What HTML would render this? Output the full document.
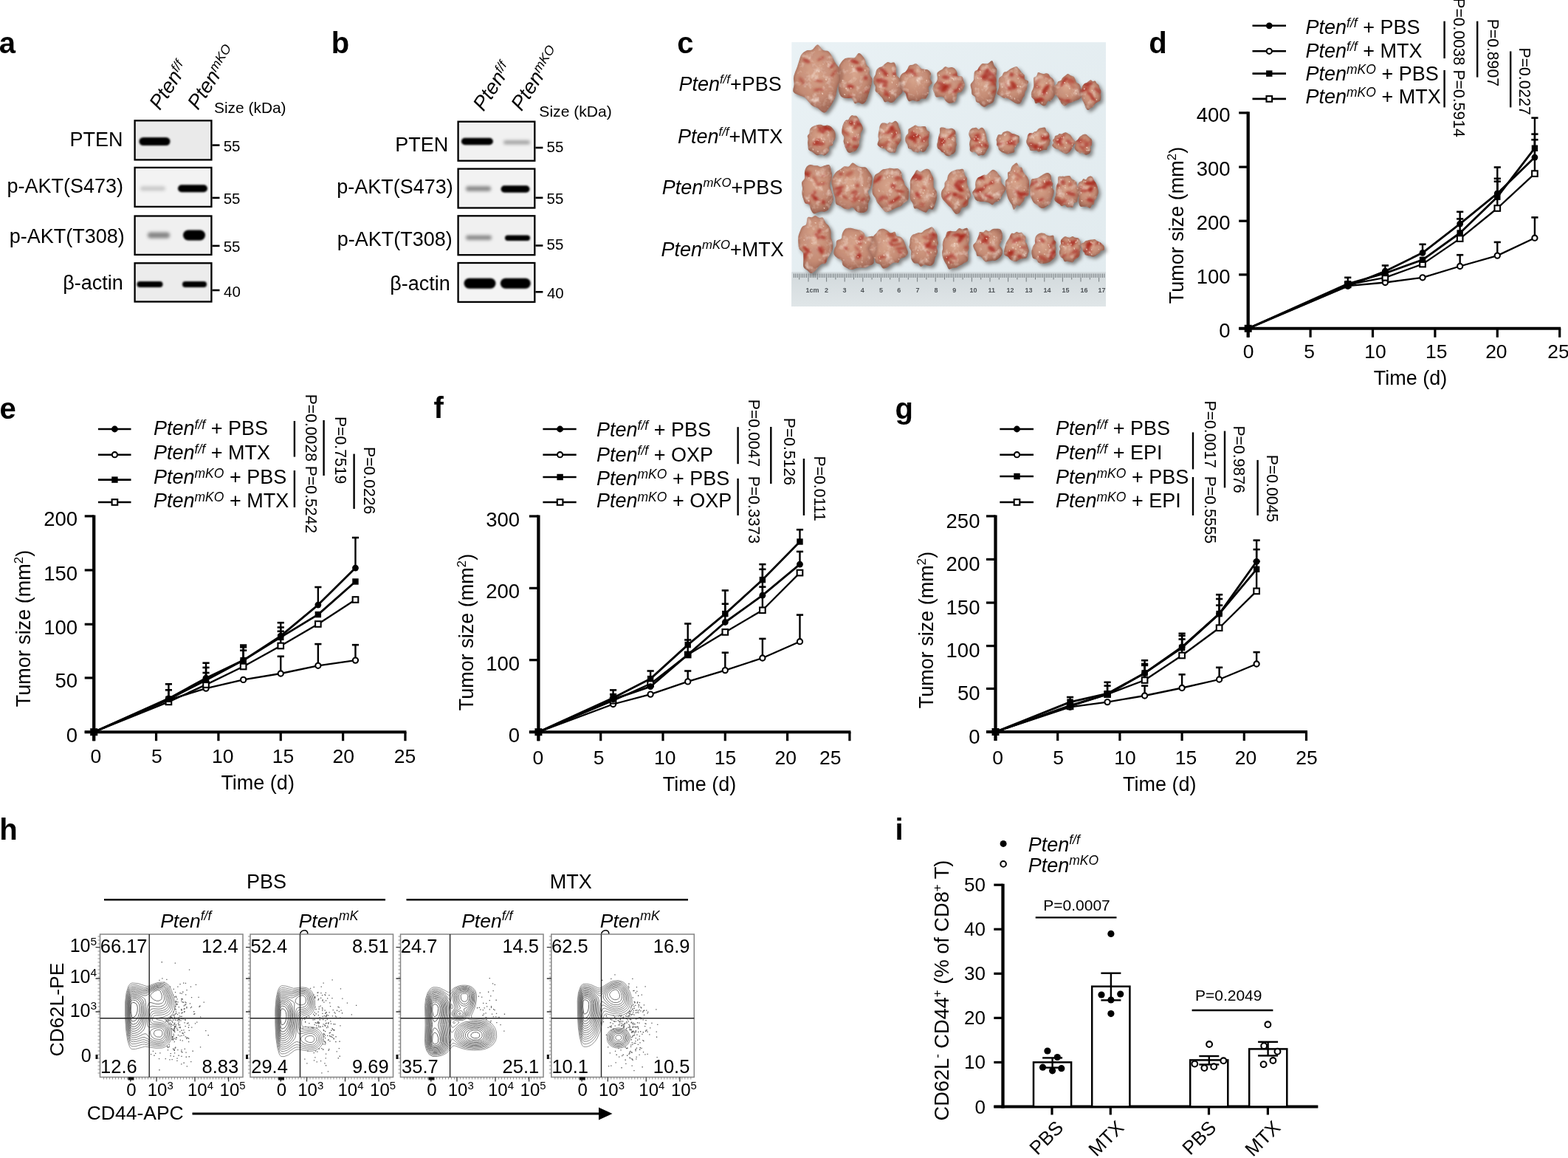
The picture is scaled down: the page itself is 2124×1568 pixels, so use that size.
<!DOCTYPE html>
<html><head><meta charset="utf-8"><title>Figure</title>
<style>
html,body{margin:0;padding:0;background:#fff;overflow:hidden;}
svg{display:block;font-family:'Liberation Sans', Arial, Helvetica, sans-serif;}
</style></head><body>
<svg xmlns="http://www.w3.org/2000/svg" width="2124" height="1568" viewBox="0 0 2124 1568">
<defs>
<filter id="bl1" x="-30%" y="-100%" width="160%" height="300%"><feGaussianBlur stdDeviation="1.3"/></filter>
<filter id="bl2" x="-30%" y="-100%" width="160%" height="300%"><feGaussianBlur stdDeviation="2.2"/></filter>
<filter id="bl3" x="-30%" y="-100%" width="160%" height="300%"><feGaussianBlur stdDeviation="0.6"/></filter>
<filter id="sh" x="-20%" y="-20%" width="140%" height="140%"><feGaussianBlur stdDeviation="2.5"/></filter>
<filter id="rb" x="-50%" y="-50%" width="200%" height="200%"><feGaussianBlur stdDeviation="1.5"/></filter>
<radialGradient id="tg" cx="45%" cy="40%" r="65%"><stop offset="0" stop-color="#d9a78e"/><stop offset="0.6" stop-color="#c48b74"/><stop offset="1" stop-color="#98604f"/></radialGradient>
<filter id="tex" x="0" y="0" width="100%" height="100%"><feTurbulence type="fractalNoise" baseFrequency="0.1" numOctaves="3" seed="4"/><feColorMatrix type="matrix" values="0 0 0 0 0.96  0 0 0 0 0.84  0 0 0 0 0.76  2.6 0 0 0 -1.3"/></filter>
<filter id="tex2" x="0" y="0" width="100%" height="100%"><feTurbulence type="fractalNoise" baseFrequency="0.07" numOctaves="3" seed="9"/><feColorMatrix type="matrix" values="0 0 0 0 0.55  0 0 0 0 0.28  0 0 0 0 0.22  2.6 0 0 0 -1.3"/></filter>
<linearGradient id="bgg" x1="0" y1="0" x2="1" y2="1"><stop offset="0" stop-color="#eef5f8" stop-opacity="0.6"/><stop offset="1" stop-color="#dfe7ea" stop-opacity="0.3"/></linearGradient>
<linearGradient id="rug" x1="0" y1="0" x2="0" y2="1"><stop offset="0" stop-color="#d2d9dc"/><stop offset="1" stop-color="#e0e6e8"/></linearGradient>
<path id="t0" d="M1140.5,105.5 C1139.8,108.3 1137.3,110.7 1136.1,113.2 C1135.0,115.7 1134.4,117.9 1133.8,120.5 C1133.2,123.2 1133.3,126.3 1132.4,129.1 C1131.6,131.8 1130.3,134.5 1128.8,137.2 C1127.4,139.9 1125.8,142.9 1123.7,145.5 C1121.7,148.0 1119.3,152.4 1116.6,152.5 C1113.9,152.7 1110.2,147.9 1107.5,146.3 C1104.8,144.7 1102.4,144.6 1100.3,143.0 C1098.1,141.4 1096.5,138.8 1094.7,137.0 C1093.0,135.1 1091.8,133.1 1089.8,131.8 C1087.8,130.5 1085.1,130.3 1082.6,129.1 C1080.0,127.8 1075.7,126.8 1074.6,124.3 C1073.4,121.8 1075.6,117.2 1075.7,114.1 C1075.7,111.0 1074.7,108.3 1075.0,105.5 C1075.2,102.7 1076.4,99.9 1077.2,97.3 C1078.1,94.7 1079.2,92.4 1080.1,89.9 C1081.0,87.3 1081.6,84.7 1082.6,82.0 C1083.5,79.2 1084.3,75.7 1085.9,73.5 C1087.6,71.2 1090.1,69.5 1092.5,68.5 C1094.8,67.5 1097.6,68.7 1100.1,67.3 C1102.7,66.0 1105.1,60.4 1107.5,60.5 C1109.9,60.5 1112.3,66.2 1114.8,67.7 C1117.2,69.2 1120.1,68.0 1122.2,69.4 C1124.2,70.9 1125.7,74.0 1127.1,76.4 C1128.5,78.7 1129.4,81.3 1130.7,83.6 C1132.0,85.8 1133.4,87.7 1135.0,89.8 C1136.6,92.0 1139.4,94.0 1140.3,96.6 C1141.2,99.2 1141.2,102.7 1140.5,105.5 Z"/>
<path id="t1" d="M1181.4,107.0 C1181.8,109.5 1180.9,112.4 1180.3,114.9 C1179.8,117.4 1179.0,119.7 1178.3,122.1 C1177.6,124.5 1176.9,126.8 1176.0,129.2 C1175.2,131.6 1174.5,134.6 1173.2,136.5 C1172.0,138.5 1170.3,140.5 1168.5,140.8 C1166.8,141.2 1164.5,138.9 1162.7,138.8 C1160.9,138.6 1159.4,140.9 1158.0,140.0 C1156.6,139.1 1155.5,134.6 1154.1,133.4 C1152.7,132.2 1151.5,133.1 1149.9,133.0 C1148.3,133.0 1146.4,133.3 1144.6,132.9 C1142.8,132.4 1140.5,131.9 1139.1,130.3 C1137.7,128.7 1136.8,125.8 1136.2,123.2 C1135.7,120.6 1135.6,117.5 1136.0,114.8 C1136.3,112.1 1138.0,109.5 1138.2,107.0 C1138.4,104.5 1137.4,102.3 1137.1,99.6 C1136.8,96.9 1136.0,93.5 1136.4,90.9 C1136.8,88.4 1138.4,86.2 1139.6,84.3 C1140.9,82.5 1142.3,80.7 1143.9,79.7 C1145.5,78.7 1147.4,78.5 1149.0,78.3 C1150.7,78.0 1152.2,78.2 1153.7,78.2 C1155.2,78.1 1156.4,79.0 1158.0,78.0 C1159.6,77.0 1161.5,72.5 1163.2,72.1 C1164.8,71.6 1166.5,73.7 1167.9,75.2 C1169.3,76.6 1170.6,78.6 1171.6,80.7 C1172.5,82.8 1172.7,85.7 1173.7,87.6 C1174.7,89.6 1176.9,90.4 1177.6,92.4 C1178.3,94.5 1177.2,97.6 1177.8,100.0 C1178.4,102.4 1181.0,104.5 1181.4,107.0 Z"/>
<path id="t2" d="M1220.5,112.0 C1221.0,113.9 1221.9,116.1 1222.2,118.3 C1222.5,120.5 1222.9,123.5 1222.2,125.3 C1221.5,127.2 1219.4,128.2 1218.1,129.5 C1216.8,130.8 1215.7,131.9 1214.5,133.1 C1213.3,134.4 1212.4,136.3 1211.1,137.2 C1209.9,138.2 1208.3,139.0 1206.9,139.0 C1205.4,139.0 1203.9,137.4 1202.5,137.2 C1201.1,137.1 1199.5,138.8 1198.3,138.1 C1197.1,137.4 1196.3,134.3 1195.3,132.9 C1194.4,131.5 1193.4,130.8 1192.4,129.7 C1191.5,128.7 1190.6,127.7 1189.5,126.6 C1188.3,125.5 1186.4,124.9 1185.8,123.3 C1185.1,121.8 1186.2,119.3 1185.8,117.4 C1185.4,115.5 1183.8,113.9 1183.5,112.0 C1183.1,110.1 1183.1,107.8 1183.5,105.9 C1183.9,104.0 1185.3,102.6 1185.9,100.8 C1186.5,98.9 1186.5,96.5 1187.3,95.0 C1188.1,93.4 1189.6,92.3 1190.9,91.5 C1192.1,90.7 1193.7,90.9 1195.0,90.1 C1196.3,89.3 1197.2,87.9 1198.4,86.8 C1199.7,85.8 1201.1,84.2 1202.5,83.9 C1203.9,83.7 1205.3,85.0 1206.8,85.2 C1208.4,85.4 1210.6,83.9 1211.7,85.0 C1212.9,86.1 1213.5,89.6 1213.9,91.9 C1214.3,94.3 1213.7,97.2 1214.0,99.1 C1214.3,101.0 1214.6,101.9 1215.5,103.2 C1216.4,104.4 1218.4,105.2 1219.3,106.6 C1220.1,108.1 1220.0,110.1 1220.5,112.0 Z"/>
<path id="t3" d="M1262.6,112.5 C1262.2,114.3 1258.7,115.9 1258.0,117.7 C1257.3,119.6 1258.6,121.8 1258.3,123.7 C1258.1,125.6 1257.3,127.5 1256.5,129.2 C1255.7,130.8 1254.8,132.9 1253.4,133.7 C1252.0,134.4 1249.8,133.2 1248.3,133.7 C1246.9,134.2 1246.0,136.3 1244.7,136.8 C1243.4,137.4 1241.9,137.2 1240.5,137.0 C1239.1,136.8 1238.0,135.7 1236.4,135.8 C1234.9,135.8 1232.7,137.8 1231.4,137.2 C1230.1,136.6 1229.1,134.1 1228.4,132.4 C1227.6,130.6 1227.7,128.2 1226.9,126.7 C1226.0,125.2 1224.5,124.7 1223.3,123.3 C1222.2,122.0 1220.6,120.4 1220.0,118.6 C1219.5,116.8 1220.4,114.6 1220.2,112.5 C1220.0,110.4 1218.7,108.1 1218.9,106.1 C1219.1,104.0 1220.0,101.8 1221.2,100.4 C1222.4,98.9 1224.8,98.6 1226.1,97.5 C1227.4,96.4 1228.1,95.2 1229.1,93.7 C1230.0,92.3 1230.5,89.7 1231.7,88.7 C1232.9,87.7 1234.7,88.1 1236.2,87.7 C1237.6,87.3 1239.1,86.0 1240.5,86.2 C1241.9,86.4 1243.4,87.9 1244.6,89.0 C1245.8,90.1 1246.6,91.9 1247.8,92.7 C1249.0,93.4 1250.3,93.4 1251.9,93.8 C1253.5,94.1 1255.9,93.9 1257.4,94.9 C1258.9,95.8 1260.6,97.6 1261.1,99.5 C1261.5,101.5 1259.9,104.5 1260.2,106.6 C1260.4,108.8 1262.9,110.7 1262.6,112.5 Z"/>
<path id="t4" d="M1306.8,114.5 C1306.8,116.4 1305.8,118.5 1305.0,120.1 C1304.2,121.8 1303.3,123.6 1302.0,124.6 C1300.6,125.6 1298.0,125.2 1297.0,126.3 C1296.0,127.5 1296.4,129.5 1295.9,131.4 C1295.4,133.2 1295.0,136.1 1293.9,137.4 C1292.9,138.7 1291.0,138.8 1289.6,139.2 C1288.1,139.5 1286.4,139.9 1285.0,139.5 C1283.6,139.0 1282.1,137.8 1280.9,136.6 C1279.8,135.3 1279.3,132.8 1278.2,131.9 C1277.1,131.0 1276.1,131.1 1274.4,131.0 C1272.7,130.9 1269.4,132.1 1268.0,131.3 C1266.5,130.4 1266.4,127.8 1265.7,126.0 C1265.0,124.2 1263.7,122.5 1263.6,120.5 C1263.6,118.6 1264.5,116.3 1265.4,114.5 C1266.2,112.7 1268.2,111.5 1268.9,110.0 C1269.7,108.5 1269.8,107.3 1269.9,105.5 C1269.9,103.7 1268.9,100.7 1269.4,99.1 C1269.9,97.5 1271.7,96.8 1272.9,95.8 C1274.2,94.8 1275.5,94.3 1276.8,93.4 C1278.0,92.4 1279.1,90.5 1280.5,90.2 C1281.9,89.9 1283.5,91.5 1285.0,91.7 C1286.5,91.8 1287.9,90.8 1289.3,91.0 C1290.7,91.2 1292.2,92.0 1293.4,93.0 C1294.5,94.1 1295.5,95.7 1296.1,97.2 C1296.8,98.8 1296.1,101.3 1297.2,102.4 C1298.4,103.5 1301.8,102.7 1303.1,103.7 C1304.4,104.8 1304.4,107.1 1305.0,108.9 C1305.6,110.7 1306.8,112.6 1306.8,114.5 Z"/>
<path id="t5" d="M1349.3,114.5 C1349.3,116.4 1350.1,118.4 1350.1,120.3 C1350.1,122.2 1349.6,124.2 1349.2,126.1 C1348.8,128.0 1348.2,129.7 1347.6,131.6 C1347.0,133.6 1346.7,136.3 1345.7,137.8 C1344.8,139.3 1343.2,139.8 1341.9,140.6 C1340.6,141.3 1339.3,141.4 1338.0,142.1 C1336.7,142.8 1335.4,144.6 1334.0,144.8 C1332.6,145.0 1331.1,144.2 1329.8,143.3 C1328.6,142.5 1327.6,140.5 1326.4,139.5 C1325.1,138.6 1323.3,139.0 1322.3,137.6 C1321.4,136.2 1321.8,132.8 1320.8,131.1 C1319.9,129.5 1317.6,129.3 1316.7,127.7 C1315.9,126.0 1316.2,123.2 1315.9,121.0 C1315.5,118.9 1314.3,116.5 1314.7,114.5 C1315.2,112.5 1317.9,110.8 1318.7,109.0 C1319.5,107.1 1319.1,105.3 1319.4,103.3 C1319.6,101.4 1319.4,98.6 1320.2,97.1 C1321.0,95.6 1322.9,95.7 1324.0,94.6 C1325.0,93.4 1325.6,91.6 1326.6,90.2 C1327.6,88.9 1328.7,87.1 1330.0,86.4 C1331.2,85.8 1332.6,86.3 1334.0,86.2 C1335.4,86.1 1336.5,86.7 1338.1,86.0 C1339.7,85.4 1342.4,81.7 1343.8,82.2 C1345.3,82.7 1345.8,87.0 1346.8,89.0 C1347.9,91.0 1349.8,91.7 1350.2,94.0 C1350.6,96.3 1349.5,100.3 1349.4,102.8 C1349.3,105.2 1349.8,106.8 1349.8,108.8 C1349.8,110.8 1349.2,112.6 1349.3,114.5 Z"/>
<path id="t6" d="M1391.5,115.5 C1391.2,117.2 1391.4,118.9 1390.9,120.4 C1390.4,121.8 1389.0,122.9 1388.5,124.4 C1388.0,126.0 1388.3,128.0 1387.7,129.6 C1387.1,131.1 1385.8,132.0 1384.9,133.7 C1384.0,135.3 1383.6,138.5 1382.3,139.6 C1381.0,140.7 1378.7,140.5 1377.0,140.2 C1375.3,139.8 1373.5,138.4 1372.0,137.5 C1370.5,136.6 1369.3,135.7 1368.1,134.9 C1366.8,134.2 1365.9,133.3 1364.6,132.9 C1363.2,132.5 1361.3,133.2 1359.8,132.7 C1358.3,132.3 1357.1,131.2 1355.5,130.3 C1354.0,129.3 1351.0,128.8 1350.5,127.1 C1350.0,125.5 1352.1,122.4 1352.6,120.5 C1353.0,118.5 1353.3,117.2 1353.3,115.5 C1353.3,113.8 1352.7,112.2 1352.7,110.5 C1352.8,108.9 1352.8,106.9 1353.5,105.5 C1354.3,104.1 1356.3,103.6 1357.4,102.4 C1358.4,101.2 1358.6,99.1 1359.7,98.2 C1360.8,97.2 1362.7,97.5 1364.0,96.8 C1365.3,96.1 1366.3,94.9 1367.6,94.0 C1369.0,93.2 1370.4,92.4 1372.0,91.7 C1373.6,91.1 1375.6,89.9 1377.1,90.3 C1378.6,90.7 1379.9,92.9 1381.1,94.3 C1382.3,95.6 1383.0,97.2 1384.1,98.5 C1385.2,99.7 1386.9,100.2 1387.5,101.6 C1388.2,103.0 1387.1,105.4 1388.0,106.9 C1388.9,108.3 1392.3,108.7 1392.9,110.1 C1393.5,111.6 1391.8,113.8 1391.5,115.5 Z"/>
<path id="t7" d="M1429.9,120.2 C1430.2,122.0 1430.1,124.0 1429.7,125.7 C1429.4,127.4 1428.7,129.0 1428.0,130.5 C1427.2,131.9 1426.3,133.1 1425.4,134.2 C1424.5,135.3 1423.6,136.4 1422.6,137.0 C1421.5,137.5 1420.1,136.7 1419.2,137.5 C1418.2,138.3 1417.8,140.9 1416.9,141.9 C1415.9,142.8 1414.6,143.3 1413.5,143.2 C1412.4,143.1 1411.2,142.1 1410.2,141.4 C1409.2,140.7 1408.6,139.3 1407.3,139.1 C1406.1,138.9 1403.8,140.8 1402.7,140.1 C1401.6,139.4 1401.8,136.4 1400.9,135.0 C1400.0,133.6 1398.2,133.1 1397.5,131.5 C1396.9,130.0 1396.7,127.6 1397.0,125.8 C1397.3,123.9 1398.7,121.9 1399.3,120.2 C1399.8,118.6 1400.2,117.4 1400.4,115.9 C1400.6,114.3 1400.3,112.8 1400.3,110.9 C1400.3,109.1 1399.8,106.3 1400.5,105.0 C1401.1,103.7 1403.1,104.1 1404.1,102.9 C1405.1,101.8 1405.2,98.7 1406.2,98.1 C1407.3,97.5 1409.0,99.0 1410.2,99.3 C1411.5,99.6 1412.4,100.0 1413.5,100.0 C1414.6,100.0 1415.7,99.2 1416.8,99.2 C1417.9,99.2 1419.2,99.3 1420.1,100.0 C1421.1,100.8 1421.6,102.7 1422.5,103.7 C1423.4,104.7 1424.7,105.0 1425.6,106.0 C1426.5,107.1 1427.5,108.5 1428.0,110.0 C1428.4,111.5 1428.1,113.6 1428.4,115.3 C1428.7,117.0 1429.7,118.5 1429.9,120.2 Z"/>
<path id="t8" d="M1464.3,122.3 C1464.5,123.8 1464.9,125.4 1464.9,127.0 C1464.8,128.6 1464.9,130.6 1464.2,131.9 C1463.5,133.3 1462.0,134.3 1460.7,135.1 C1459.4,135.8 1457.9,136.1 1456.6,136.6 C1455.4,137.1 1454.3,137.6 1453.2,138.0 C1452.1,138.5 1451.1,138.8 1449.9,139.2 C1448.8,139.6 1447.8,139.7 1446.5,140.4 C1445.2,141.1 1443.6,143.3 1442.2,143.3 C1440.9,143.4 1439.5,142.0 1438.5,140.9 C1437.5,139.9 1436.9,138.2 1436.1,136.9 C1435.4,135.7 1434.8,134.6 1434.1,133.5 C1433.3,132.4 1432.7,131.4 1431.8,130.3 C1430.8,129.2 1429.1,128.3 1428.4,127.0 C1427.6,125.6 1427.5,123.9 1427.2,122.3 C1427.0,120.7 1426.3,118.7 1427.0,117.3 C1427.7,115.9 1430.4,115.3 1431.4,114.1 C1432.5,113.0 1432.3,111.2 1433.2,110.4 C1434.1,109.5 1436.1,109.8 1437.1,109.0 C1438.1,108.2 1438.4,106.5 1439.3,105.5 C1440.2,104.5 1441.4,103.8 1442.6,102.8 C1443.7,101.9 1445.2,100.0 1446.5,99.9 C1447.8,99.8 1449.2,101.6 1450.6,102.2 C1451.9,102.9 1453.4,102.8 1454.4,103.8 C1455.4,104.7 1456.0,106.6 1456.7,107.9 C1457.3,109.2 1457.5,110.7 1458.3,111.7 C1459.2,112.7 1461.0,112.9 1461.9,114.0 C1462.8,115.0 1463.3,116.5 1463.7,117.9 C1464.1,119.3 1464.1,120.8 1464.3,122.3 Z"/>
<path id="t9" d="M1491.1,127.3 C1491.1,128.8 1491.5,130.3 1491.4,131.7 C1491.3,133.1 1491.2,134.9 1490.5,135.9 C1489.7,137.0 1488.1,137.3 1487.1,137.9 C1486.1,138.5 1485.4,139.0 1484.6,139.6 C1483.8,140.3 1483.2,140.9 1482.5,141.8 C1481.8,142.7 1481.3,144.3 1480.4,145.1 C1479.6,145.8 1478.6,145.6 1477.5,146.3 C1476.4,147.0 1475.0,149.1 1473.9,149.1 C1472.8,149.1 1471.7,147.4 1470.9,146.2 C1470.2,145.0 1469.8,143.0 1469.2,141.7 C1468.7,140.3 1468.2,139.3 1467.7,138.2 C1467.1,137.0 1466.4,136.2 1466.0,135.0 C1465.5,133.9 1465.4,132.5 1465.0,131.3 C1464.6,130.0 1463.8,128.7 1463.5,127.3 C1463.3,125.9 1463.4,124.3 1463.7,122.9 C1464.0,121.6 1464.6,120.3 1465.2,119.1 C1465.7,117.8 1466.2,116.6 1466.9,115.5 C1467.5,114.5 1468.3,113.5 1469.2,112.9 C1470.1,112.3 1471.2,112.4 1472.1,111.9 C1473.0,111.4 1473.8,110.6 1474.6,110.0 C1475.5,109.4 1476.6,108.1 1477.5,108.2 C1478.4,108.2 1479.3,110.0 1480.3,110.2 C1481.3,110.5 1482.7,109.3 1483.6,109.7 C1484.5,110.2 1484.9,112.2 1485.7,113.1 C1486.5,114.0 1487.7,114.3 1488.4,115.3 C1489.0,116.3 1489.1,118.0 1489.6,119.2 C1490.1,120.5 1491.1,121.6 1491.3,122.9 C1491.6,124.3 1491.1,125.8 1491.1,127.3 Z"/>
<path id="t10" d="M1130.9,188.5 C1130.3,190.0 1128.9,191.2 1128.3,192.5 C1127.8,193.9 1128.6,195.8 1127.8,196.7 C1127.0,197.7 1124.2,197.2 1123.5,198.4 C1122.7,199.5 1123.7,202.2 1123.3,203.7 C1122.8,205.3 1121.7,206.7 1120.6,207.8 C1119.5,208.9 1118.1,210.2 1116.6,210.5 C1115.2,210.7 1113.5,209.2 1112.0,209.1 C1110.5,209.1 1108.9,210.4 1107.4,210.2 C1106.0,210.0 1104.6,208.7 1103.3,207.9 C1102.0,207.1 1100.9,206.1 1099.6,205.3 C1098.3,204.4 1096.2,204.1 1095.3,202.8 C1094.5,201.6 1094.8,199.2 1094.6,197.6 C1094.4,195.9 1094.1,194.4 1094.1,192.9 C1094.1,191.4 1094.7,190.0 1094.7,188.5 C1094.6,187.0 1093.5,185.4 1093.8,184.0 C1094.1,182.7 1095.9,181.8 1096.4,180.4 C1097.0,179.0 1096.4,177.0 1097.0,175.6 C1097.5,174.2 1098.7,173.0 1099.9,172.1 C1101.0,171.2 1102.5,170.8 1103.9,170.3 C1105.2,169.8 1106.5,169.2 1107.9,168.9 C1109.2,168.7 1110.7,168.6 1112.0,168.8 C1113.3,169.1 1114.4,170.2 1115.9,170.3 C1117.3,170.4 1119.0,169.4 1120.5,169.5 C1122.0,169.6 1123.6,170.2 1124.9,171.0 C1126.3,171.8 1127.3,173.2 1128.4,174.4 C1129.4,175.7 1130.5,177.0 1131.1,178.6 C1131.6,180.1 1131.7,182.0 1131.7,183.6 C1131.7,185.3 1131.5,187.0 1130.9,188.5 Z"/>
<path id="t11" d="M1165.7,181.0 C1165.2,182.9 1165.8,184.5 1165.6,186.1 C1165.3,187.7 1164.5,188.8 1164.2,190.5 C1163.9,192.2 1164.3,194.6 1163.9,196.2 C1163.5,197.8 1162.6,198.8 1161.9,200.0 C1161.2,201.3 1160.5,202.8 1159.7,203.7 C1158.8,204.6 1157.8,204.9 1156.9,205.3 C1155.9,205.7 1155.0,205.7 1154.0,206.0 C1153.0,206.3 1151.9,207.1 1150.9,206.9 C1149.9,206.8 1148.8,206.2 1147.9,205.2 C1147.1,204.2 1146.3,202.5 1145.7,201.1 C1145.0,199.6 1144.5,198.0 1144.0,196.4 C1143.5,194.8 1142.7,193.3 1142.6,191.5 C1142.5,189.7 1143.7,187.4 1143.3,185.7 C1143.0,183.9 1141.1,182.8 1140.6,181.0 C1140.2,179.2 1140.5,177.0 1140.6,175.1 C1140.8,173.2 1141.2,171.3 1141.7,169.6 C1142.3,168.0 1142.9,166.4 1143.7,165.2 C1144.5,164.1 1145.4,163.1 1146.4,162.6 C1147.3,162.1 1148.4,162.7 1149.3,162.1 C1150.1,161.4 1150.5,159.6 1151.3,158.6 C1152.1,157.6 1153.1,156.3 1154.0,156.0 C1154.9,155.7 1155.9,156.7 1156.9,156.8 C1157.9,157.0 1159.1,156.4 1160.0,156.9 C1161.0,157.4 1161.9,158.7 1162.7,160.0 C1163.5,161.3 1163.9,163.2 1164.7,164.7 C1165.4,166.1 1166.5,167.1 1167.2,168.8 C1167.9,170.4 1169.1,172.4 1168.9,174.5 C1168.6,176.5 1166.3,179.1 1165.7,181.0 Z"/>
<path id="t12" d="M1220.2,185.0 C1220.2,186.5 1221.0,188.3 1220.7,189.7 C1220.4,191.1 1219.2,192.4 1218.5,193.5 C1217.8,194.7 1216.9,195.6 1216.2,196.8 C1215.6,197.9 1215.1,199.1 1214.5,200.6 C1213.9,202.2 1213.8,205.3 1212.8,206.2 C1211.8,207.2 1210.0,206.2 1208.7,206.3 C1207.4,206.4 1206.2,206.9 1205.0,206.6 C1203.8,206.3 1202.6,205.4 1201.6,204.6 C1200.6,203.7 1199.9,202.3 1198.9,201.7 C1197.9,201.0 1196.7,201.2 1195.5,200.7 C1194.3,200.3 1192.8,199.8 1191.7,198.9 C1190.5,198.0 1188.8,197.0 1188.6,195.4 C1188.3,193.8 1190.1,191.1 1190.3,189.4 C1190.5,187.7 1189.7,186.5 1189.7,185.0 C1189.6,183.5 1189.7,182.0 1189.9,180.5 C1190.1,179.0 1190.6,177.6 1190.9,176.1 C1191.2,174.5 1191.2,172.6 1191.7,171.1 C1192.3,169.6 1193.0,167.8 1194.1,167.1 C1195.2,166.3 1196.9,166.5 1198.2,166.6 C1199.6,166.7 1200.9,167.8 1202.0,167.7 C1203.1,167.5 1204.0,165.8 1205.0,165.6 C1206.0,165.4 1206.9,166.6 1208.2,166.3 C1209.6,166.0 1211.5,163.7 1212.8,163.7 C1214.1,163.8 1215.4,165.3 1216.2,166.6 C1217.0,168.0 1217.1,170.3 1217.6,171.8 C1218.1,173.3 1218.9,174.5 1219.4,175.9 C1219.8,177.3 1220.1,178.9 1220.3,180.4 C1220.4,181.9 1220.1,183.5 1220.2,185.0 Z"/>
<path id="t13" d="M1258.0,188.0 C1257.8,189.4 1257.8,190.6 1257.8,192.0 C1257.8,193.4 1258.4,195.2 1258.0,196.6 C1257.7,197.9 1256.4,198.7 1255.7,199.9 C1255.0,201.1 1254.6,202.8 1253.8,203.8 C1252.9,204.8 1251.7,205.8 1250.5,205.9 C1249.3,206.0 1247.7,204.4 1246.6,204.5 C1245.4,204.5 1244.6,206.2 1243.5,206.4 C1242.4,206.6 1241.3,205.8 1240.2,205.6 C1239.1,205.4 1237.8,205.6 1236.8,205.0 C1235.8,204.4 1235.4,202.8 1234.3,202.1 C1233.3,201.4 1231.4,201.6 1230.5,200.7 C1229.7,199.7 1229.9,197.7 1229.3,196.4 C1228.7,195.1 1227.5,194.0 1227.0,192.6 C1226.4,191.2 1226.0,189.5 1226.1,188.0 C1226.2,186.5 1226.8,184.8 1227.5,183.5 C1228.2,182.2 1229.8,181.6 1230.3,180.2 C1230.8,178.9 1230.0,176.5 1230.5,175.3 C1231.1,174.1 1232.7,173.7 1233.8,173.0 C1234.8,172.3 1235.8,171.7 1236.9,171.2 C1237.9,170.6 1239.0,169.5 1240.1,169.5 C1241.2,169.5 1242.4,170.8 1243.5,171.1 C1244.6,171.4 1245.5,171.4 1246.6,171.4 C1247.7,171.4 1248.9,171.0 1250.2,171.1 C1251.4,171.1 1253.1,170.9 1254.0,171.8 C1254.9,172.7 1254.7,175.0 1255.6,176.2 C1256.4,177.3 1258.6,177.5 1259.1,178.8 C1259.6,180.0 1258.8,182.2 1258.6,183.8 C1258.4,185.3 1258.1,186.6 1258.0,188.0 Z"/>
<path id="t14" d="M1294.9,191.5 C1295.0,192.9 1295.7,194.5 1295.7,195.8 C1295.6,197.2 1294.8,198.3 1294.6,199.8 C1294.3,201.3 1294.6,203.5 1294.2,204.8 C1293.7,206.2 1292.6,207.2 1291.7,207.9 C1290.8,208.6 1289.6,208.7 1288.7,209.2 C1287.7,209.8 1287.0,210.9 1286.0,211.2 C1285.1,211.5 1284.0,211.3 1283.0,211.0 C1282.0,210.7 1281.1,210.1 1280.3,209.4 C1279.5,208.7 1278.9,207.4 1278.1,206.8 C1277.3,206.2 1276.3,206.3 1275.5,205.6 C1274.7,205.0 1274.3,203.8 1273.4,203.0 C1272.5,202.2 1270.9,201.8 1270.2,200.7 C1269.6,199.6 1269.3,197.7 1269.3,196.2 C1269.3,194.6 1270.0,193.0 1270.3,191.5 C1270.5,190.0 1270.7,188.7 1270.9,187.4 C1271.2,186.0 1271.4,184.7 1271.8,183.4 C1272.1,182.1 1272.8,181.3 1273.1,179.7 C1273.4,178.0 1272.8,174.7 1273.4,173.5 C1274.1,172.3 1275.8,172.6 1276.9,172.5 C1278.0,172.5 1279.2,172.9 1280.2,173.2 C1281.2,173.5 1282.1,174.2 1283.0,174.4 C1283.9,174.6 1284.6,174.6 1285.6,174.5 C1286.5,174.4 1287.6,173.7 1288.7,173.8 C1289.7,173.8 1290.9,174.2 1291.8,174.9 C1292.8,175.6 1293.9,176.5 1294.3,177.9 C1294.7,179.4 1294.2,181.8 1294.3,183.3 C1294.5,184.9 1295.1,186.0 1295.1,187.3 C1295.2,188.7 1294.8,190.1 1294.9,191.5 Z"/>
<path id="t15" d="M1337.8,191.5 C1338.3,192.8 1339.2,194.4 1339.4,195.8 C1339.5,197.3 1339.1,198.9 1338.7,200.2 C1338.2,201.5 1337.3,202.5 1336.7,203.7 C1336.0,204.9 1335.5,206.3 1334.7,207.4 C1334.0,208.4 1333.0,209.6 1332.0,210.0 C1331.0,210.5 1329.7,209.9 1328.6,210.0 C1327.5,210.2 1326.5,211.1 1325.5,210.7 C1324.5,210.4 1323.6,208.6 1322.8,207.8 C1321.9,207.0 1321.5,206.1 1320.5,205.8 C1319.5,205.5 1318.0,206.5 1316.9,206.2 C1315.9,205.9 1314.5,205.2 1314.0,204.1 C1313.5,202.9 1314.0,200.6 1313.8,199.2 C1313.7,197.7 1313.2,196.6 1313.1,195.4 C1313.1,194.1 1313.4,192.7 1313.7,191.5 C1313.9,190.3 1314.8,189.5 1314.7,188.1 C1314.5,186.7 1312.9,184.7 1312.6,183.0 C1312.3,181.3 1312.6,179.4 1313.1,177.9 C1313.6,176.5 1314.5,175.2 1315.5,174.4 C1316.5,173.6 1318.0,173.6 1319.1,173.3 C1320.2,173.0 1321.3,172.4 1322.4,172.8 C1323.4,173.1 1324.5,175.2 1325.5,175.3 C1326.5,175.3 1327.5,173.4 1328.6,173.1 C1329.6,172.7 1331.0,172.8 1331.8,173.4 C1332.7,174.1 1333.4,175.7 1334.0,177.0 C1334.5,178.2 1335.0,179.5 1335.3,180.7 C1335.7,182.0 1335.9,183.3 1336.1,184.5 C1336.3,185.7 1336.3,186.9 1336.6,188.0 C1336.9,189.2 1337.3,190.2 1337.8,191.5 Z"/>
<path id="t16" d="M1380.3,192.8 C1379.8,193.9 1378.0,194.9 1377.3,195.8 C1376.6,196.8 1376.5,197.7 1375.9,198.5 C1375.4,199.4 1374.3,199.6 1374.0,200.7 C1373.7,201.9 1374.6,204.4 1374.1,205.4 C1373.6,206.5 1372.1,206.7 1371.0,207.0 C1370.0,207.4 1368.8,207.4 1367.7,207.7 C1366.6,208.0 1365.6,208.8 1364.5,208.8 C1363.4,208.8 1362.3,207.9 1361.3,207.5 C1360.2,207.1 1359.2,207.0 1358.2,206.6 C1357.2,206.1 1356.2,205.5 1355.4,204.8 C1354.5,204.1 1353.6,203.3 1353.0,202.4 C1352.5,201.4 1352.6,200.1 1352.1,199.0 C1351.6,198.0 1350.5,197.2 1350.2,196.2 C1349.9,195.1 1350.5,193.9 1350.4,192.8 C1350.3,191.6 1349.6,190.3 1349.6,189.2 C1349.7,188.0 1350.2,186.9 1350.7,185.8 C1351.2,184.7 1351.4,183.2 1352.4,182.6 C1353.4,182.0 1355.6,182.8 1356.6,182.3 C1357.6,181.8 1357.7,180.2 1358.5,179.5 C1359.3,178.9 1360.4,178.6 1361.4,178.3 C1362.4,178.0 1363.5,177.5 1364.5,177.6 C1365.5,177.6 1366.6,178.1 1367.6,178.6 C1368.5,179.0 1369.2,179.9 1370.2,180.4 C1371.1,180.8 1372.2,180.8 1373.3,181.2 C1374.4,181.5 1375.5,181.9 1376.7,182.5 C1378.0,183.1 1380.0,183.5 1380.6,184.6 C1381.2,185.7 1380.5,187.6 1380.4,188.9 C1380.4,190.3 1380.8,191.6 1380.3,192.8 Z"/>
<path id="t17" d="M1422.8,190.0 C1422.9,191.0 1422.2,192.1 1421.9,193.2 C1421.6,194.3 1421.7,195.4 1421.2,196.4 C1420.7,197.3 1419.4,197.8 1418.9,198.9 C1418.3,199.9 1418.6,202.0 1417.8,202.7 C1416.9,203.4 1415.0,202.9 1413.7,203.1 C1412.5,203.4 1411.6,203.8 1410.4,204.2 C1409.3,204.5 1408.1,205.5 1407.0,205.4 C1405.9,205.4 1404.8,204.0 1403.6,203.8 C1402.4,203.6 1401.1,204.1 1399.8,204.1 C1398.4,204.0 1396.5,204.2 1395.5,203.5 C1394.6,202.7 1394.7,200.7 1394.2,199.6 C1393.6,198.5 1392.8,197.7 1392.2,196.7 C1391.6,195.7 1390.8,194.6 1390.5,193.5 C1390.2,192.4 1390.3,191.1 1390.5,190.0 C1390.7,188.9 1391.3,187.8 1391.6,186.7 C1391.8,185.6 1391.7,184.3 1392.2,183.3 C1392.6,182.3 1393.2,181.0 1394.3,180.5 C1395.4,180.0 1397.7,180.7 1398.8,180.4 C1399.9,180.0 1400.2,178.8 1401.1,178.4 C1401.9,178.0 1403.0,178.5 1404.0,177.8 C1405.0,177.1 1405.8,175.1 1407.0,174.3 C1408.2,173.5 1409.6,173.3 1411.1,173.1 C1412.6,172.9 1414.7,172.1 1415.8,172.9 C1416.9,173.6 1416.8,176.4 1417.6,177.5 C1418.4,178.7 1419.7,179.0 1420.4,180.0 C1421.1,181.0 1421.4,182.3 1421.5,183.4 C1421.7,184.6 1421.1,185.8 1421.3,186.9 C1421.5,188.0 1422.7,189.0 1422.8,190.0 Z"/>
<path id="t18" d="M1457.4,193.2 C1457.2,194.3 1455.1,195.3 1454.4,196.3 C1453.7,197.2 1453.8,198.2 1453.4,199.1 C1452.9,200.0 1452.2,200.7 1451.6,201.6 C1451.1,202.4 1450.6,203.4 1449.9,204.3 C1449.3,205.1 1448.5,206.0 1447.6,206.6 C1446.7,207.3 1445.6,208.2 1444.5,208.3 C1443.4,208.4 1442.1,207.6 1441.0,207.1 C1439.9,206.7 1439.1,205.9 1438.2,205.4 C1437.3,204.9 1436.3,204.8 1435.6,204.3 C1434.9,203.7 1434.6,202.6 1433.8,202.2 C1432.9,201.7 1431.5,201.9 1430.4,201.5 C1429.4,201.1 1428.1,200.5 1427.3,199.7 C1426.4,199.0 1425.3,197.9 1425.2,196.8 C1425.2,195.7 1426.9,194.4 1427.0,193.2 C1427.2,192.1 1425.8,190.9 1426.0,189.9 C1426.2,188.9 1427.7,188.2 1428.2,187.2 C1428.8,186.3 1428.6,184.8 1429.3,184.1 C1430.1,183.4 1431.8,183.6 1432.7,183.0 C1433.7,182.5 1434.1,181.3 1435.0,181.0 C1435.9,180.7 1437.2,181.6 1438.2,181.4 C1439.2,181.2 1440.0,180.3 1441.0,179.9 C1442.0,179.6 1443.2,179.2 1444.2,179.4 C1445.2,179.5 1446.1,180.4 1447.0,180.9 C1447.9,181.5 1448.9,181.9 1449.7,182.5 C1450.4,183.2 1450.9,184.2 1451.5,185.0 C1452.1,185.9 1452.6,186.7 1453.2,187.5 C1453.7,188.3 1454.3,189.1 1455.0,190.1 C1455.7,191.1 1457.5,192.2 1457.4,193.2 Z"/>
<path id="t19" d="M1479.0,196.2 C1478.7,197.1 1477.4,197.7 1477.2,198.5 C1476.9,199.3 1477.3,200.1 1477.4,201.1 C1477.5,202.0 1477.7,203.3 1477.5,204.3 C1477.3,205.4 1476.9,206.5 1476.3,207.3 C1475.6,208.0 1474.6,208.5 1473.7,208.9 C1472.9,209.3 1471.9,209.8 1470.9,209.7 C1469.9,209.6 1468.9,208.7 1468.0,208.3 C1467.1,207.8 1466.5,207.3 1465.7,207.1 C1464.8,207.0 1463.7,207.8 1462.9,207.6 C1462.1,207.4 1461.6,206.4 1460.8,205.8 C1460.1,205.3 1459.1,205.0 1458.4,204.4 C1457.7,203.8 1456.9,203.0 1456.4,202.2 C1455.9,201.3 1455.4,200.3 1455.4,199.3 C1455.5,198.3 1456.7,197.3 1456.7,196.2 C1456.8,195.2 1455.4,194.1 1455.5,193.2 C1455.7,192.3 1456.8,191.6 1457.5,190.9 C1458.2,190.2 1459.1,189.9 1459.8,189.3 C1460.4,188.6 1460.6,187.9 1461.2,187.2 C1461.7,186.4 1462.2,185.7 1462.9,185.0 C1463.6,184.4 1464.4,183.9 1465.2,183.4 C1466.1,182.9 1467.0,182.3 1468.0,182.0 C1469.0,181.8 1470.1,181.7 1471.1,182.0 C1472.0,182.3 1472.8,183.3 1473.6,184.0 C1474.4,184.6 1475.0,185.3 1475.7,185.9 C1476.5,186.6 1477.4,187.0 1478.0,187.8 C1478.6,188.6 1479.0,189.5 1479.2,190.5 C1479.4,191.5 1479.1,192.6 1479.1,193.6 C1479.0,194.5 1479.3,195.4 1479.0,196.2 Z"/>
<path id="t20" d="M1124.9,254.5 C1125.4,256.7 1126.6,258.9 1127.2,261.5 C1127.8,264.1 1128.7,267.6 1128.5,270.2 C1128.2,272.9 1126.8,275.0 1125.8,277.2 C1124.8,279.4 1123.7,281.9 1122.3,283.5 C1120.9,285.0 1119.1,286.0 1117.4,286.5 C1115.7,287.0 1113.9,286.4 1112.2,286.6 C1110.6,286.8 1109.1,287.3 1107.5,287.7 C1105.9,288.1 1103.9,289.8 1102.4,289.2 C1100.9,288.6 1099.5,285.9 1098.4,283.9 C1097.4,281.8 1097.3,278.4 1096.0,276.9 C1094.8,275.5 1092.1,276.5 1090.8,275.2 C1089.5,273.9 1088.8,271.3 1088.1,269.1 C1087.3,266.9 1086.6,264.4 1086.4,262.0 C1086.3,259.6 1087.1,257.0 1087.0,254.5 C1086.9,252.0 1085.6,249.1 1086.1,246.9 C1086.6,244.7 1089.4,243.7 1090.0,241.4 C1090.7,239.0 1089.5,235.3 1090.0,232.7 C1090.4,230.1 1091.4,227.3 1092.7,225.7 C1094.1,224.1 1096.1,223.3 1097.8,223.0 C1099.5,222.8 1101.5,224.1 1103.1,224.3 C1104.7,224.5 1106.1,224.0 1107.5,224.3 C1108.9,224.6 1110.1,225.9 1111.7,225.9 C1113.2,225.9 1114.9,224.7 1116.8,224.3 C1118.8,223.9 1121.8,222.3 1123.3,223.5 C1124.9,224.7 1125.4,228.8 1126.0,231.5 C1126.6,234.2 1127.3,237.0 1127.0,239.9 C1126.7,242.7 1124.7,246.1 1124.3,248.5 C1124.0,251.0 1124.4,252.3 1124.9,254.5 Z"/>
<path id="t21" d="M1179.2,254.0 C1178.3,256.2 1175.9,257.5 1175.8,259.8 C1175.7,262.1 1178.6,265.5 1178.7,267.9 C1178.8,270.4 1176.9,272.0 1176.2,274.7 C1175.6,277.4 1176.1,282.2 1174.8,284.4 C1173.5,286.6 1170.7,287.6 1168.4,288.0 C1166.1,288.4 1163.4,288.0 1161.1,286.8 C1158.9,285.7 1156.9,281.6 1155.0,281.0 C1153.1,280.4 1151.4,283.0 1149.5,283.2 C1147.7,283.5 1145.5,283.3 1143.7,282.6 C1141.9,282.0 1140.5,280.2 1138.6,279.1 C1136.8,277.9 1133.7,277.8 1132.5,275.9 C1131.3,274.0 1131.9,270.4 1131.3,267.9 C1130.8,265.5 1129.7,263.5 1129.1,261.2 C1128.5,258.9 1128.2,256.5 1127.8,254.0 C1127.3,251.5 1126.1,248.6 1126.3,246.0 C1126.5,243.4 1127.7,240.9 1128.9,238.6 C1130.0,236.4 1131.4,234.2 1133.1,232.6 C1134.7,231.0 1136.9,230.2 1138.7,229.0 C1140.4,227.8 1141.9,225.9 1143.7,225.3 C1145.5,224.7 1147.8,226.2 1149.7,225.4 C1151.5,224.6 1153.2,220.6 1155.0,220.4 C1156.8,220.1 1158.8,223.0 1160.6,223.9 C1162.4,224.9 1163.9,225.7 1166.0,226.1 C1168.0,226.6 1170.9,225.7 1172.8,226.7 C1174.7,227.7 1175.9,230.3 1177.3,232.3 C1178.7,234.2 1180.4,236.2 1181.1,238.6 C1181.8,241.0 1181.6,244.1 1181.3,246.7 C1181.0,249.2 1180.1,251.8 1179.2,254.0 Z"/>
<path id="t22" d="M1230.6,256.5 C1231.4,258.6 1231.1,261.2 1231.0,263.6 C1230.9,265.9 1230.9,268.8 1229.9,270.7 C1228.8,272.6 1226.2,273.6 1224.6,275.0 C1223.0,276.3 1221.8,278.0 1220.3,279.0 C1218.7,280.0 1216.8,280.3 1215.2,281.0 C1213.6,281.7 1212.1,282.4 1210.5,283.2 C1208.9,284.0 1207.3,285.1 1205.5,285.8 C1203.7,286.4 1201.5,287.6 1199.7,287.1 C1198.0,286.5 1196.5,284.1 1195.1,282.6 C1193.8,281.1 1192.6,279.4 1191.4,277.9 C1190.2,276.4 1188.8,275.2 1187.9,273.5 C1187.0,271.9 1186.7,269.8 1185.8,268.0 C1184.8,266.3 1182.9,264.9 1182.2,263.0 C1181.5,261.0 1181.5,258.6 1181.5,256.5 C1181.6,254.4 1182.1,252.3 1182.4,250.1 C1182.7,247.9 1182.8,245.7 1183.3,243.5 C1183.8,241.3 1184.1,238.6 1185.3,237.0 C1186.5,235.3 1188.9,234.9 1190.5,233.7 C1192.1,232.5 1193.3,230.7 1194.9,229.9 C1196.5,229.0 1198.5,229.2 1200.3,228.8 C1202.1,228.5 1203.8,227.8 1205.5,227.8 C1207.2,227.7 1208.9,228.3 1210.8,228.4 C1212.6,228.6 1215.0,227.6 1216.6,228.4 C1218.3,229.2 1219.9,231.2 1220.8,233.2 C1221.7,235.3 1221.4,238.5 1222.0,240.5 C1222.6,242.6 1223.7,243.7 1224.4,245.5 C1225.1,247.2 1225.1,249.0 1226.1,250.8 C1227.2,252.6 1229.8,254.4 1230.6,256.5 Z"/>
<path id="t23" d="M1268.2,258.5 C1268.9,260.4 1269.1,262.9 1269.1,265.0 C1269.1,267.2 1268.7,269.5 1268.2,271.6 C1267.7,273.7 1267.0,275.8 1266.2,277.8 C1265.4,279.7 1264.7,282.6 1263.4,283.4 C1262.1,284.3 1259.6,282.4 1258.2,283.1 C1256.7,283.7 1256.1,286.8 1254.8,287.4 C1253.5,288.0 1251.9,287.0 1250.5,286.6 C1249.1,286.1 1247.9,285.3 1246.6,284.6 C1245.4,283.9 1244.4,282.9 1243.0,282.4 C1241.6,282.0 1239.5,283.0 1238.4,281.9 C1237.3,280.7 1237.3,277.4 1236.5,275.6 C1235.7,273.8 1234.3,272.8 1233.6,271.0 C1232.9,269.2 1232.6,266.9 1232.5,264.8 C1232.4,262.7 1232.9,260.6 1233.0,258.5 C1233.1,256.4 1233.0,254.5 1233.0,252.3 C1233.0,250.2 1232.5,247.5 1232.9,245.4 C1233.3,243.4 1234.5,241.6 1235.4,240.0 C1236.4,238.3 1237.5,237.0 1238.5,235.4 C1239.6,233.8 1240.3,230.8 1241.7,230.4 C1243.1,229.9 1245.2,232.7 1246.7,232.7 C1248.1,232.8 1249.1,231.1 1250.5,230.5 C1251.9,229.8 1253.4,228.8 1254.9,228.8 C1256.4,228.8 1258.1,229.2 1259.3,230.4 C1260.5,231.7 1261.1,234.5 1262.0,236.3 C1262.8,238.2 1263.9,239.6 1264.3,241.5 C1264.7,243.5 1264.4,246.1 1264.5,248.1 C1264.6,250.1 1264.2,251.7 1264.8,253.5 C1265.4,255.2 1267.5,256.6 1268.2,258.5 Z"/>
<path id="t24" d="M1313.4,258.5 C1314.0,260.5 1315.3,263.2 1315.0,265.1 C1314.8,267.1 1312.7,268.4 1312.1,270.4 C1311.4,272.3 1311.9,275.3 1311.1,277.0 C1310.3,278.7 1308.6,279.7 1307.3,280.5 C1305.9,281.2 1304.2,280.4 1303.0,281.6 C1301.8,282.8 1301.2,286.2 1300.0,287.6 C1298.7,289.0 1296.9,290.2 1295.5,290.0 C1294.1,289.7 1292.5,287.5 1291.3,286.0 C1290.0,284.6 1289.2,282.6 1288.1,281.3 C1287.0,280.1 1285.8,279.6 1284.8,278.5 C1283.7,277.4 1282.8,276.1 1281.7,274.9 C1280.6,273.6 1279.1,272.6 1278.0,271.0 C1276.9,269.5 1275.5,267.5 1275.1,265.4 C1274.7,263.3 1274.9,260.6 1275.7,258.5 C1276.4,256.4 1278.7,254.9 1279.4,253.0 C1280.1,251.2 1279.2,248.8 1279.8,247.2 C1280.3,245.6 1282.1,245.1 1282.8,243.5 C1283.6,241.9 1283.5,239.2 1284.2,237.5 C1285.0,235.8 1286.2,234.4 1287.4,233.4 C1288.5,232.3 1290.0,231.9 1291.3,231.3 C1292.7,230.6 1294.1,230.0 1295.5,229.7 C1296.9,229.4 1298.4,229.4 1300.0,229.4 C1301.5,229.3 1303.7,228.2 1304.9,229.5 C1306.1,230.7 1306.3,234.9 1307.1,236.9 C1307.9,238.9 1309.5,239.5 1310.0,241.3 C1310.4,243.2 1309.7,246.2 1310.0,248.1 C1310.2,250.1 1310.9,251.4 1311.5,253.1 C1312.0,254.8 1312.8,256.5 1313.4,258.5 Z"/>
<path id="t25" d="M1362.6,254.5 C1363.0,256.2 1361.3,258.1 1360.5,259.8 C1359.6,261.4 1358.6,262.7 1357.8,264.1 C1357.0,265.6 1356.4,267.1 1355.5,268.4 C1354.7,269.8 1353.8,271.4 1352.6,272.2 C1351.3,273.1 1349.5,272.7 1348.1,273.5 C1346.8,274.4 1346.0,277.0 1344.6,277.2 C1343.2,277.4 1341.4,275.3 1340.0,274.7 C1338.6,274.1 1337.5,273.7 1336.2,273.4 C1334.8,273.1 1333.6,273.2 1332.0,273.1 C1330.5,273.0 1328.6,273.3 1327.0,272.9 C1325.3,272.5 1323.2,271.9 1321.9,270.7 C1320.7,269.5 1320.1,267.4 1319.3,265.7 C1318.5,264.0 1317.0,262.2 1317.3,260.3 C1317.7,258.5 1320.6,256.3 1321.3,254.5 C1321.9,252.7 1321.1,251.3 1321.2,249.7 C1321.3,248.1 1321.4,246.2 1322.0,244.7 C1322.6,243.2 1323.5,241.7 1324.6,240.7 C1325.8,239.7 1327.5,239.4 1328.8,238.7 C1330.1,238.1 1331.2,237.2 1332.4,236.9 C1333.7,236.5 1335.1,237.3 1336.4,236.7 C1337.7,236.2 1338.6,234.6 1340.0,233.5 C1341.4,232.3 1343.4,230.0 1345.0,229.8 C1346.6,229.6 1348.3,231.0 1349.6,232.1 C1350.9,233.3 1351.7,235.1 1352.8,236.4 C1353.9,237.7 1355.5,238.6 1356.0,240.1 C1356.6,241.7 1355.8,244.1 1356.2,245.7 C1356.6,247.3 1357.3,248.3 1358.4,249.8 C1359.5,251.2 1362.3,252.8 1362.6,254.5 Z"/>
<path id="t26" d="M1394.1,251.5 C1394.2,253.7 1394.5,256.1 1394.3,258.3 C1394.1,260.5 1393.9,263.2 1392.9,264.7 C1391.9,266.1 1389.4,265.7 1388.4,266.9 C1387.4,268.2 1387.5,270.7 1386.7,272.1 C1386.0,273.5 1384.9,274.1 1383.9,275.2 C1383.0,276.3 1382.1,278.3 1381.0,278.8 C1379.9,279.3 1378.8,277.2 1377.5,278.0 C1376.2,278.9 1374.5,284.0 1373.3,283.8 C1372.2,283.7 1371.5,278.9 1370.6,277.1 C1369.6,275.3 1368.7,274.4 1367.8,273.0 C1367.0,271.6 1366.1,270.2 1365.4,268.5 C1364.8,266.9 1364.4,264.9 1363.9,263.1 C1363.5,261.2 1363.2,259.3 1362.9,257.4 C1362.5,255.5 1362.0,253.5 1361.9,251.5 C1361.7,249.5 1361.4,246.9 1362.0,245.2 C1362.5,243.5 1364.8,242.9 1365.3,241.1 C1365.8,239.2 1364.5,235.5 1365.1,233.9 C1365.6,232.3 1367.5,232.7 1368.5,231.4 C1369.4,230.0 1369.6,227.2 1370.5,225.7 C1371.4,224.2 1372.6,223.3 1373.8,222.5 C1374.9,221.6 1376.3,220.1 1377.5,220.7 C1378.7,221.3 1379.6,225.2 1380.7,226.3 C1381.8,227.4 1383.3,226.0 1384.1,227.0 C1385.0,228.1 1385.3,231.0 1386.0,232.5 C1386.8,234.0 1387.6,234.8 1388.5,236.0 C1389.4,237.1 1390.6,238.0 1391.5,239.5 C1392.4,241.0 1393.4,242.9 1393.8,244.9 C1394.2,246.9 1394.0,249.3 1394.1,251.5 Z"/>
<path id="t27" d="M1427.6,258.0 C1427.9,259.5 1427.4,261.2 1427.1,262.8 C1426.8,264.3 1426.2,265.7 1425.7,267.1 C1425.1,268.5 1424.6,269.8 1424.0,271.3 C1423.4,272.8 1423.1,274.8 1422.3,276.0 C1421.4,277.2 1420.0,277.7 1418.9,278.5 C1417.8,279.3 1416.6,280.3 1415.4,280.9 C1414.2,281.5 1412.8,282.2 1411.5,282.1 C1410.2,281.9 1408.9,280.8 1407.7,279.9 C1406.6,279.1 1405.7,277.9 1404.6,277.1 C1403.5,276.3 1402.2,276.1 1401.2,275.2 C1400.2,274.3 1399.4,273.0 1398.6,271.7 C1397.9,270.4 1397.5,268.8 1396.9,267.4 C1396.3,265.9 1395.3,264.6 1395.0,263.0 C1394.8,261.4 1395.3,259.7 1395.3,258.0 C1395.3,256.3 1394.6,254.5 1394.8,252.9 C1394.9,251.3 1395.8,249.9 1396.3,248.2 C1396.7,246.5 1396.4,244.0 1397.3,242.9 C1398.2,241.8 1400.4,242.0 1401.7,241.7 C1403.1,241.4 1404.3,241.4 1405.3,240.9 C1406.4,240.5 1407.3,239.8 1408.3,239.2 C1409.3,238.6 1410.3,238.1 1411.5,237.3 C1412.7,236.6 1414.0,235.5 1415.4,235.0 C1416.9,234.4 1418.7,233.7 1420.1,234.2 C1421.5,234.7 1422.9,236.1 1423.6,237.8 C1424.3,239.5 1423.8,242.7 1424.3,244.4 C1424.7,246.2 1426.1,247.0 1426.3,248.5 C1426.4,250.1 1425.2,252.2 1425.4,253.8 C1425.6,255.4 1427.3,256.5 1427.6,258.0 Z"/>
<path id="t28" d="M1462.4,259.5 C1462.3,261.1 1462.2,262.8 1461.8,264.3 C1461.4,265.9 1460.4,267.0 1459.9,268.5 C1459.4,270.0 1459.7,272.4 1458.9,273.5 C1458.1,274.5 1455.9,273.8 1455.0,275.0 C1454.1,276.2 1454.3,279.7 1453.3,280.6 C1452.3,281.4 1450.4,280.2 1449.1,280.2 C1447.8,280.2 1446.6,280.8 1445.5,280.4 C1444.4,279.9 1443.6,277.6 1442.4,277.4 C1441.2,277.2 1439.4,279.3 1438.2,279.1 C1437.1,278.9 1436.3,277.2 1435.2,276.3 C1434.1,275.5 1432.6,275.1 1431.5,274.1 C1430.3,273.1 1428.6,271.9 1428.4,270.3 C1428.1,268.6 1429.7,265.9 1430.1,264.1 C1430.5,262.3 1430.6,261.0 1430.6,259.5 C1430.7,258.0 1430.3,256.5 1430.5,255.0 C1430.6,253.6 1431.0,252.0 1431.4,250.7 C1431.9,249.3 1432.9,248.6 1433.2,246.8 C1433.6,244.9 1432.6,241.1 1433.4,239.7 C1434.2,238.4 1436.5,239.0 1437.9,238.9 C1439.3,238.7 1440.6,239.0 1441.9,238.9 C1443.2,238.8 1444.3,238.3 1445.5,238.2 C1446.7,238.1 1448.1,237.7 1449.2,238.3 C1450.3,239.0 1450.9,241.4 1451.9,242.3 C1452.8,243.2 1454.0,243.2 1455.0,243.9 C1456.1,244.6 1457.3,245.3 1458.0,246.5 C1458.6,247.7 1458.2,249.7 1458.9,251.1 C1459.7,252.4 1461.8,253.1 1462.3,254.5 C1462.9,255.9 1462.5,257.9 1462.4,259.5 Z"/>
<path id="t29" d="M1487.8,260.5 C1487.7,262.0 1486.9,263.6 1486.4,265.0 C1485.9,266.4 1485.5,267.8 1484.9,268.9 C1484.3,270.0 1483.1,270.3 1482.6,271.6 C1482.1,272.8 1482.5,275.4 1481.9,276.5 C1481.3,277.5 1479.8,276.9 1479.0,277.7 C1478.1,278.6 1477.6,281.2 1476.7,281.7 C1475.8,282.2 1474.5,281.0 1473.5,280.6 C1472.5,280.2 1471.7,279.6 1470.6,279.5 C1469.6,279.4 1468.6,279.8 1467.4,279.8 C1466.2,279.8 1464.5,280.3 1463.5,279.5 C1462.5,278.7 1461.9,276.6 1461.6,275.0 C1461.2,273.3 1461.1,271.3 1461.2,269.5 C1461.2,267.8 1461.7,266.0 1461.9,264.5 C1462.1,263.0 1462.4,261.9 1462.4,260.5 C1462.3,259.1 1461.8,257.9 1461.5,256.3 C1461.2,254.7 1460.2,252.5 1460.4,250.9 C1460.5,249.3 1461.3,247.7 1462.1,246.7 C1462.9,245.7 1464.5,245.8 1465.4,245.1 C1466.3,244.3 1466.7,242.4 1467.7,242.1 C1468.6,241.8 1469.9,243.6 1470.9,243.3 C1471.9,243.0 1472.5,240.9 1473.5,240.1 C1474.5,239.3 1475.7,238.5 1476.8,238.4 C1477.9,238.4 1479.2,238.9 1480.0,239.9 C1480.9,240.9 1481.3,243.1 1482.0,244.3 C1482.7,245.6 1483.6,246.3 1484.3,247.5 C1484.9,248.6 1485.5,250.0 1486.0,251.4 C1486.5,252.7 1486.9,254.2 1487.2,255.7 C1487.6,257.3 1488.0,259.0 1487.8,260.5 Z"/>
<path id="t30" d="M1127.8,329.0 C1128.2,331.7 1128.3,334.9 1127.7,337.5 C1127.1,340.0 1125.5,342.2 1124.3,344.3 C1123.2,346.4 1122.0,348.0 1121.0,350.1 C1120.0,352.1 1119.5,355.3 1118.2,356.5 C1116.9,357.8 1114.6,356.7 1113.1,357.4 C1111.5,358.2 1110.5,359.4 1109.1,360.9 C1107.6,362.4 1106.2,365.0 1104.5,366.5 C1102.8,368.0 1100.5,370.2 1098.6,370.1 C1096.8,370.0 1095.1,367.3 1093.4,365.8 C1091.7,364.3 1089.3,363.9 1088.4,361.2 C1087.6,358.5 1088.6,352.7 1088.4,349.5 C1088.3,346.3 1088.6,344.1 1087.6,342.0 C1086.6,339.9 1083.7,339.2 1082.6,337.0 C1081.6,334.8 1081.6,331.7 1081.4,329.0 C1081.2,326.3 1081.0,323.2 1081.4,320.6 C1081.8,317.9 1082.8,315.3 1083.8,313.0 C1084.7,310.7 1085.6,308.2 1087.0,306.7 C1088.4,305.2 1090.8,305.9 1092.0,303.9 C1093.2,301.8 1092.8,296.0 1094.1,294.4 C1095.3,292.8 1097.8,294.6 1099.5,294.2 C1101.3,293.8 1102.9,291.8 1104.5,291.9 C1106.1,292.0 1107.7,294.3 1109.4,294.8 C1111.1,295.3 1113.3,293.8 1114.8,294.9 C1116.2,296.0 1117.0,299.5 1118.3,301.4 C1119.6,303.2 1121.4,304.0 1122.6,305.9 C1123.8,307.9 1124.9,310.3 1125.4,312.9 C1125.9,315.4 1125.2,318.6 1125.6,321.3 C1126.1,324.0 1127.5,326.3 1127.8,329.0 Z"/>
<path id="t31" d="M1187.0,338.0 C1186.8,340.0 1186.3,342.0 1185.7,343.9 C1185.2,345.8 1184.2,347.4 1183.7,349.5 C1183.3,351.6 1184.4,354.9 1183.3,356.7 C1182.2,358.4 1179.2,359.0 1177.2,360.0 C1175.2,361.0 1173.4,362.2 1171.3,362.6 C1169.2,363.0 1166.8,362.2 1164.8,362.3 C1162.7,362.5 1161.0,363.1 1159.0,363.5 C1157.0,364.0 1154.6,365.3 1152.6,365.1 C1150.5,365.0 1148.6,363.6 1146.7,362.5 C1144.9,361.5 1142.8,360.6 1141.7,359.0 C1140.5,357.3 1141.1,354.2 1140.0,352.6 C1138.8,351.0 1136.3,350.7 1134.5,349.4 C1132.8,348.0 1130.4,346.4 1129.7,344.5 C1128.9,342.6 1129.6,340.1 1130.0,338.0 C1130.5,335.9 1131.9,334.1 1132.5,332.2 C1133.0,330.2 1132.2,327.6 1133.4,326.1 C1134.5,324.6 1138.3,324.7 1139.6,323.1 C1140.9,321.4 1140.1,318.4 1141.0,316.2 C1141.9,314.1 1143.2,311.2 1145.0,310.0 C1146.9,308.7 1149.7,308.7 1152.1,308.8 C1154.4,308.9 1156.8,310.0 1159.0,310.5 C1161.2,311.0 1163.4,310.8 1165.2,311.7 C1167.1,312.5 1168.9,314.1 1170.2,315.6 C1171.5,317.1 1171.2,320.0 1173.2,320.8 C1175.3,321.5 1180.3,319.2 1182.4,320.0 C1184.4,320.9 1184.8,323.7 1185.6,325.7 C1186.4,327.6 1186.9,329.8 1187.1,331.8 C1187.4,333.9 1187.2,336.0 1187.0,338.0 Z"/>
<path id="t32" d="M1228.1,336.0 C1228.8,338.1 1230.3,340.6 1229.9,342.6 C1229.6,344.7 1227.8,346.7 1226.0,348.1 C1224.3,349.4 1221.0,349.3 1219.5,350.6 C1218.0,351.8 1218.4,354.8 1217.0,355.6 C1215.6,356.4 1212.7,355.1 1211.0,355.5 C1209.3,355.9 1208.3,356.9 1206.8,358.0 C1205.3,359.1 1203.8,361.2 1202.0,362.1 C1200.2,363.0 1197.7,363.9 1196.0,363.2 C1194.4,362.5 1193.5,359.0 1191.9,357.7 C1190.4,356.5 1188.0,357.1 1186.8,355.9 C1185.5,354.7 1185.5,352.0 1184.7,350.4 C1183.8,348.8 1182.7,347.6 1181.7,346.2 C1180.7,344.7 1179.8,343.2 1178.7,341.5 C1177.7,339.8 1175.4,337.8 1175.7,336.0 C1176.1,334.2 1179.8,332.6 1180.9,331.0 C1182.0,329.3 1181.9,327.9 1182.2,326.1 C1182.6,324.3 1182.2,321.8 1182.9,320.2 C1183.7,318.5 1185.5,317.6 1186.8,316.1 C1188.1,314.6 1189.0,312.3 1190.5,311.2 C1192.1,310.2 1194.3,309.6 1196.3,309.8 C1198.2,310.0 1200.3,311.3 1202.0,312.3 C1203.7,313.3 1204.8,315.4 1206.5,315.6 C1208.2,315.9 1210.9,313.2 1212.2,313.9 C1213.6,314.5 1213.3,318.3 1214.6,319.5 C1216.0,320.7 1218.6,320.0 1220.1,320.9 C1221.7,321.9 1222.9,323.5 1223.9,325.0 C1224.8,326.6 1225.3,328.5 1226.0,330.3 C1226.7,332.1 1227.5,333.9 1228.1,336.0 Z"/>
<path id="t33" d="M1268.8,335.0 C1268.6,336.8 1270.0,338.4 1270.0,340.1 C1270.0,341.8 1269.4,343.5 1268.8,345.1 C1268.3,346.7 1267.3,347.9 1266.7,349.6 C1266.1,351.4 1266.1,354.1 1265.2,355.7 C1264.3,357.4 1262.9,358.9 1261.5,359.5 C1260.0,360.2 1258.1,359.8 1256.5,359.6 C1254.9,359.5 1253.5,358.4 1252.0,358.6 C1250.5,358.8 1248.7,361.1 1247.3,360.8 C1245.9,360.5 1245.1,357.5 1243.6,356.7 C1242.2,355.9 1239.9,357.0 1238.5,356.2 C1237.1,355.4 1235.8,353.7 1235.0,352.0 C1234.2,350.2 1234.0,347.9 1233.9,345.9 C1233.8,343.9 1234.6,341.9 1234.3,340.1 C1233.9,338.2 1232.0,336.8 1231.7,335.0 C1231.4,333.2 1232.3,331.4 1232.5,329.4 C1232.7,327.5 1232.4,325.3 1232.9,323.5 C1233.4,321.7 1234.3,319.8 1235.6,318.6 C1236.8,317.5 1238.8,317.2 1240.2,316.6 C1241.7,316.0 1242.9,315.2 1244.3,315.0 C1245.6,314.7 1247.1,315.6 1248.4,315.1 C1249.6,314.6 1250.6,312.8 1252.0,311.9 C1253.4,311.0 1254.8,310.5 1256.6,309.8 C1258.4,309.1 1261.0,307.0 1262.6,307.5 C1264.2,307.9 1265.3,310.7 1266.4,312.4 C1267.5,314.1 1268.7,315.8 1269.3,317.7 C1269.9,319.7 1269.5,322.3 1269.8,324.3 C1270.1,326.3 1271.1,327.8 1270.9,329.6 C1270.8,331.4 1268.9,333.2 1268.8,335.0 Z"/>
<path id="t34" d="M1312.5,336.0 C1312.4,337.8 1311.2,339.3 1311.0,341.2 C1310.9,343.1 1311.6,345.3 1311.6,347.3 C1311.5,349.4 1311.4,352.2 1310.5,353.6 C1309.6,355.0 1307.5,355.2 1306.2,356.0 C1304.9,356.8 1303.9,357.9 1302.7,358.6 C1301.4,359.3 1300.2,359.5 1298.9,360.2 C1297.6,360.9 1296.4,362.2 1295.0,362.7 C1293.6,363.1 1292.3,362.6 1290.7,362.8 C1289.1,363.1 1286.8,365.1 1285.4,364.4 C1284.0,363.7 1283.3,360.5 1282.3,358.7 C1281.3,356.9 1280.2,355.5 1279.3,353.7 C1278.5,352.0 1277.5,350.3 1277.0,348.3 C1276.5,346.4 1276.2,344.2 1276.2,342.1 C1276.2,340.0 1277.1,338.0 1277.2,336.0 C1277.3,334.0 1276.6,332.0 1276.8,330.1 C1277.0,328.2 1277.6,326.2 1278.3,324.6 C1279.0,322.9 1280.2,321.8 1281.0,320.1 C1281.7,318.4 1281.8,315.5 1282.8,314.3 C1283.8,313.1 1285.7,312.9 1287.1,312.7 C1288.5,312.6 1290.0,313.2 1291.3,313.3 C1292.7,313.3 1293.7,313.5 1295.0,312.9 C1296.3,312.2 1297.9,309.5 1299.3,309.1 C1300.8,308.7 1301.9,310.4 1303.7,310.4 C1305.5,310.4 1308.7,308.0 1310.2,308.9 C1311.7,309.8 1312.3,313.4 1312.8,315.9 C1313.2,318.3 1313.2,321.2 1313.1,323.6 C1312.9,326.1 1312.0,328.4 1312.0,330.5 C1311.9,332.6 1312.7,334.2 1312.5,336.0 Z"/>
<path id="t35" d="M1353.9,332.0 C1354.1,333.4 1356.3,334.8 1356.9,336.5 C1357.6,338.1 1358.0,340.3 1357.9,342.0 C1357.7,343.7 1356.9,345.4 1356.0,346.8 C1355.1,348.2 1353.7,349.3 1352.4,350.3 C1351.2,351.3 1349.8,352.2 1348.3,352.7 C1346.9,353.1 1345.2,352.7 1343.7,352.9 C1342.2,353.0 1341.0,353.2 1339.5,353.5 C1338.0,353.7 1336.3,354.7 1335.0,354.3 C1333.6,353.8 1332.5,352.1 1331.4,351.0 C1330.3,349.8 1329.9,348.2 1328.6,347.5 C1327.3,346.7 1324.6,347.4 1323.5,346.4 C1322.5,345.4 1322.8,343.0 1322.1,341.4 C1321.5,339.9 1320.2,338.7 1319.6,337.1 C1318.9,335.6 1317.8,333.6 1318.2,332.0 C1318.6,330.4 1321.1,328.9 1322.0,327.5 C1322.9,326.1 1323.2,324.8 1323.8,323.4 C1324.4,322.1 1325.1,321.0 1325.6,319.5 C1326.2,318.0 1326.0,315.2 1327.0,314.3 C1328.1,313.5 1330.6,314.9 1332.0,314.4 C1333.4,313.9 1334.1,311.5 1335.3,311.4 C1336.6,311.2 1338.1,313.4 1339.5,313.3 C1340.9,313.1 1342.3,311.1 1343.9,310.4 C1345.4,309.8 1347.2,309.7 1349.0,309.7 C1350.9,309.7 1353.4,309.4 1354.8,310.4 C1356.2,311.4 1357.0,313.9 1357.5,315.8 C1357.9,317.8 1358.0,320.1 1357.7,322.1 C1357.4,324.1 1356.5,326.1 1355.9,327.8 C1355.3,329.4 1353.8,330.6 1353.9,332.0 Z"/>
<path id="t36" d="M1392.3,334.5 C1392.8,336.1 1393.7,338.0 1393.6,339.7 C1393.6,341.3 1392.7,342.9 1392.1,344.4 C1391.6,346.0 1391.4,348.2 1390.4,349.1 C1389.3,350.0 1387.2,349.6 1386.0,349.9 C1384.7,350.2 1383.8,350.5 1382.8,350.8 C1381.8,351.2 1380.9,351.5 1379.9,351.9 C1379.0,352.4 1378.0,353.4 1377.0,353.8 C1376.0,354.1 1374.8,354.1 1373.8,353.9 C1372.7,353.7 1371.6,353.2 1370.6,352.6 C1369.6,352.0 1368.6,351.2 1367.7,350.4 C1366.8,349.5 1366.4,348.2 1365.2,347.4 C1364.0,346.5 1361.5,346.5 1360.7,345.2 C1359.8,344.0 1360.1,341.5 1360.2,339.7 C1360.3,338.0 1360.9,336.1 1361.2,334.5 C1361.6,332.9 1362.0,331.4 1362.5,330.0 C1363.0,328.6 1363.7,327.4 1364.4,326.2 C1365.1,325.0 1365.9,324.2 1366.5,323.1 C1367.1,321.9 1367.5,320.6 1368.2,319.4 C1368.8,318.2 1369.5,316.4 1370.4,315.8 C1371.4,315.3 1372.8,316.2 1373.9,315.9 C1375.0,315.6 1375.9,314.0 1377.0,313.9 C1378.1,313.7 1379.1,314.9 1380.3,315.0 C1381.4,315.2 1382.9,314.4 1383.9,314.9 C1385.0,315.4 1385.7,317.0 1386.6,318.0 C1387.5,319.0 1389.1,319.5 1389.4,320.9 C1389.8,322.4 1388.6,325.2 1388.9,326.7 C1389.1,328.2 1390.3,328.9 1390.9,330.2 C1391.5,331.5 1391.9,332.9 1392.3,334.5 Z"/>
<path id="t37" d="M1430.5,336.5 C1430.6,337.8 1429.8,339.0 1429.8,340.4 C1429.8,341.8 1430.6,343.6 1430.4,345.0 C1430.2,346.4 1429.3,347.8 1428.5,348.9 C1427.6,350.0 1426.5,350.9 1425.4,351.8 C1424.4,352.7 1423.4,353.7 1422.2,354.4 C1421.1,355.1 1419.8,355.5 1418.5,355.9 C1417.2,356.3 1415.9,356.5 1414.5,356.7 C1413.1,356.8 1411.7,357.1 1410.3,356.8 C1409.0,356.6 1407.5,356.1 1406.4,355.2 C1405.4,354.2 1405.1,352.2 1403.9,351.3 C1402.7,350.4 1400.5,350.8 1399.5,349.8 C1398.5,348.8 1398.3,346.9 1397.9,345.4 C1397.5,343.9 1397.2,342.4 1397.3,340.9 C1397.3,339.4 1397.9,337.9 1398.3,336.5 C1398.7,335.1 1399.1,333.9 1399.8,332.8 C1400.4,331.6 1401.6,331.0 1402.0,329.8 C1402.3,328.5 1401.7,326.8 1401.9,325.3 C1402.0,323.7 1402.3,321.8 1403.0,320.4 C1403.7,319.1 1404.9,317.8 1406.1,317.0 C1407.3,316.2 1408.8,315.7 1410.2,315.5 C1411.6,315.3 1413.2,315.5 1414.5,316.0 C1415.8,316.5 1416.9,318.0 1418.2,318.6 C1419.4,319.2 1420.4,319.3 1421.9,319.4 C1423.4,319.5 1426.0,318.2 1427.0,319.0 C1428.0,319.9 1427.3,323.1 1427.9,324.6 C1428.4,326.1 1430.1,326.6 1430.4,328.0 C1430.7,329.3 1429.7,331.2 1429.7,332.6 C1429.7,334.1 1430.5,335.2 1430.5,336.5 Z"/>
<path id="t38" d="M1464.5,337.0 C1464.4,338.1 1463.2,339.2 1462.9,340.3 C1462.6,341.5 1462.9,342.8 1462.7,343.9 C1462.4,345.1 1462.2,346.5 1461.5,347.5 C1460.9,348.5 1459.7,349.1 1458.8,349.8 C1457.9,350.5 1456.8,350.7 1455.9,351.6 C1455.0,352.5 1454.3,354.6 1453.3,355.1 C1452.2,355.6 1450.7,354.9 1449.5,354.6 C1448.3,354.4 1447.3,353.8 1446.0,353.7 C1444.8,353.6 1443.1,354.6 1442.0,354.0 C1441.0,353.4 1440.7,351.3 1439.9,350.3 C1439.0,349.3 1437.6,349.0 1436.9,348.1 C1436.1,347.1 1435.5,345.8 1435.2,344.6 C1434.8,343.3 1434.7,341.9 1434.9,340.6 C1435.1,339.4 1436.2,338.2 1436.2,337.0 C1436.3,335.8 1435.1,334.5 1435.2,333.4 C1435.4,332.3 1436.7,331.6 1437.0,330.4 C1437.3,329.1 1436.5,327.2 1436.9,325.9 C1437.2,324.7 1438.2,323.7 1439.1,322.7 C1440.0,321.8 1441.0,320.6 1442.2,320.4 C1443.4,320.1 1445.0,321.0 1446.2,321.2 C1447.4,321.4 1448.4,321.8 1449.5,321.6 C1450.6,321.4 1451.9,320.0 1453.0,320.1 C1454.1,320.1 1455.0,321.3 1456.2,321.7 C1457.4,322.0 1459.2,321.6 1460.3,322.2 C1461.4,322.8 1462.3,324.1 1462.9,325.3 C1463.5,326.5 1463.6,328.1 1463.7,329.5 C1463.8,330.9 1463.4,332.2 1463.5,333.5 C1463.6,334.7 1464.6,335.9 1464.5,337.0 Z"/>
<path id="t39" d="M1496.0,335.5 C1496.0,336.5 1496.3,337.7 1495.5,338.4 C1494.6,339.1 1491.8,339.2 1490.9,339.9 C1490.0,340.5 1490.6,341.5 1490.0,342.2 C1489.5,342.8 1488.6,343.2 1487.8,343.7 C1487.0,344.3 1486.3,344.8 1485.5,345.3 C1484.6,345.9 1483.8,346.6 1482.8,346.9 C1481.8,347.3 1480.6,347.7 1479.5,347.6 C1478.4,347.5 1477.5,346.6 1476.4,346.3 C1475.3,346.0 1474.3,346.1 1473.2,345.9 C1472.1,345.7 1470.7,345.6 1470.0,345.0 C1469.3,344.3 1469.5,342.9 1469.0,342.1 C1468.6,341.3 1467.7,340.9 1467.2,340.2 C1466.7,339.5 1466.4,338.7 1466.2,337.9 C1465.9,337.1 1465.9,336.4 1465.5,335.5 C1465.2,334.6 1464.2,333.6 1464.0,332.7 C1463.9,331.8 1464.0,330.6 1464.7,329.8 C1465.4,329.1 1467.3,329.0 1468.2,328.4 C1469.2,327.8 1469.4,326.8 1470.3,326.3 C1471.1,325.8 1472.4,325.7 1473.4,325.4 C1474.4,325.2 1475.4,324.9 1476.4,324.8 C1477.4,324.6 1478.4,324.6 1479.5,324.5 C1480.6,324.4 1481.8,323.8 1482.8,324.0 C1483.8,324.2 1484.6,325.2 1485.4,325.7 C1486.3,326.3 1486.9,326.8 1487.8,327.3 C1488.6,327.7 1489.9,327.9 1490.7,328.4 C1491.6,328.9 1492.2,329.7 1492.9,330.4 C1493.6,331.1 1494.7,331.8 1495.2,332.7 C1495.7,333.5 1496.0,334.5 1496.0,335.5 Z"/>
<mask id="tm" maskUnits="userSpaceOnUse" x="1070" y="55" width="430" height="320"><use href="#t0" fill="#fff"/><use href="#t1" fill="#fff"/><use href="#t2" fill="#fff"/><use href="#t3" fill="#fff"/><use href="#t4" fill="#fff"/><use href="#t5" fill="#fff"/><use href="#t6" fill="#fff"/><use href="#t7" fill="#fff"/><use href="#t8" fill="#fff"/><use href="#t9" fill="#fff"/><use href="#t10" fill="#fff"/><use href="#t11" fill="#fff"/><use href="#t12" fill="#fff"/><use href="#t13" fill="#fff"/><use href="#t14" fill="#fff"/><use href="#t15" fill="#fff"/><use href="#t16" fill="#fff"/><use href="#t17" fill="#fff"/><use href="#t18" fill="#fff"/><use href="#t19" fill="#fff"/><use href="#t20" fill="#fff"/><use href="#t21" fill="#fff"/><use href="#t22" fill="#fff"/><use href="#t23" fill="#fff"/><use href="#t24" fill="#fff"/><use href="#t25" fill="#fff"/><use href="#t26" fill="#fff"/><use href="#t27" fill="#fff"/><use href="#t28" fill="#fff"/><use href="#t29" fill="#fff"/><use href="#t30" fill="#fff"/><use href="#t31" fill="#fff"/><use href="#t32" fill="#fff"/><use href="#t33" fill="#fff"/><use href="#t34" fill="#fff"/><use href="#t35" fill="#fff"/><use href="#t36" fill="#fff"/><use href="#t37" fill="#fff"/><use href="#t38" fill="#fff"/><use href="#t39" fill="#fff"/></mask>
</defs>
<rect width="2124" height="1568" fill="#fff"/>
<text x="-1.20" y="72.10" style="font-size:40px;font-weight:bold" fill="#000">a</text>
<text x="448.80" y="72.10" style="font-size:40px;font-weight:bold" fill="#000">b</text>
<rect x="181.50" y="162.20" width="106.00" height="55.30" fill="#eaeaea" stroke="none" stroke-width="0" />
<rect x="181.50" y="225.80" width="106.00" height="55.20" fill="#f3f3f3" stroke="none" stroke-width="0" />
<rect x="181.50" y="291.40" width="106.00" height="54.60" fill="#f0f0f0" stroke="none" stroke-width="0" />
<rect x="181.50" y="355.20" width="106.00" height="54.40" fill="#ececec" stroke="none" stroke-width="0" />
<rect x="188.50" y="186.00" width="42.00" height="11.00" rx="5.50" fill="#000" fill-opacity="1" filter="url(#bl1)"/>
<rect x="241.00" y="250.20" width="40.00" height="10.00" rx="5.00" fill="#000" fill-opacity="1" filter="url(#bl1)"/>
<rect x="190.00" y="252.20" width="34.00" height="6.00" rx="3.00" fill="#000" fill-opacity="0.18" filter="url(#bl2)"/>
<rect x="248.00" y="311.50" width="30.00" height="14.00" rx="7.00" fill="#000" fill-opacity="1" filter="url(#bl1)"/>
<rect x="200.00" y="314.50" width="30.00" height="8.00" rx="4.00" fill="#000" fill-opacity="0.45" filter="url(#bl2)"/>
<rect x="185.50" y="381.00" width="35.00" height="8.00" rx="4.00" fill="#000" fill-opacity="1" filter="url(#bl1)"/>
<rect x="247.00" y="381.00" width="33.00" height="8.00" rx="4.00" fill="#000" fill-opacity="1" filter="url(#bl1)"/>
<rect x="182.60" y="163.30" width="103.80" height="53.10" fill="none" stroke="#000" stroke-width="2.3" />
<rect x="182.60" y="226.90" width="103.80" height="53.00" fill="none" stroke="#000" stroke-width="2.3" />
<rect x="182.60" y="292.50" width="103.80" height="52.40" fill="none" stroke="#000" stroke-width="2.3" />
<rect x="182.60" y="356.30" width="103.80" height="52.20" fill="none" stroke="#000" stroke-width="2.3" />
<line x1="287.50" y1="196.60" x2="297.50" y2="196.60" stroke="#000" stroke-width="2.6" stroke-linecap="butt"/>
<text x="302.68" y="204.80" style="font-size:20.5px" fill="#000">55</text>
<line x1="287.50" y1="267.90" x2="297.50" y2="267.90" stroke="#000" stroke-width="2.6" stroke-linecap="butt"/>
<text x="302.68" y="276.40" style="font-size:20.5px" fill="#000">55</text>
<line x1="287.50" y1="332.90" x2="297.50" y2="332.90" stroke="#000" stroke-width="2.6" stroke-linecap="butt"/>
<text x="302.68" y="341.00" style="font-size:20.5px" fill="#000">55</text>
<line x1="287.50" y1="393.00" x2="297.50" y2="393.00" stroke="#000" stroke-width="2.6" stroke-linecap="butt"/>
<text x="303.04" y="402.00" style="font-size:20.5px" fill="#000">40</text>
<text x="94.51" y="197.70" style="font-size:27px" fill="#000">PTEN</text>
<text x="9.44" y="261.30" style="font-size:27px" fill="#000">p-AKT(S473)</text>
<text x="12.63" y="328.50" style="font-size:27px" fill="#000">p-AKT(T308)</text>
<text x="85.22" y="392.30" style="font-size:27px" fill="#000">β-actin</text>
<rect x="619.50" y="163.60" width="105.90" height="55.20" fill="#f1f1f1" stroke="none" stroke-width="0" />
<rect x="619.50" y="227.50" width="105.90" height="55.10" fill="#f2f2f2" stroke="none" stroke-width="0" />
<rect x="619.50" y="291.20" width="105.90" height="55.10" fill="#f0f0f0" stroke="none" stroke-width="0" />
<rect x="619.50" y="354.90" width="105.90" height="55.10" fill="#f4f4f4" stroke="none" stroke-width="0" />
<rect x="624.90" y="186.75" width="43.00" height="9.50" rx="4.75" fill="#000" fill-opacity="1" filter="url(#bl1)"/>
<rect x="682.00" y="190.30" width="36.00" height="5.00" rx="2.50" fill="#000" fill-opacity="0.35" filter="url(#bl2)"/>
<rect x="631.00" y="252.25" width="34.00" height="6.50" rx="3.25" fill="#000" fill-opacity="0.45" filter="url(#bl2)"/>
<rect x="678.50" y="251.25" width="39.00" height="9.50" rx="4.75" fill="#000" fill-opacity="1" filter="url(#bl1)"/>
<rect x="631.00" y="318.70" width="35.00" height="6.00" rx="3.00" fill="#000" fill-opacity="0.45" filter="url(#bl2)"/>
<rect x="684.00" y="318.45" width="34.00" height="7.50" rx="3.75" fill="#000" fill-opacity="1" filter="url(#bl1)"/>
<rect x="628.50" y="376.70" width="43.00" height="14.00" rx="7.00" fill="#000" fill-opacity="1" filter="url(#bl1)"/>
<rect x="677.80" y="376.70" width="41.00" height="14.00" rx="7.00" fill="#000" fill-opacity="1" filter="url(#bl1)"/>
<rect x="620.60" y="164.70" width="103.70" height="53.00" fill="none" stroke="#000" stroke-width="2.3" />
<rect x="620.60" y="228.60" width="103.70" height="52.90" fill="none" stroke="#000" stroke-width="2.3" />
<rect x="620.60" y="292.30" width="103.70" height="52.90" fill="none" stroke="#000" stroke-width="2.3" />
<rect x="620.60" y="356.00" width="103.70" height="52.90" fill="none" stroke="#000" stroke-width="2.3" />
<line x1="725.40" y1="200.00" x2="735.40" y2="200.00" stroke="#000" stroke-width="2.6" stroke-linecap="butt"/>
<text x="740.58" y="205.50" style="font-size:20.5px" fill="#000">55</text>
<line x1="725.40" y1="267.80" x2="735.40" y2="267.80" stroke="#000" stroke-width="2.6" stroke-linecap="butt"/>
<text x="740.58" y="276.20" style="font-size:20.5px" fill="#000">55</text>
<line x1="725.40" y1="332.50" x2="735.40" y2="332.50" stroke="#000" stroke-width="2.6" stroke-linecap="butt"/>
<text x="740.58" y="338.00" style="font-size:20.5px" fill="#000">55</text>
<line x1="725.40" y1="395.30" x2="735.40" y2="395.30" stroke="#000" stroke-width="2.6" stroke-linecap="butt"/>
<text x="740.94" y="403.50" style="font-size:20.5px" fill="#000">40</text>
<text x="535.21" y="204.70" style="font-size:27px" fill="#000">PTEN</text>
<text x="456.14" y="261.50" style="font-size:27px" fill="#000">p-AKT(S473)</text>
<text x="456.63" y="332.60" style="font-size:27px" fill="#000">p-AKT(T308)</text>
<text x="528.22" y="392.80" style="font-size:27px" fill="#000">β-actin</text>
<g transform="translate(216.50,150.30) rotate(-57)">
<text x="0" y="0" style="font-size:27.5px;font-style:italic">Pten<tspan dy="-8" style="font-size:17.5px">f/f</tspan></text>
</g>
<g transform="translate(268.20,150.00) rotate(-57)">
<text x="0" y="0" style="font-size:27.5px;font-style:italic">Pten<tspan dy="-8" style="font-size:17.5px">mKO</tspan></text>
</g>
<g transform="translate(655.00,151.70) rotate(-57)">
<text x="0" y="0" style="font-size:27.5px;font-style:italic">Pten<tspan dy="-8" style="font-size:17.5px">f/f</tspan></text>
</g>
<g transform="translate(706.60,151.40) rotate(-57)">
<text x="0" y="0" style="font-size:27.5px;font-style:italic">Pten<tspan dy="-8" style="font-size:17.5px">mKO</tspan></text>
</g>
<text x="290.06" y="152.80" style="font-size:20.9px" fill="#000">Size (kDa)</text>
<text x="730.35" y="158.40" style="font-size:21.1px" fill="#000">Size (kDa)</text>
<text x="917.20" y="72.10" style="font-size:40px;font-weight:bold" fill="#000">c</text>
<rect x="1072.50" y="57.30" width="425.50" height="357.70" fill="#e3edf1" stroke="none" stroke-width="0" />
<rect x="1072.5" y="57.3" width="425.5" height="357.7" fill="url(#bgg)"/>
<rect x="1072.50" y="368.50" width="425.50" height="46.50" fill="#cfd7db" stroke="none" stroke-width="0" />
<rect x="1072.5" y="368.5" width="425.5" height="46.5" fill="url(#rug)"/>
<line x1="1075.32" y1="370.50" x2="1075.32" y2="376.00" stroke="#6a7074" stroke-width="0.9" stroke-linecap="butt"/>
<line x1="1077.78" y1="370.50" x2="1077.78" y2="376.00" stroke="#6a7074" stroke-width="0.9" stroke-linecap="butt"/>
<line x1="1080.24" y1="370.50" x2="1080.24" y2="376.00" stroke="#6a7074" stroke-width="0.9" stroke-linecap="butt"/>
<line x1="1082.70" y1="370.50" x2="1082.70" y2="378.50" stroke="#6a7074" stroke-width="0.9" stroke-linecap="butt"/>
<line x1="1085.16" y1="370.50" x2="1085.16" y2="376.00" stroke="#6a7074" stroke-width="0.9" stroke-linecap="butt"/>
<line x1="1087.62" y1="370.50" x2="1087.62" y2="376.00" stroke="#6a7074" stroke-width="0.9" stroke-linecap="butt"/>
<line x1="1090.08" y1="370.50" x2="1090.08" y2="376.00" stroke="#6a7074" stroke-width="0.9" stroke-linecap="butt"/>
<line x1="1092.54" y1="370.50" x2="1092.54" y2="376.00" stroke="#6a7074" stroke-width="0.9" stroke-linecap="butt"/>
<line x1="1095.00" y1="370.50" x2="1095.00" y2="381.50" stroke="#6a7074" stroke-width="0.9" stroke-linecap="butt"/>
<line x1="1097.46" y1="370.50" x2="1097.46" y2="376.00" stroke="#6a7074" stroke-width="0.9" stroke-linecap="butt"/>
<line x1="1099.92" y1="370.50" x2="1099.92" y2="376.00" stroke="#6a7074" stroke-width="0.9" stroke-linecap="butt"/>
<line x1="1102.38" y1="370.50" x2="1102.38" y2="376.00" stroke="#6a7074" stroke-width="0.9" stroke-linecap="butt"/>
<line x1="1104.84" y1="370.50" x2="1104.84" y2="376.00" stroke="#6a7074" stroke-width="0.9" stroke-linecap="butt"/>
<line x1="1107.30" y1="370.50" x2="1107.30" y2="378.50" stroke="#6a7074" stroke-width="0.9" stroke-linecap="butt"/>
<line x1="1109.76" y1="370.50" x2="1109.76" y2="376.00" stroke="#6a7074" stroke-width="0.9" stroke-linecap="butt"/>
<line x1="1112.22" y1="370.50" x2="1112.22" y2="376.00" stroke="#6a7074" stroke-width="0.9" stroke-linecap="butt"/>
<line x1="1114.68" y1="370.50" x2="1114.68" y2="376.00" stroke="#6a7074" stroke-width="0.9" stroke-linecap="butt"/>
<line x1="1117.14" y1="370.50" x2="1117.14" y2="376.00" stroke="#6a7074" stroke-width="0.9" stroke-linecap="butt"/>
<line x1="1119.60" y1="370.50" x2="1119.60" y2="381.50" stroke="#6a7074" stroke-width="0.9" stroke-linecap="butt"/>
<line x1="1122.06" y1="370.50" x2="1122.06" y2="376.00" stroke="#6a7074" stroke-width="0.9" stroke-linecap="butt"/>
<line x1="1124.52" y1="370.50" x2="1124.52" y2="376.00" stroke="#6a7074" stroke-width="0.9" stroke-linecap="butt"/>
<line x1="1126.98" y1="370.50" x2="1126.98" y2="376.00" stroke="#6a7074" stroke-width="0.9" stroke-linecap="butt"/>
<line x1="1129.44" y1="370.50" x2="1129.44" y2="376.00" stroke="#6a7074" stroke-width="0.9" stroke-linecap="butt"/>
<line x1="1131.90" y1="370.50" x2="1131.90" y2="378.50" stroke="#6a7074" stroke-width="0.9" stroke-linecap="butt"/>
<line x1="1134.36" y1="370.50" x2="1134.36" y2="376.00" stroke="#6a7074" stroke-width="0.9" stroke-linecap="butt"/>
<line x1="1136.82" y1="370.50" x2="1136.82" y2="376.00" stroke="#6a7074" stroke-width="0.9" stroke-linecap="butt"/>
<line x1="1139.28" y1="370.50" x2="1139.28" y2="376.00" stroke="#6a7074" stroke-width="0.9" stroke-linecap="butt"/>
<line x1="1141.74" y1="370.50" x2="1141.74" y2="376.00" stroke="#6a7074" stroke-width="0.9" stroke-linecap="butt"/>
<line x1="1144.20" y1="370.50" x2="1144.20" y2="381.50" stroke="#6a7074" stroke-width="0.9" stroke-linecap="butt"/>
<line x1="1146.66" y1="370.50" x2="1146.66" y2="376.00" stroke="#6a7074" stroke-width="0.9" stroke-linecap="butt"/>
<line x1="1149.12" y1="370.50" x2="1149.12" y2="376.00" stroke="#6a7074" stroke-width="0.9" stroke-linecap="butt"/>
<line x1="1151.58" y1="370.50" x2="1151.58" y2="376.00" stroke="#6a7074" stroke-width="0.9" stroke-linecap="butt"/>
<line x1="1154.04" y1="370.50" x2="1154.04" y2="376.00" stroke="#6a7074" stroke-width="0.9" stroke-linecap="butt"/>
<line x1="1156.50" y1="370.50" x2="1156.50" y2="378.50" stroke="#6a7074" stroke-width="0.9" stroke-linecap="butt"/>
<line x1="1158.96" y1="370.50" x2="1158.96" y2="376.00" stroke="#6a7074" stroke-width="0.9" stroke-linecap="butt"/>
<line x1="1161.42" y1="370.50" x2="1161.42" y2="376.00" stroke="#6a7074" stroke-width="0.9" stroke-linecap="butt"/>
<line x1="1163.88" y1="370.50" x2="1163.88" y2="376.00" stroke="#6a7074" stroke-width="0.9" stroke-linecap="butt"/>
<line x1="1166.34" y1="370.50" x2="1166.34" y2="376.00" stroke="#6a7074" stroke-width="0.9" stroke-linecap="butt"/>
<line x1="1168.80" y1="370.50" x2="1168.80" y2="381.50" stroke="#6a7074" stroke-width="0.9" stroke-linecap="butt"/>
<line x1="1171.26" y1="370.50" x2="1171.26" y2="376.00" stroke="#6a7074" stroke-width="0.9" stroke-linecap="butt"/>
<line x1="1173.72" y1="370.50" x2="1173.72" y2="376.00" stroke="#6a7074" stroke-width="0.9" stroke-linecap="butt"/>
<line x1="1176.18" y1="370.50" x2="1176.18" y2="376.00" stroke="#6a7074" stroke-width="0.9" stroke-linecap="butt"/>
<line x1="1178.64" y1="370.50" x2="1178.64" y2="376.00" stroke="#6a7074" stroke-width="0.9" stroke-linecap="butt"/>
<line x1="1181.10" y1="370.50" x2="1181.10" y2="378.50" stroke="#6a7074" stroke-width="0.9" stroke-linecap="butt"/>
<line x1="1183.56" y1="370.50" x2="1183.56" y2="376.00" stroke="#6a7074" stroke-width="0.9" stroke-linecap="butt"/>
<line x1="1186.02" y1="370.50" x2="1186.02" y2="376.00" stroke="#6a7074" stroke-width="0.9" stroke-linecap="butt"/>
<line x1="1188.48" y1="370.50" x2="1188.48" y2="376.00" stroke="#6a7074" stroke-width="0.9" stroke-linecap="butt"/>
<line x1="1190.94" y1="370.50" x2="1190.94" y2="376.00" stroke="#6a7074" stroke-width="0.9" stroke-linecap="butt"/>
<line x1="1193.40" y1="370.50" x2="1193.40" y2="381.50" stroke="#6a7074" stroke-width="0.9" stroke-linecap="butt"/>
<line x1="1195.86" y1="370.50" x2="1195.86" y2="376.00" stroke="#6a7074" stroke-width="0.9" stroke-linecap="butt"/>
<line x1="1198.32" y1="370.50" x2="1198.32" y2="376.00" stroke="#6a7074" stroke-width="0.9" stroke-linecap="butt"/>
<line x1="1200.78" y1="370.50" x2="1200.78" y2="376.00" stroke="#6a7074" stroke-width="0.9" stroke-linecap="butt"/>
<line x1="1203.24" y1="370.50" x2="1203.24" y2="376.00" stroke="#6a7074" stroke-width="0.9" stroke-linecap="butt"/>
<line x1="1205.70" y1="370.50" x2="1205.70" y2="378.50" stroke="#6a7074" stroke-width="0.9" stroke-linecap="butt"/>
<line x1="1208.16" y1="370.50" x2="1208.16" y2="376.00" stroke="#6a7074" stroke-width="0.9" stroke-linecap="butt"/>
<line x1="1210.62" y1="370.50" x2="1210.62" y2="376.00" stroke="#6a7074" stroke-width="0.9" stroke-linecap="butt"/>
<line x1="1213.08" y1="370.50" x2="1213.08" y2="376.00" stroke="#6a7074" stroke-width="0.9" stroke-linecap="butt"/>
<line x1="1215.54" y1="370.50" x2="1215.54" y2="376.00" stroke="#6a7074" stroke-width="0.9" stroke-linecap="butt"/>
<line x1="1218.00" y1="370.50" x2="1218.00" y2="381.50" stroke="#6a7074" stroke-width="0.9" stroke-linecap="butt"/>
<line x1="1220.46" y1="370.50" x2="1220.46" y2="376.00" stroke="#6a7074" stroke-width="0.9" stroke-linecap="butt"/>
<line x1="1222.92" y1="370.50" x2="1222.92" y2="376.00" stroke="#6a7074" stroke-width="0.9" stroke-linecap="butt"/>
<line x1="1225.38" y1="370.50" x2="1225.38" y2="376.00" stroke="#6a7074" stroke-width="0.9" stroke-linecap="butt"/>
<line x1="1227.84" y1="370.50" x2="1227.84" y2="376.00" stroke="#6a7074" stroke-width="0.9" stroke-linecap="butt"/>
<line x1="1230.30" y1="370.50" x2="1230.30" y2="378.50" stroke="#6a7074" stroke-width="0.9" stroke-linecap="butt"/>
<line x1="1232.76" y1="370.50" x2="1232.76" y2="376.00" stroke="#6a7074" stroke-width="0.9" stroke-linecap="butt"/>
<line x1="1235.22" y1="370.50" x2="1235.22" y2="376.00" stroke="#6a7074" stroke-width="0.9" stroke-linecap="butt"/>
<line x1="1237.68" y1="370.50" x2="1237.68" y2="376.00" stroke="#6a7074" stroke-width="0.9" stroke-linecap="butt"/>
<line x1="1240.14" y1="370.50" x2="1240.14" y2="376.00" stroke="#6a7074" stroke-width="0.9" stroke-linecap="butt"/>
<line x1="1242.60" y1="370.50" x2="1242.60" y2="381.50" stroke="#6a7074" stroke-width="0.9" stroke-linecap="butt"/>
<line x1="1245.06" y1="370.50" x2="1245.06" y2="376.00" stroke="#6a7074" stroke-width="0.9" stroke-linecap="butt"/>
<line x1="1247.52" y1="370.50" x2="1247.52" y2="376.00" stroke="#6a7074" stroke-width="0.9" stroke-linecap="butt"/>
<line x1="1249.98" y1="370.50" x2="1249.98" y2="376.00" stroke="#6a7074" stroke-width="0.9" stroke-linecap="butt"/>
<line x1="1252.44" y1="370.50" x2="1252.44" y2="376.00" stroke="#6a7074" stroke-width="0.9" stroke-linecap="butt"/>
<line x1="1254.90" y1="370.50" x2="1254.90" y2="378.50" stroke="#6a7074" stroke-width="0.9" stroke-linecap="butt"/>
<line x1="1257.36" y1="370.50" x2="1257.36" y2="376.00" stroke="#6a7074" stroke-width="0.9" stroke-linecap="butt"/>
<line x1="1259.82" y1="370.50" x2="1259.82" y2="376.00" stroke="#6a7074" stroke-width="0.9" stroke-linecap="butt"/>
<line x1="1262.28" y1="370.50" x2="1262.28" y2="376.00" stroke="#6a7074" stroke-width="0.9" stroke-linecap="butt"/>
<line x1="1264.74" y1="370.50" x2="1264.74" y2="376.00" stroke="#6a7074" stroke-width="0.9" stroke-linecap="butt"/>
<line x1="1267.20" y1="370.50" x2="1267.20" y2="381.50" stroke="#6a7074" stroke-width="0.9" stroke-linecap="butt"/>
<line x1="1269.66" y1="370.50" x2="1269.66" y2="376.00" stroke="#6a7074" stroke-width="0.9" stroke-linecap="butt"/>
<line x1="1272.12" y1="370.50" x2="1272.12" y2="376.00" stroke="#6a7074" stroke-width="0.9" stroke-linecap="butt"/>
<line x1="1274.58" y1="370.50" x2="1274.58" y2="376.00" stroke="#6a7074" stroke-width="0.9" stroke-linecap="butt"/>
<line x1="1277.04" y1="370.50" x2="1277.04" y2="376.00" stroke="#6a7074" stroke-width="0.9" stroke-linecap="butt"/>
<line x1="1279.50" y1="370.50" x2="1279.50" y2="378.50" stroke="#6a7074" stroke-width="0.9" stroke-linecap="butt"/>
<line x1="1281.96" y1="370.50" x2="1281.96" y2="376.00" stroke="#6a7074" stroke-width="0.9" stroke-linecap="butt"/>
<line x1="1284.42" y1="370.50" x2="1284.42" y2="376.00" stroke="#6a7074" stroke-width="0.9" stroke-linecap="butt"/>
<line x1="1286.88" y1="370.50" x2="1286.88" y2="376.00" stroke="#6a7074" stroke-width="0.9" stroke-linecap="butt"/>
<line x1="1289.34" y1="370.50" x2="1289.34" y2="376.00" stroke="#6a7074" stroke-width="0.9" stroke-linecap="butt"/>
<line x1="1291.80" y1="370.50" x2="1291.80" y2="381.50" stroke="#6a7074" stroke-width="0.9" stroke-linecap="butt"/>
<line x1="1294.26" y1="370.50" x2="1294.26" y2="376.00" stroke="#6a7074" stroke-width="0.9" stroke-linecap="butt"/>
<line x1="1296.72" y1="370.50" x2="1296.72" y2="376.00" stroke="#6a7074" stroke-width="0.9" stroke-linecap="butt"/>
<line x1="1299.18" y1="370.50" x2="1299.18" y2="376.00" stroke="#6a7074" stroke-width="0.9" stroke-linecap="butt"/>
<line x1="1301.64" y1="370.50" x2="1301.64" y2="376.00" stroke="#6a7074" stroke-width="0.9" stroke-linecap="butt"/>
<line x1="1304.10" y1="370.50" x2="1304.10" y2="378.50" stroke="#6a7074" stroke-width="0.9" stroke-linecap="butt"/>
<line x1="1306.56" y1="370.50" x2="1306.56" y2="376.00" stroke="#6a7074" stroke-width="0.9" stroke-linecap="butt"/>
<line x1="1309.02" y1="370.50" x2="1309.02" y2="376.00" stroke="#6a7074" stroke-width="0.9" stroke-linecap="butt"/>
<line x1="1311.48" y1="370.50" x2="1311.48" y2="376.00" stroke="#6a7074" stroke-width="0.9" stroke-linecap="butt"/>
<line x1="1313.94" y1="370.50" x2="1313.94" y2="376.00" stroke="#6a7074" stroke-width="0.9" stroke-linecap="butt"/>
<line x1="1316.40" y1="370.50" x2="1316.40" y2="381.50" stroke="#6a7074" stroke-width="0.9" stroke-linecap="butt"/>
<line x1="1318.86" y1="370.50" x2="1318.86" y2="376.00" stroke="#6a7074" stroke-width="0.9" stroke-linecap="butt"/>
<line x1="1321.32" y1="370.50" x2="1321.32" y2="376.00" stroke="#6a7074" stroke-width="0.9" stroke-linecap="butt"/>
<line x1="1323.78" y1="370.50" x2="1323.78" y2="376.00" stroke="#6a7074" stroke-width="0.9" stroke-linecap="butt"/>
<line x1="1326.24" y1="370.50" x2="1326.24" y2="376.00" stroke="#6a7074" stroke-width="0.9" stroke-linecap="butt"/>
<line x1="1328.70" y1="370.50" x2="1328.70" y2="378.50" stroke="#6a7074" stroke-width="0.9" stroke-linecap="butt"/>
<line x1="1331.16" y1="370.50" x2="1331.16" y2="376.00" stroke="#6a7074" stroke-width="0.9" stroke-linecap="butt"/>
<line x1="1333.62" y1="370.50" x2="1333.62" y2="376.00" stroke="#6a7074" stroke-width="0.9" stroke-linecap="butt"/>
<line x1="1336.08" y1="370.50" x2="1336.08" y2="376.00" stroke="#6a7074" stroke-width="0.9" stroke-linecap="butt"/>
<line x1="1338.54" y1="370.50" x2="1338.54" y2="376.00" stroke="#6a7074" stroke-width="0.9" stroke-linecap="butt"/>
<line x1="1341.00" y1="370.50" x2="1341.00" y2="381.50" stroke="#6a7074" stroke-width="0.9" stroke-linecap="butt"/>
<line x1="1343.46" y1="370.50" x2="1343.46" y2="376.00" stroke="#6a7074" stroke-width="0.9" stroke-linecap="butt"/>
<line x1="1345.92" y1="370.50" x2="1345.92" y2="376.00" stroke="#6a7074" stroke-width="0.9" stroke-linecap="butt"/>
<line x1="1348.38" y1="370.50" x2="1348.38" y2="376.00" stroke="#6a7074" stroke-width="0.9" stroke-linecap="butt"/>
<line x1="1350.84" y1="370.50" x2="1350.84" y2="376.00" stroke="#6a7074" stroke-width="0.9" stroke-linecap="butt"/>
<line x1="1353.30" y1="370.50" x2="1353.30" y2="378.50" stroke="#6a7074" stroke-width="0.9" stroke-linecap="butt"/>
<line x1="1355.76" y1="370.50" x2="1355.76" y2="376.00" stroke="#6a7074" stroke-width="0.9" stroke-linecap="butt"/>
<line x1="1358.22" y1="370.50" x2="1358.22" y2="376.00" stroke="#6a7074" stroke-width="0.9" stroke-linecap="butt"/>
<line x1="1360.68" y1="370.50" x2="1360.68" y2="376.00" stroke="#6a7074" stroke-width="0.9" stroke-linecap="butt"/>
<line x1="1363.14" y1="370.50" x2="1363.14" y2="376.00" stroke="#6a7074" stroke-width="0.9" stroke-linecap="butt"/>
<line x1="1365.60" y1="370.50" x2="1365.60" y2="381.50" stroke="#6a7074" stroke-width="0.9" stroke-linecap="butt"/>
<line x1="1368.06" y1="370.50" x2="1368.06" y2="376.00" stroke="#6a7074" stroke-width="0.9" stroke-linecap="butt"/>
<line x1="1370.52" y1="370.50" x2="1370.52" y2="376.00" stroke="#6a7074" stroke-width="0.9" stroke-linecap="butt"/>
<line x1="1372.98" y1="370.50" x2="1372.98" y2="376.00" stroke="#6a7074" stroke-width="0.9" stroke-linecap="butt"/>
<line x1="1375.44" y1="370.50" x2="1375.44" y2="376.00" stroke="#6a7074" stroke-width="0.9" stroke-linecap="butt"/>
<line x1="1377.90" y1="370.50" x2="1377.90" y2="378.50" stroke="#6a7074" stroke-width="0.9" stroke-linecap="butt"/>
<line x1="1380.36" y1="370.50" x2="1380.36" y2="376.00" stroke="#6a7074" stroke-width="0.9" stroke-linecap="butt"/>
<line x1="1382.82" y1="370.50" x2="1382.82" y2="376.00" stroke="#6a7074" stroke-width="0.9" stroke-linecap="butt"/>
<line x1="1385.28" y1="370.50" x2="1385.28" y2="376.00" stroke="#6a7074" stroke-width="0.9" stroke-linecap="butt"/>
<line x1="1387.74" y1="370.50" x2="1387.74" y2="376.00" stroke="#6a7074" stroke-width="0.9" stroke-linecap="butt"/>
<line x1="1390.20" y1="370.50" x2="1390.20" y2="381.50" stroke="#6a7074" stroke-width="0.9" stroke-linecap="butt"/>
<line x1="1392.66" y1="370.50" x2="1392.66" y2="376.00" stroke="#6a7074" stroke-width="0.9" stroke-linecap="butt"/>
<line x1="1395.12" y1="370.50" x2="1395.12" y2="376.00" stroke="#6a7074" stroke-width="0.9" stroke-linecap="butt"/>
<line x1="1397.58" y1="370.50" x2="1397.58" y2="376.00" stroke="#6a7074" stroke-width="0.9" stroke-linecap="butt"/>
<line x1="1400.04" y1="370.50" x2="1400.04" y2="376.00" stroke="#6a7074" stroke-width="0.9" stroke-linecap="butt"/>
<line x1="1402.50" y1="370.50" x2="1402.50" y2="378.50" stroke="#6a7074" stroke-width="0.9" stroke-linecap="butt"/>
<line x1="1404.96" y1="370.50" x2="1404.96" y2="376.00" stroke="#6a7074" stroke-width="0.9" stroke-linecap="butt"/>
<line x1="1407.42" y1="370.50" x2="1407.42" y2="376.00" stroke="#6a7074" stroke-width="0.9" stroke-linecap="butt"/>
<line x1="1409.88" y1="370.50" x2="1409.88" y2="376.00" stroke="#6a7074" stroke-width="0.9" stroke-linecap="butt"/>
<line x1="1412.34" y1="370.50" x2="1412.34" y2="376.00" stroke="#6a7074" stroke-width="0.9" stroke-linecap="butt"/>
<line x1="1414.80" y1="370.50" x2="1414.80" y2="381.50" stroke="#6a7074" stroke-width="0.9" stroke-linecap="butt"/>
<line x1="1417.26" y1="370.50" x2="1417.26" y2="376.00" stroke="#6a7074" stroke-width="0.9" stroke-linecap="butt"/>
<line x1="1419.72" y1="370.50" x2="1419.72" y2="376.00" stroke="#6a7074" stroke-width="0.9" stroke-linecap="butt"/>
<line x1="1422.18" y1="370.50" x2="1422.18" y2="376.00" stroke="#6a7074" stroke-width="0.9" stroke-linecap="butt"/>
<line x1="1424.64" y1="370.50" x2="1424.64" y2="376.00" stroke="#6a7074" stroke-width="0.9" stroke-linecap="butt"/>
<line x1="1427.10" y1="370.50" x2="1427.10" y2="378.50" stroke="#6a7074" stroke-width="0.9" stroke-linecap="butt"/>
<line x1="1429.56" y1="370.50" x2="1429.56" y2="376.00" stroke="#6a7074" stroke-width="0.9" stroke-linecap="butt"/>
<line x1="1432.02" y1="370.50" x2="1432.02" y2="376.00" stroke="#6a7074" stroke-width="0.9" stroke-linecap="butt"/>
<line x1="1434.48" y1="370.50" x2="1434.48" y2="376.00" stroke="#6a7074" stroke-width="0.9" stroke-linecap="butt"/>
<line x1="1436.94" y1="370.50" x2="1436.94" y2="376.00" stroke="#6a7074" stroke-width="0.9" stroke-linecap="butt"/>
<line x1="1439.40" y1="370.50" x2="1439.40" y2="381.50" stroke="#6a7074" stroke-width="0.9" stroke-linecap="butt"/>
<line x1="1441.86" y1="370.50" x2="1441.86" y2="376.00" stroke="#6a7074" stroke-width="0.9" stroke-linecap="butt"/>
<line x1="1444.32" y1="370.50" x2="1444.32" y2="376.00" stroke="#6a7074" stroke-width="0.9" stroke-linecap="butt"/>
<line x1="1446.78" y1="370.50" x2="1446.78" y2="376.00" stroke="#6a7074" stroke-width="0.9" stroke-linecap="butt"/>
<line x1="1449.24" y1="370.50" x2="1449.24" y2="376.00" stroke="#6a7074" stroke-width="0.9" stroke-linecap="butt"/>
<line x1="1451.70" y1="370.50" x2="1451.70" y2="378.50" stroke="#6a7074" stroke-width="0.9" stroke-linecap="butt"/>
<line x1="1454.16" y1="370.50" x2="1454.16" y2="376.00" stroke="#6a7074" stroke-width="0.9" stroke-linecap="butt"/>
<line x1="1456.62" y1="370.50" x2="1456.62" y2="376.00" stroke="#6a7074" stroke-width="0.9" stroke-linecap="butt"/>
<line x1="1459.08" y1="370.50" x2="1459.08" y2="376.00" stroke="#6a7074" stroke-width="0.9" stroke-linecap="butt"/>
<line x1="1461.54" y1="370.50" x2="1461.54" y2="376.00" stroke="#6a7074" stroke-width="0.9" stroke-linecap="butt"/>
<line x1="1464.00" y1="370.50" x2="1464.00" y2="381.50" stroke="#6a7074" stroke-width="0.9" stroke-linecap="butt"/>
<line x1="1466.46" y1="370.50" x2="1466.46" y2="376.00" stroke="#6a7074" stroke-width="0.9" stroke-linecap="butt"/>
<line x1="1468.92" y1="370.50" x2="1468.92" y2="376.00" stroke="#6a7074" stroke-width="0.9" stroke-linecap="butt"/>
<line x1="1471.38" y1="370.50" x2="1471.38" y2="376.00" stroke="#6a7074" stroke-width="0.9" stroke-linecap="butt"/>
<line x1="1473.84" y1="370.50" x2="1473.84" y2="376.00" stroke="#6a7074" stroke-width="0.9" stroke-linecap="butt"/>
<line x1="1476.30" y1="370.50" x2="1476.30" y2="378.50" stroke="#6a7074" stroke-width="0.9" stroke-linecap="butt"/>
<line x1="1478.76" y1="370.50" x2="1478.76" y2="376.00" stroke="#6a7074" stroke-width="0.9" stroke-linecap="butt"/>
<line x1="1481.22" y1="370.50" x2="1481.22" y2="376.00" stroke="#6a7074" stroke-width="0.9" stroke-linecap="butt"/>
<line x1="1483.68" y1="370.50" x2="1483.68" y2="376.00" stroke="#6a7074" stroke-width="0.9" stroke-linecap="butt"/>
<line x1="1486.14" y1="370.50" x2="1486.14" y2="376.00" stroke="#6a7074" stroke-width="0.9" stroke-linecap="butt"/>
<line x1="1488.60" y1="370.50" x2="1488.60" y2="381.50" stroke="#6a7074" stroke-width="0.9" stroke-linecap="butt"/>
<line x1="1491.06" y1="370.50" x2="1491.06" y2="376.00" stroke="#6a7074" stroke-width="0.9" stroke-linecap="butt"/>
<line x1="1493.52" y1="370.50" x2="1493.52" y2="376.00" stroke="#6a7074" stroke-width="0.9" stroke-linecap="butt"/>
<line x1="1495.98" y1="370.50" x2="1495.98" y2="376.00" stroke="#6a7074" stroke-width="0.9" stroke-linecap="butt"/>
<text x="1100.5" y="396" text-anchor="middle" style="font-size:9px;font-weight:bold" fill="#4f5458">1cm</text>
<text x="1119.6" y="396" text-anchor="middle" style="font-size:9px;font-weight:bold" fill="#4f5458">2</text>
<text x="1143.9" y="396" text-anchor="middle" style="font-size:9px;font-weight:bold" fill="#4f5458">3</text>
<text x="1168.2" y="396" text-anchor="middle" style="font-size:9px;font-weight:bold" fill="#4f5458">4</text>
<text x="1193.5" y="396" text-anchor="middle" style="font-size:9px;font-weight:bold" fill="#4f5458">5</text>
<text x="1217.8" y="396" text-anchor="middle" style="font-size:9px;font-weight:bold" fill="#4f5458">6</text>
<text x="1243.0" y="396" text-anchor="middle" style="font-size:9px;font-weight:bold" fill="#4f5458">7</text>
<text x="1268.0" y="396" text-anchor="middle" style="font-size:9px;font-weight:bold" fill="#4f5458">8</text>
<text x="1292.7" y="396" text-anchor="middle" style="font-size:9px;font-weight:bold" fill="#4f5458">9</text>
<text x="1318.6" y="396" text-anchor="middle" style="font-size:9px;font-weight:bold" fill="#4f5458">10</text>
<text x="1343.3" y="396" text-anchor="middle" style="font-size:9px;font-weight:bold" fill="#4f5458">11</text>
<text x="1368.6" y="396" text-anchor="middle" style="font-size:9px;font-weight:bold" fill="#4f5458">12</text>
<text x="1393.5" y="396" text-anchor="middle" style="font-size:9px;font-weight:bold" fill="#4f5458">13</text>
<text x="1418.6" y="396" text-anchor="middle" style="font-size:9px;font-weight:bold" fill="#4f5458">14</text>
<text x="1443.5" y="396" text-anchor="middle" style="font-size:9px;font-weight:bold" fill="#4f5458">15</text>
<text x="1468.4" y="396" text-anchor="middle" style="font-size:9px;font-weight:bold" fill="#4f5458">16</text>
<text x="1492.5" y="396" text-anchor="middle" style="font-size:9px;font-weight:bold" fill="#4f5458">17</text>
<g fill="#4a4542" opacity="0.65" filter="url(#sh)"><use href="#t0" x="3" y="3"/><use href="#t1" x="3" y="3"/><use href="#t2" x="3" y="3"/><use href="#t3" x="3" y="3"/><use href="#t4" x="3" y="3"/><use href="#t5" x="3" y="3"/><use href="#t6" x="3" y="3"/><use href="#t7" x="3" y="3"/><use href="#t8" x="3" y="3"/><use href="#t9" x="3" y="3"/><use href="#t10" x="3" y="3"/><use href="#t11" x="3" y="3"/><use href="#t12" x="3" y="3"/><use href="#t13" x="3" y="3"/><use href="#t14" x="3" y="3"/><use href="#t15" x="3" y="3"/><use href="#t16" x="3" y="3"/><use href="#t17" x="3" y="3"/><use href="#t18" x="3" y="3"/><use href="#t19" x="3" y="3"/><use href="#t20" x="3" y="3"/><use href="#t21" x="3" y="3"/><use href="#t22" x="3" y="3"/><use href="#t23" x="3" y="3"/><use href="#t24" x="3" y="3"/><use href="#t25" x="3" y="3"/><use href="#t26" x="3" y="3"/><use href="#t27" x="3" y="3"/><use href="#t28" x="3" y="3"/><use href="#t29" x="3" y="3"/><use href="#t30" x="3" y="3"/><use href="#t31" x="3" y="3"/><use href="#t32" x="3" y="3"/><use href="#t33" x="3" y="3"/><use href="#t34" x="3" y="3"/><use href="#t35" x="3" y="3"/><use href="#t36" x="3" y="3"/><use href="#t37" x="3" y="3"/><use href="#t38" x="3" y="3"/><use href="#t39" x="3" y="3"/></g>
<g><use href="#t0" fill="url(#tg)"/><use href="#t1" fill="url(#tg)"/><use href="#t2" fill="url(#tg)"/><use href="#t3" fill="url(#tg)"/><use href="#t4" fill="url(#tg)"/><use href="#t5" fill="url(#tg)"/><use href="#t6" fill="url(#tg)"/><use href="#t7" fill="url(#tg)"/><use href="#t8" fill="url(#tg)"/><use href="#t9" fill="url(#tg)"/><use href="#t10" fill="url(#tg)"/><use href="#t11" fill="url(#tg)"/><use href="#t12" fill="url(#tg)"/><use href="#t13" fill="url(#tg)"/><use href="#t14" fill="url(#tg)"/><use href="#t15" fill="url(#tg)"/><use href="#t16" fill="url(#tg)"/><use href="#t17" fill="url(#tg)"/><use href="#t18" fill="url(#tg)"/><use href="#t19" fill="url(#tg)"/><use href="#t20" fill="url(#tg)"/><use href="#t21" fill="url(#tg)"/><use href="#t22" fill="url(#tg)"/><use href="#t23" fill="url(#tg)"/><use href="#t24" fill="url(#tg)"/><use href="#t25" fill="url(#tg)"/><use href="#t26" fill="url(#tg)"/><use href="#t27" fill="url(#tg)"/><use href="#t28" fill="url(#tg)"/><use href="#t29" fill="url(#tg)"/><use href="#t30" fill="url(#tg)"/><use href="#t31" fill="url(#tg)"/><use href="#t32" fill="url(#tg)"/><use href="#t33" fill="url(#tg)"/><use href="#t34" fill="url(#tg)"/><use href="#t35" fill="url(#tg)"/><use href="#t36" fill="url(#tg)"/><use href="#t37" fill="url(#tg)"/><use href="#t38" fill="url(#tg)"/><use href="#t39" fill="url(#tg)"/></g>
<g mask="url(#tm)">
<rect x="1070" y="55" width="430" height="320" filter="url(#tex2)" opacity="0.6"/>
<rect x="1070" y="55" width="430" height="320" filter="url(#tex)" opacity="0.65"/>
<g filter="url(#rb)"><ellipse cx="1129.3" cy="99.4" rx="7.0" ry="1.4" transform="rotate(-54 1129.3 99.4)" fill="#a8241a" opacity="0.66"/><ellipse cx="1127.5" cy="89.0" rx="4.8" ry="1.8" transform="rotate(-50 1127.5 89.0)" fill="#a8241a" opacity="0.65"/><ellipse cx="1086.0" cy="109.3" rx="6.0" ry="2.5" transform="rotate(54 1086.0 109.3)" fill="#a8241a" opacity="0.43"/><ellipse cx="1111.7" cy="79.5" rx="5.6" ry="1.5" transform="rotate(-33 1111.7 79.5)" fill="#a8241a" opacity="0.59"/><ellipse cx="1109.5" cy="109.6" rx="6.3" ry="1.4" transform="rotate(7 1109.5 109.6)" fill="#a8241a" opacity="0.66"/><ellipse cx="1092.3" cy="82.3" rx="5.6" ry="2.6" transform="rotate(25 1092.3 82.3)" fill="#a8241a" opacity="0.62"/><ellipse cx="1109.0" cy="121.5" rx="7.6" ry="2.0" transform="rotate(-4 1109.0 121.5)" fill="#a8241a" opacity="0.51"/><ellipse cx="1164.6" cy="93.9" rx="5.4" ry="3.2" transform="rotate(9 1164.6 93.9)" fill="#a8241a" opacity="0.73"/><ellipse cx="1151.0" cy="131.5" rx="4.8" ry="2.9" transform="rotate(-46 1151.0 131.5)" fill="#a8241a" opacity="0.47"/><ellipse cx="1157.6" cy="83.5" rx="6.7" ry="2.5" transform="rotate(20 1157.6 83.5)" fill="#a8241a" opacity="0.79"/><ellipse cx="1151.9" cy="117.0" rx="5.7" ry="2.2" transform="rotate(11 1151.9 117.0)" fill="#a8241a" opacity="0.78"/><ellipse cx="1172.7" cy="105.7" rx="2.8" ry="2.8" transform="rotate(20 1172.7 105.7)" fill="#a8241a" opacity="0.69"/><ellipse cx="1174.3" cy="123.4" rx="4.6" ry="2.7" transform="rotate(-26 1174.3 123.4)" fill="#a8241a" opacity="0.41"/><ellipse cx="1198.5" cy="116.3" rx="3.7" ry="1.9" transform="rotate(-1 1198.5 116.3)" fill="#a8241a" opacity="0.73"/><ellipse cx="1199.7" cy="128.3" rx="3.4" ry="2.1" transform="rotate(-0 1199.7 128.3)" fill="#a8241a" opacity="0.53"/><ellipse cx="1192.4" cy="109.3" rx="6.4" ry="3.5" transform="rotate(6 1192.4 109.3)" fill="#a8241a" opacity="0.71"/><ellipse cx="1199.2" cy="101.5" rx="3.3" ry="2.7" transform="rotate(-50 1199.2 101.5)" fill="#a8241a" opacity="0.41"/><ellipse cx="1211.7" cy="99.6" rx="3.3" ry="2.4" transform="rotate(-26 1211.7 99.6)" fill="#a8241a" opacity="0.67"/><ellipse cx="1197.5" cy="97.4" rx="7.7" ry="2.7" transform="rotate(43 1197.5 97.4)" fill="#a8241a" opacity="0.73"/><ellipse cx="1201.3" cy="126.5" rx="6.2" ry="2.5" transform="rotate(54 1201.3 126.5)" fill="#a8241a" opacity="0.58"/><ellipse cx="1199.6" cy="111.3" rx="3.5" ry="3.5" transform="rotate(-12 1199.6 111.3)" fill="#a8241a" opacity="0.60"/><ellipse cx="1235.8" cy="95.4" rx="3.3" ry="1.4" transform="rotate(-60 1235.8 95.4)" fill="#a8241a" opacity="0.56"/><ellipse cx="1226.6" cy="126.8" rx="3.3" ry="1.8" transform="rotate(14 1226.6 126.8)" fill="#a8241a" opacity="0.56"/><ellipse cx="1236.5" cy="98.1" rx="8.0" ry="2.3" transform="rotate(42 1236.5 98.1)" fill="#a8241a" opacity="0.62"/><ellipse cx="1228.4" cy="97.3" rx="4.0" ry="3.1" transform="rotate(-19 1228.4 97.3)" fill="#a8241a" opacity="0.47"/><ellipse cx="1226.6" cy="129.8" rx="3.3" ry="2.4" transform="rotate(3 1226.6 129.8)" fill="#a8241a" opacity="0.41"/><ellipse cx="1279.2" cy="119.5" rx="7.1" ry="2.4" transform="rotate(-49 1279.2 119.5)" fill="#a8241a" opacity="0.81"/><ellipse cx="1280.9" cy="104.7" rx="5.3" ry="2.7" transform="rotate(5 1280.9 104.7)" fill="#a8241a" opacity="0.68"/><ellipse cx="1293.2" cy="123.6" rx="3.8" ry="2.1" transform="rotate(-37 1293.2 123.6)" fill="#a8241a" opacity="0.76"/><ellipse cx="1276.4" cy="114.2" rx="7.9" ry="3.0" transform="rotate(28 1276.4 114.2)" fill="#a8241a" opacity="0.61"/><ellipse cx="1276.3" cy="118.2" rx="6.9" ry="2.9" transform="rotate(-19 1276.3 118.2)" fill="#a8241a" opacity="0.56"/><ellipse cx="1298.5" cy="99.7" rx="5.1" ry="2.0" transform="rotate(-48 1298.5 99.7)" fill="#a8241a" opacity="0.62"/><ellipse cx="1298.8" cy="118.4" rx="7.5" ry="2.0" transform="rotate(-60 1298.8 118.4)" fill="#a8241a" opacity="0.69"/><ellipse cx="1294.5" cy="101.1" rx="6.4" ry="1.7" transform="rotate(-13 1294.5 101.1)" fill="#a8241a" opacity="0.80"/><ellipse cx="1283.1" cy="119.3" rx="7.7" ry="2.9" transform="rotate(-50 1283.1 119.3)" fill="#a8241a" opacity="0.61"/><ellipse cx="1346.1" cy="124.1" rx="3.2" ry="1.5" transform="rotate(-40 1346.1 124.1)" fill="#a8241a" opacity="0.81"/><ellipse cx="1342.3" cy="99.4" rx="7.9" ry="2.7" transform="rotate(39 1342.3 99.4)" fill="#a8241a" opacity="0.56"/><ellipse cx="1335.3" cy="98.7" rx="7.8" ry="2.7" transform="rotate(-58 1335.3 98.7)" fill="#a8241a" opacity="0.64"/><ellipse cx="1345.7" cy="111.7" rx="7.0" ry="1.7" transform="rotate(45 1345.7 111.7)" fill="#a8241a" opacity="0.51"/><ellipse cx="1328.4" cy="103.4" rx="3.9" ry="2.2" transform="rotate(10 1328.4 103.4)" fill="#a8241a" opacity="0.46"/><ellipse cx="1345.1" cy="108.2" rx="5.7" ry="3.3" transform="rotate(-5 1345.1 108.2)" fill="#a8241a" opacity="0.59"/><ellipse cx="1345.3" cy="114.6" rx="5.4" ry="1.2" transform="rotate(4 1345.3 114.6)" fill="#a8241a" opacity="0.60"/><ellipse cx="1325.4" cy="93.3" rx="3.4" ry="2.3" transform="rotate(36 1325.4 93.3)" fill="#a8241a" opacity="0.73"/><ellipse cx="1335.5" cy="107.1" rx="5.6" ry="3.0" transform="rotate(2 1335.5 107.1)" fill="#a8241a" opacity="0.45"/><ellipse cx="1335.6" cy="103.7" rx="6.7" ry="2.4" transform="rotate(-27 1335.6 103.7)" fill="#a8241a" opacity="0.65"/><ellipse cx="1370.3" cy="119.3" rx="5.3" ry="2.8" transform="rotate(1 1370.3 119.3)" fill="#a8241a" opacity="0.60"/><ellipse cx="1373.0" cy="114.8" rx="6.3" ry="3.2" transform="rotate(53 1373.0 114.8)" fill="#a8241a" opacity="0.82"/><ellipse cx="1364.8" cy="117.5" rx="7.1" ry="1.5" transform="rotate(53 1364.8 117.5)" fill="#a8241a" opacity="0.45"/><ellipse cx="1370.3" cy="101.1" rx="2.9" ry="2.7" transform="rotate(-31 1370.3 101.1)" fill="#a8241a" opacity="0.75"/><ellipse cx="1383.9" cy="103.8" rx="6.1" ry="1.5" transform="rotate(26 1383.9 103.8)" fill="#a8241a" opacity="0.80"/><ellipse cx="1407.0" cy="135.7" rx="5.2" ry="3.5" transform="rotate(-12 1407.0 135.7)" fill="#a8241a" opacity="0.77"/><ellipse cx="1405.6" cy="117.9" rx="4.4" ry="1.7" transform="rotate(2 1405.6 117.9)" fill="#a8241a" opacity="0.54"/><ellipse cx="1418.7" cy="103.9" rx="4.9" ry="1.2" transform="rotate(6 1418.7 103.9)" fill="#a8241a" opacity="0.55"/><ellipse cx="1416.4" cy="120.7" rx="7.9" ry="3.0" transform="rotate(-52 1416.4 120.7)" fill="#a8241a" opacity="0.84"/><ellipse cx="1404.3" cy="112.2" rx="6.8" ry="1.8" transform="rotate(-55 1404.3 112.2)" fill="#a8241a" opacity="0.46"/><ellipse cx="1411.7" cy="134.3" rx="3.9" ry="1.5" transform="rotate(38 1411.7 134.3)" fill="#a8241a" opacity="0.81"/><ellipse cx="1415.1" cy="127.1" rx="2.8" ry="2.8" transform="rotate(-49 1415.1 127.1)" fill="#a8241a" opacity="0.59"/><ellipse cx="1403.6" cy="135.2" rx="6.9" ry="1.4" transform="rotate(16 1403.6 135.2)" fill="#a8241a" opacity="0.79"/><ellipse cx="1440.3" cy="111.1" rx="8.0" ry="2.2" transform="rotate(-59 1440.3 111.1)" fill="#a8241a" opacity="0.81"/><ellipse cx="1449.7" cy="108.8" rx="7.7" ry="3.4" transform="rotate(25 1449.7 108.8)" fill="#a8241a" opacity="0.52"/><ellipse cx="1438.1" cy="135.1" rx="5.4" ry="1.7" transform="rotate(15 1438.1 135.1)" fill="#a8241a" opacity="0.60"/><ellipse cx="1451.0" cy="115.5" rx="8.0" ry="1.3" transform="rotate(36 1451.0 115.5)" fill="#a8241a" opacity="0.41"/><ellipse cx="1446.6" cy="136.4" rx="3.9" ry="2.2" transform="rotate(2 1446.6 136.4)" fill="#a8241a" opacity="0.70"/><ellipse cx="1476.1" cy="127.2" rx="4.7" ry="2.4" transform="rotate(40 1476.1 127.2)" fill="#a8241a" opacity="0.71"/><ellipse cx="1487.3" cy="122.9" rx="6.4" ry="2.7" transform="rotate(40 1487.3 122.9)" fill="#a8241a" opacity="0.58"/><ellipse cx="1474.4" cy="114.8" rx="2.9" ry="2.9" transform="rotate(-44 1474.4 114.8)" fill="#a8241a" opacity="0.52"/><ellipse cx="1470.7" cy="115.6" rx="7.3" ry="2.7" transform="rotate(41 1470.7 115.6)" fill="#a8241a" opacity="0.53"/><ellipse cx="1472.3" cy="121.5" rx="3.4" ry="2.2" transform="rotate(-5 1472.3 121.5)" fill="#a8241a" opacity="0.52"/><ellipse cx="1486.9" cy="140.6" rx="3.8" ry="3.4" transform="rotate(6 1486.9 140.6)" fill="#a8241a" opacity="0.54"/><ellipse cx="1474.6" cy="113.3" rx="5.1" ry="2.4" transform="rotate(-14 1474.6 113.3)" fill="#a8241a" opacity="0.49"/><ellipse cx="1477.6" cy="113.4" rx="3.0" ry="2.1" transform="rotate(-28 1477.6 113.4)" fill="#a8241a" opacity="0.42"/><ellipse cx="1467.8" cy="121.8" rx="5.7" ry="2.4" transform="rotate(-32 1467.8 121.8)" fill="#a8241a" opacity="0.74"/><ellipse cx="1480.7" cy="133.4" rx="4.6" ry="2.0" transform="rotate(45 1480.7 133.4)" fill="#a8241a" opacity="0.84"/><ellipse cx="1105.8" cy="192.2" rx="7.0" ry="2.8" transform="rotate(-43 1105.8 192.2)" fill="#a8241a" opacity="0.63"/><ellipse cx="1110.0" cy="194.7" rx="7.5" ry="2.9" transform="rotate(1 1110.0 194.7)" fill="#a8241a" opacity="0.66"/><ellipse cx="1120.9" cy="173.6" rx="6.9" ry="2.8" transform="rotate(22 1120.9 173.6)" fill="#a8241a" opacity="0.83"/><ellipse cx="1116.1" cy="175.7" rx="6.0" ry="3.4" transform="rotate(-55 1116.1 175.7)" fill="#a8241a" opacity="0.57"/><ellipse cx="1110.6" cy="174.7" rx="5.4" ry="1.8" transform="rotate(-58 1110.6 174.7)" fill="#a8241a" opacity="0.52"/><ellipse cx="1110.8" cy="175.3" rx="7.4" ry="1.4" transform="rotate(52 1110.8 175.3)" fill="#a8241a" opacity="0.64"/><ellipse cx="1158.6" cy="171.7" rx="4.0" ry="2.9" transform="rotate(-51 1158.6 171.7)" fill="#a8241a" opacity="0.49"/><ellipse cx="1158.7" cy="198.8" rx="4.6" ry="2.3" transform="rotate(-1 1158.7 198.8)" fill="#a8241a" opacity="0.71"/><ellipse cx="1159.2" cy="185.4" rx="2.9" ry="1.5" transform="rotate(17 1159.2 185.4)" fill="#a8241a" opacity="0.51"/><ellipse cx="1158.7" cy="173.7" rx="2.6" ry="1.3" transform="rotate(8 1158.7 173.7)" fill="#a8241a" opacity="0.52"/><ellipse cx="1157.4" cy="188.2" rx="4.1" ry="2.4" transform="rotate(21 1157.4 188.2)" fill="#a8241a" opacity="0.61"/><ellipse cx="1153.3" cy="166.7" rx="3.6" ry="3.4" transform="rotate(47 1153.3 166.7)" fill="#a8241a" opacity="0.82"/><ellipse cx="1144.6" cy="179.5" rx="7.8" ry="2.2" transform="rotate(38 1144.6 179.5)" fill="#a8241a" opacity="0.52"/><ellipse cx="1148.3" cy="197.7" rx="5.7" ry="1.5" transform="rotate(-35 1148.3 197.7)" fill="#a8241a" opacity="0.64"/><ellipse cx="1162.8" cy="167.2" rx="5.3" ry="3.2" transform="rotate(38 1162.8 167.2)" fill="#a8241a" opacity="0.72"/><ellipse cx="1148.8" cy="195.9" rx="2.6" ry="1.2" transform="rotate(-2 1148.8 195.9)" fill="#a8241a" opacity="0.62"/><ellipse cx="1202.7" cy="192.2" rx="4.6" ry="1.5" transform="rotate(-10 1202.7 192.2)" fill="#a8241a" opacity="0.55"/><ellipse cx="1200.8" cy="179.9" rx="7.7" ry="1.7" transform="rotate(-12 1200.8 179.9)" fill="#a8241a" opacity="0.41"/><ellipse cx="1210.8" cy="177.2" rx="4.6" ry="3.2" transform="rotate(-52 1210.8 177.2)" fill="#a8241a" opacity="0.43"/><ellipse cx="1215.2" cy="193.1" rx="4.0" ry="1.3" transform="rotate(43 1215.2 193.1)" fill="#a8241a" opacity="0.70"/><ellipse cx="1208.2" cy="173.9" rx="4.9" ry="1.9" transform="rotate(57 1208.2 173.9)" fill="#a8241a" opacity="0.75"/><ellipse cx="1211.8" cy="182.7" rx="6.7" ry="2.1" transform="rotate(-57 1211.8 182.7)" fill="#a8241a" opacity="0.79"/><ellipse cx="1206.3" cy="175.7" rx="7.6" ry="2.1" transform="rotate(-50 1206.3 175.7)" fill="#a8241a" opacity="0.68"/><ellipse cx="1196.3" cy="196.6" rx="7.5" ry="2.5" transform="rotate(-2 1196.3 196.6)" fill="#a8241a" opacity="0.48"/><ellipse cx="1239.9" cy="182.2" rx="7.9" ry="1.8" transform="rotate(29 1239.9 182.2)" fill="#a8241a" opacity="0.70"/><ellipse cx="1238.9" cy="189.6" rx="3.4" ry="1.6" transform="rotate(-13 1238.9 189.6)" fill="#a8241a" opacity="0.49"/><ellipse cx="1252.9" cy="187.9" rx="7.5" ry="3.5" transform="rotate(-34 1252.9 187.9)" fill="#a8241a" opacity="0.60"/><ellipse cx="1235.1" cy="179.2" rx="4.4" ry="1.4" transform="rotate(-49 1235.1 179.2)" fill="#a8241a" opacity="0.51"/><ellipse cx="1237.9" cy="190.0" rx="6.6" ry="2.1" transform="rotate(46 1237.9 190.0)" fill="#a8241a" opacity="0.59"/><ellipse cx="1244.1" cy="184.5" rx="2.8" ry="1.8" transform="rotate(-19 1244.1 184.5)" fill="#a8241a" opacity="0.84"/><ellipse cx="1234.8" cy="188.1" rx="7.2" ry="1.7" transform="rotate(16 1234.8 188.1)" fill="#a8241a" opacity="0.52"/><ellipse cx="1237.7" cy="185.1" rx="7.7" ry="3.2" transform="rotate(-6 1237.7 185.1)" fill="#a8241a" opacity="0.79"/><ellipse cx="1275.7" cy="189.3" rx="6.9" ry="3.4" transform="rotate(32 1275.7 189.3)" fill="#a8241a" opacity="0.62"/><ellipse cx="1274.7" cy="204.1" rx="5.4" ry="2.3" transform="rotate(51 1274.7 204.1)" fill="#a8241a" opacity="0.60"/><ellipse cx="1288.5" cy="183.4" rx="7.8" ry="1.5" transform="rotate(-42 1288.5 183.4)" fill="#a8241a" opacity="0.77"/><ellipse cx="1286.9" cy="201.6" rx="3.0" ry="3.0" transform="rotate(47 1286.9 201.6)" fill="#a8241a" opacity="0.40"/><ellipse cx="1275.7" cy="193.5" rx="6.4" ry="3.4" transform="rotate(-55 1275.7 193.5)" fill="#a8241a" opacity="0.68"/><ellipse cx="1328.3" cy="197.0" rx="2.9" ry="2.4" transform="rotate(-47 1328.3 197.0)" fill="#a8241a" opacity="0.66"/><ellipse cx="1323.2" cy="183.8" rx="2.6" ry="1.9" transform="rotate(12 1323.2 183.8)" fill="#a8241a" opacity="0.61"/><ellipse cx="1334.8" cy="195.5" rx="5.1" ry="1.7" transform="rotate(46 1334.8 195.5)" fill="#a8241a" opacity="0.51"/><ellipse cx="1334.8" cy="197.2" rx="2.6" ry="2.3" transform="rotate(-23 1334.8 197.2)" fill="#a8241a" opacity="0.70"/><ellipse cx="1323.9" cy="184.8" rx="7.6" ry="1.7" transform="rotate(20 1323.9 184.8)" fill="#a8241a" opacity="0.42"/><ellipse cx="1322.2" cy="189.3" rx="3.6" ry="3.0" transform="rotate(22 1322.2 189.3)" fill="#a8241a" opacity="0.73"/><ellipse cx="1325.6" cy="183.3" rx="4.2" ry="3.1" transform="rotate(56 1325.6 183.3)" fill="#a8241a" opacity="0.50"/><ellipse cx="1319.9" cy="198.7" rx="7.7" ry="2.3" transform="rotate(-25 1319.9 198.7)" fill="#a8241a" opacity="0.48"/><ellipse cx="1319.9" cy="189.2" rx="7.7" ry="1.5" transform="rotate(20 1319.9 189.2)" fill="#a8241a" opacity="0.58"/><ellipse cx="1354.1" cy="194.9" rx="6.4" ry="1.6" transform="rotate(-10 1354.1 194.9)" fill="#a8241a" opacity="0.60"/><ellipse cx="1369.1" cy="188.5" rx="2.9" ry="1.6" transform="rotate(-46 1369.1 188.5)" fill="#a8241a" opacity="0.49"/><ellipse cx="1367.8" cy="193.3" rx="4.2" ry="2.9" transform="rotate(-4 1367.8 193.3)" fill="#a8241a" opacity="0.78"/><ellipse cx="1375.0" cy="191.4" rx="2.9" ry="1.4" transform="rotate(-47 1375.0 191.4)" fill="#a8241a" opacity="0.59"/><ellipse cx="1372.9" cy="194.1" rx="4.6" ry="3.0" transform="rotate(31 1372.9 194.1)" fill="#a8241a" opacity="0.54"/><ellipse cx="1371.1" cy="183.3" rx="3.6" ry="2.4" transform="rotate(25 1371.1 183.3)" fill="#a8241a" opacity="0.60"/><ellipse cx="1403.7" cy="198.9" rx="4.8" ry="3.1" transform="rotate(-56 1403.7 198.9)" fill="#a8241a" opacity="0.75"/><ellipse cx="1396.0" cy="179.5" rx="7.6" ry="1.8" transform="rotate(-52 1396.0 179.5)" fill="#a8241a" opacity="0.74"/><ellipse cx="1416.6" cy="186.4" rx="7.8" ry="2.6" transform="rotate(-27 1416.6 186.4)" fill="#a8241a" opacity="0.52"/><ellipse cx="1412.2" cy="185.9" rx="2.5" ry="2.9" transform="rotate(-27 1412.2 185.9)" fill="#a8241a" opacity="0.81"/><ellipse cx="1410.2" cy="200.0" rx="3.8" ry="2.3" transform="rotate(-57 1410.2 200.0)" fill="#a8241a" opacity="0.83"/><ellipse cx="1417.9" cy="187.4" rx="4.9" ry="2.3" transform="rotate(-30 1417.9 187.4)" fill="#a8241a" opacity="0.82"/><ellipse cx="1399.4" cy="196.8" rx="7.0" ry="3.0" transform="rotate(29 1399.4 196.8)" fill="#a8241a" opacity="0.67"/><ellipse cx="1448.6" cy="192.4" rx="5.8" ry="2.4" transform="rotate(34 1448.6 192.4)" fill="#a8241a" opacity="0.58"/><ellipse cx="1433.9" cy="191.3" rx="5.1" ry="2.5" transform="rotate(18 1433.9 191.3)" fill="#a8241a" opacity="0.47"/><ellipse cx="1439.5" cy="185.1" rx="5.9" ry="1.7" transform="rotate(-51 1439.5 185.1)" fill="#a8241a" opacity="0.59"/><ellipse cx="1451.3" cy="203.0" rx="3.2" ry="2.3" transform="rotate(-39 1451.3 203.0)" fill="#a8241a" opacity="0.80"/><ellipse cx="1435.4" cy="194.0" rx="6.7" ry="3.0" transform="rotate(33 1435.4 194.0)" fill="#a8241a" opacity="0.53"/><ellipse cx="1436.4" cy="188.5" rx="3.9" ry="2.2" transform="rotate(-30 1436.4 188.5)" fill="#a8241a" opacity="0.48"/><ellipse cx="1435.4" cy="188.7" rx="3.5" ry="1.3" transform="rotate(49 1435.4 188.7)" fill="#a8241a" opacity="0.51"/><ellipse cx="1468.1" cy="191.1" rx="6.1" ry="3.5" transform="rotate(37 1468.1 191.1)" fill="#a8241a" opacity="0.45"/><ellipse cx="1467.5" cy="202.4" rx="7.5" ry="1.3" transform="rotate(41 1467.5 202.4)" fill="#a8241a" opacity="0.53"/><ellipse cx="1461.1" cy="190.3" rx="5.7" ry="3.3" transform="rotate(57 1461.1 190.3)" fill="#a8241a" opacity="0.57"/><ellipse cx="1474.6" cy="195.3" rx="6.8" ry="3.4" transform="rotate(-29 1474.6 195.3)" fill="#a8241a" opacity="0.45"/><ellipse cx="1469.7" cy="198.5" rx="4.5" ry="1.5" transform="rotate(-34 1469.7 198.5)" fill="#a8241a" opacity="0.49"/><ellipse cx="1463.6" cy="198.2" rx="3.6" ry="1.2" transform="rotate(18 1463.6 198.2)" fill="#a8241a" opacity="0.55"/><ellipse cx="1103.4" cy="260.6" rx="2.7" ry="2.3" transform="rotate(-51 1103.4 260.6)" fill="#a8241a" opacity="0.62"/><ellipse cx="1104.5" cy="269.4" rx="3.4" ry="2.4" transform="rotate(20 1104.5 269.4)" fill="#a8241a" opacity="0.69"/><ellipse cx="1104.2" cy="243.0" rx="6.2" ry="2.2" transform="rotate(59 1104.2 243.0)" fill="#a8241a" opacity="0.42"/><ellipse cx="1115.4" cy="273.8" rx="2.6" ry="3.0" transform="rotate(-10 1115.4 273.8)" fill="#a8241a" opacity="0.76"/><ellipse cx="1112.2" cy="249.0" rx="7.7" ry="2.2" transform="rotate(-11 1112.2 249.0)" fill="#a8241a" opacity="0.47"/><ellipse cx="1095.0" cy="233.9" rx="4.5" ry="3.0" transform="rotate(9 1095.0 233.9)" fill="#a8241a" opacity="0.46"/><ellipse cx="1093.0" cy="236.5" rx="4.7" ry="2.5" transform="rotate(37 1093.0 236.5)" fill="#a8241a" opacity="0.82"/><ellipse cx="1115.2" cy="238.0" rx="3.4" ry="1.6" transform="rotate(-18 1115.2 238.0)" fill="#a8241a" opacity="0.43"/><ellipse cx="1103.8" cy="267.2" rx="6.9" ry="1.9" transform="rotate(35 1103.8 267.2)" fill="#a8241a" opacity="0.78"/><ellipse cx="1092.8" cy="275.2" rx="5.8" ry="2.7" transform="rotate(-22 1092.8 275.2)" fill="#a8241a" opacity="0.44"/><ellipse cx="1159.9" cy="270.1" rx="6.8" ry="1.7" transform="rotate(-41 1159.9 270.1)" fill="#a8241a" opacity="0.58"/><ellipse cx="1169.0" cy="270.3" rx="3.7" ry="2.1" transform="rotate(-38 1169.0 270.3)" fill="#a8241a" opacity="0.63"/><ellipse cx="1150.3" cy="235.3" rx="6.5" ry="3.3" transform="rotate(-30 1150.3 235.3)" fill="#a8241a" opacity="0.42"/><ellipse cx="1157.5" cy="266.7" rx="7.1" ry="1.5" transform="rotate(-55 1157.5 266.7)" fill="#a8241a" opacity="0.67"/><ellipse cx="1157.0" cy="260.3" rx="4.8" ry="2.5" transform="rotate(-23 1157.0 260.3)" fill="#a8241a" opacity="0.59"/><ellipse cx="1161.4" cy="251.4" rx="2.6" ry="2.6" transform="rotate(-7 1161.4 251.4)" fill="#a8241a" opacity="0.62"/><ellipse cx="1144.3" cy="267.0" rx="5.0" ry="1.6" transform="rotate(34 1144.3 267.0)" fill="#a8241a" opacity="0.61"/><ellipse cx="1139.1" cy="235.6" rx="3.0" ry="2.2" transform="rotate(-8 1139.1 235.6)" fill="#a8241a" opacity="0.63"/><ellipse cx="1136.4" cy="260.8" rx="6.5" ry="3.0" transform="rotate(-50 1136.4 260.8)" fill="#a8241a" opacity="0.63"/><ellipse cx="1136.9" cy="254.2" rx="7.7" ry="1.5" transform="rotate(-15 1136.9 254.2)" fill="#a8241a" opacity="0.79"/><ellipse cx="1213.7" cy="270.0" rx="7.9" ry="2.3" transform="rotate(-37 1213.7 270.0)" fill="#a8241a" opacity="0.83"/><ellipse cx="1220.2" cy="242.2" rx="7.6" ry="1.4" transform="rotate(35 1220.2 242.2)" fill="#a8241a" opacity="0.56"/><ellipse cx="1214.5" cy="241.9" rx="4.0" ry="3.1" transform="rotate(48 1214.5 241.9)" fill="#a8241a" opacity="0.46"/><ellipse cx="1205.6" cy="274.5" rx="3.9" ry="2.4" transform="rotate(-35 1205.6 274.5)" fill="#a8241a" opacity="0.54"/><ellipse cx="1189.2" cy="242.9" rx="7.7" ry="2.8" transform="rotate(-41 1189.2 242.9)" fill="#a8241a" opacity="0.80"/><ellipse cx="1193.8" cy="268.7" rx="5.4" ry="2.7" transform="rotate(-46 1193.8 268.7)" fill="#a8241a" opacity="0.56"/><ellipse cx="1218.6" cy="258.9" rx="7.4" ry="1.4" transform="rotate(10 1218.6 258.9)" fill="#a8241a" opacity="0.85"/><ellipse cx="1210.1" cy="252.0" rx="4.0" ry="3.5" transform="rotate(36 1210.1 252.0)" fill="#a8241a" opacity="0.66"/><ellipse cx="1200.6" cy="267.8" rx="3.5" ry="2.9" transform="rotate(-7 1200.6 267.8)" fill="#a8241a" opacity="0.42"/><ellipse cx="1243.7" cy="264.5" rx="5.7" ry="2.7" transform="rotate(58 1243.7 264.5)" fill="#a8241a" opacity="0.54"/><ellipse cx="1236.7" cy="238.6" rx="5.9" ry="2.2" transform="rotate(-42 1236.7 238.6)" fill="#a8241a" opacity="0.63"/><ellipse cx="1261.5" cy="242.8" rx="6.1" ry="1.3" transform="rotate(-33 1261.5 242.8)" fill="#a8241a" opacity="0.40"/><ellipse cx="1246.5" cy="241.7" rx="3.7" ry="2.5" transform="rotate(-17 1246.5 241.7)" fill="#a8241a" opacity="0.67"/><ellipse cx="1242.3" cy="263.8" rx="3.2" ry="3.4" transform="rotate(-3 1242.3 263.8)" fill="#a8241a" opacity="0.51"/><ellipse cx="1240.8" cy="241.2" rx="7.3" ry="3.0" transform="rotate(17 1240.8 241.2)" fill="#a8241a" opacity="0.58"/><ellipse cx="1244.0" cy="237.6" rx="5.6" ry="2.0" transform="rotate(17 1244.0 237.6)" fill="#a8241a" opacity="0.69"/><ellipse cx="1248.9" cy="277.2" rx="3.9" ry="3.3" transform="rotate(28 1248.9 277.2)" fill="#a8241a" opacity="0.42"/><ellipse cx="1251.4" cy="254.5" rx="2.8" ry="3.0" transform="rotate(-31 1251.4 254.5)" fill="#a8241a" opacity="0.41"/><ellipse cx="1299.9" cy="246.0" rx="5.4" ry="2.7" transform="rotate(-10 1299.9 246.0)" fill="#a8241a" opacity="0.69"/><ellipse cx="1293.1" cy="263.2" rx="2.9" ry="2.6" transform="rotate(1 1293.1 263.2)" fill="#a8241a" opacity="0.85"/><ellipse cx="1301.7" cy="257.6" rx="4.6" ry="2.2" transform="rotate(5 1301.7 257.6)" fill="#a8241a" opacity="0.81"/><ellipse cx="1283.9" cy="264.9" rx="8.0" ry="1.8" transform="rotate(-39 1283.9 264.9)" fill="#a8241a" opacity="0.69"/><ellipse cx="1285.0" cy="274.6" rx="7.7" ry="1.8" transform="rotate(51 1285.0 274.6)" fill="#a8241a" opacity="0.42"/><ellipse cx="1299.3" cy="265.9" rx="7.5" ry="3.4" transform="rotate(22 1299.3 265.9)" fill="#a8241a" opacity="0.53"/><ellipse cx="1307.4" cy="274.8" rx="5.3" ry="1.6" transform="rotate(-50 1307.4 274.8)" fill="#a8241a" opacity="0.81"/><ellipse cx="1305.0" cy="246.2" rx="7.5" ry="1.6" transform="rotate(-41 1305.0 246.2)" fill="#a8241a" opacity="0.57"/><ellipse cx="1298.3" cy="253.5" rx="7.6" ry="3.5" transform="rotate(42 1298.3 253.5)" fill="#a8241a" opacity="0.78"/><ellipse cx="1339.1" cy="266.0" rx="7.2" ry="2.2" transform="rotate(24 1339.1 266.0)" fill="#a8241a" opacity="0.73"/><ellipse cx="1342.1" cy="248.0" rx="5.9" ry="1.4" transform="rotate(-35 1342.1 248.0)" fill="#a8241a" opacity="0.81"/><ellipse cx="1329.3" cy="238.5" rx="7.6" ry="2.0" transform="rotate(-47 1329.3 238.5)" fill="#a8241a" opacity="0.46"/><ellipse cx="1325.9" cy="239.0" rx="6.0" ry="2.8" transform="rotate(23 1325.9 239.0)" fill="#a8241a" opacity="0.73"/><ellipse cx="1327.0" cy="257.6" rx="7.0" ry="3.1" transform="rotate(-16 1327.0 257.6)" fill="#a8241a" opacity="0.80"/><ellipse cx="1327.0" cy="266.9" rx="7.7" ry="1.4" transform="rotate(50 1327.0 266.9)" fill="#a8241a" opacity="0.49"/><ellipse cx="1328.4" cy="238.8" rx="7.0" ry="2.7" transform="rotate(42 1328.4 238.8)" fill="#a8241a" opacity="0.77"/><ellipse cx="1343.9" cy="247.3" rx="3.0" ry="2.9" transform="rotate(-48 1343.9 247.3)" fill="#a8241a" opacity="0.49"/><ellipse cx="1334.6" cy="251.9" rx="3.9" ry="1.8" transform="rotate(-57 1334.6 251.9)" fill="#a8241a" opacity="0.72"/><ellipse cx="1387.0" cy="262.6" rx="5.1" ry="1.9" transform="rotate(12 1387.0 262.6)" fill="#a8241a" opacity="0.74"/><ellipse cx="1384.2" cy="232.2" rx="3.0" ry="2.3" transform="rotate(2 1384.2 232.2)" fill="#a8241a" opacity="0.42"/><ellipse cx="1379.0" cy="260.3" rx="5.7" ry="1.9" transform="rotate(39 1379.0 260.3)" fill="#a8241a" opacity="0.60"/><ellipse cx="1378.0" cy="242.8" rx="2.8" ry="2.0" transform="rotate(30 1378.0 242.8)" fill="#a8241a" opacity="0.44"/><ellipse cx="1382.0" cy="264.9" rx="5.8" ry="3.4" transform="rotate(56 1382.0 264.9)" fill="#a8241a" opacity="0.63"/><ellipse cx="1379.3" cy="237.4" rx="7.7" ry="1.7" transform="rotate(38 1379.3 237.4)" fill="#a8241a" opacity="0.47"/><ellipse cx="1387.7" cy="262.5" rx="8.0" ry="2.5" transform="rotate(-1 1387.7 262.5)" fill="#a8241a" opacity="0.45"/><ellipse cx="1407.9" cy="254.7" rx="7.4" ry="1.4" transform="rotate(-13 1407.9 254.7)" fill="#a8241a" opacity="0.80"/><ellipse cx="1399.7" cy="248.3" rx="7.5" ry="2.4" transform="rotate(-28 1399.7 248.3)" fill="#a8241a" opacity="0.57"/><ellipse cx="1421.0" cy="249.2" rx="5.4" ry="2.9" transform="rotate(-5 1421.0 249.2)" fill="#a8241a" opacity="0.74"/><ellipse cx="1415.1" cy="253.0" rx="3.4" ry="3.1" transform="rotate(-21 1415.1 253.0)" fill="#a8241a" opacity="0.70"/><ellipse cx="1417.5" cy="247.1" rx="6.8" ry="2.5" transform="rotate(-7 1417.5 247.1)" fill="#a8241a" opacity="0.46"/><ellipse cx="1410.6" cy="270.7" rx="3.6" ry="1.9" transform="rotate(-31 1410.6 270.7)" fill="#a8241a" opacity="0.72"/><ellipse cx="1420.0" cy="246.6" rx="3.9" ry="2.0" transform="rotate(-41 1420.0 246.6)" fill="#a8241a" opacity="0.63"/><ellipse cx="1439.0" cy="274.2" rx="7.8" ry="3.5" transform="rotate(-29 1439.0 274.2)" fill="#a8241a" opacity="0.47"/><ellipse cx="1449.4" cy="249.7" rx="3.3" ry="1.9" transform="rotate(-42 1449.4 249.7)" fill="#a8241a" opacity="0.53"/><ellipse cx="1439.9" cy="246.9" rx="4.0" ry="3.2" transform="rotate(49 1439.9 246.9)" fill="#a8241a" opacity="0.61"/><ellipse cx="1433.4" cy="270.9" rx="3.7" ry="3.5" transform="rotate(-8 1433.4 270.9)" fill="#a8241a" opacity="0.53"/><ellipse cx="1433.7" cy="251.7" rx="2.5" ry="1.8" transform="rotate(29 1433.7 251.7)" fill="#a8241a" opacity="0.78"/><ellipse cx="1450.5" cy="262.3" rx="7.2" ry="2.7" transform="rotate(18 1450.5 262.3)" fill="#a8241a" opacity="0.69"/><ellipse cx="1477.6" cy="271.3" rx="6.0" ry="2.2" transform="rotate(22 1477.6 271.3)" fill="#a8241a" opacity="0.54"/><ellipse cx="1476.1" cy="248.1" rx="6.8" ry="2.8" transform="rotate(-10 1476.1 248.1)" fill="#a8241a" opacity="0.68"/><ellipse cx="1468.4" cy="258.2" rx="5.9" ry="2.1" transform="rotate(-5 1468.4 258.2)" fill="#a8241a" opacity="0.70"/><ellipse cx="1482.2" cy="250.8" rx="6.8" ry="2.1" transform="rotate(19 1482.2 250.8)" fill="#a8241a" opacity="0.62"/><ellipse cx="1483.1" cy="246.3" rx="3.4" ry="3.0" transform="rotate(5 1483.1 246.3)" fill="#a8241a" opacity="0.82"/><ellipse cx="1473.9" cy="248.2" rx="5.5" ry="2.8" transform="rotate(9 1473.9 248.2)" fill="#a8241a" opacity="0.63"/><ellipse cx="1476.3" cy="270.6" rx="4.8" ry="3.4" transform="rotate(3 1476.3 270.6)" fill="#a8241a" opacity="0.49"/><ellipse cx="1477.2" cy="257.2" rx="3.2" ry="3.5" transform="rotate(32 1477.2 257.2)" fill="#a8241a" opacity="0.56"/><ellipse cx="1464.5" cy="253.6" rx="2.6" ry="2.2" transform="rotate(-12 1464.5 253.6)" fill="#a8241a" opacity="0.59"/><ellipse cx="1477.5" cy="256.0" rx="3.7" ry="2.9" transform="rotate(-28 1477.5 256.0)" fill="#a8241a" opacity="0.82"/><ellipse cx="1120.4" cy="355.7" rx="5.0" ry="1.6" transform="rotate(55 1120.4 355.7)" fill="#a8241a" opacity="0.82"/><ellipse cx="1090.0" cy="345.1" rx="6.0" ry="2.9" transform="rotate(-37 1090.0 345.1)" fill="#a8241a" opacity="0.77"/><ellipse cx="1092.6" cy="338.0" rx="6.9" ry="2.2" transform="rotate(40 1092.6 338.0)" fill="#a8241a" opacity="0.85"/><ellipse cx="1113.3" cy="337.1" rx="5.1" ry="3.0" transform="rotate(34 1113.3 337.1)" fill="#a8241a" opacity="0.50"/><ellipse cx="1111.4" cy="339.1" rx="6.2" ry="2.3" transform="rotate(58 1111.4 339.1)" fill="#a8241a" opacity="0.76"/><ellipse cx="1114.6" cy="321.3" rx="4.3" ry="2.3" transform="rotate(19 1114.6 321.3)" fill="#a8241a" opacity="0.68"/><ellipse cx="1090.5" cy="350.4" rx="4.2" ry="2.1" transform="rotate(-42 1090.5 350.4)" fill="#a8241a" opacity="0.44"/><ellipse cx="1106.7" cy="319.5" rx="5.4" ry="2.0" transform="rotate(53 1106.7 319.5)" fill="#a8241a" opacity="0.66"/><ellipse cx="1109.8" cy="313.3" rx="4.1" ry="2.6" transform="rotate(-51 1109.8 313.3)" fill="#a8241a" opacity="0.66"/><ellipse cx="1145.8" cy="336.1" rx="3.6" ry="2.1" transform="rotate(34 1145.8 336.1)" fill="#a8241a" opacity="0.64"/><ellipse cx="1163.6" cy="345.6" rx="3.0" ry="3.3" transform="rotate(57 1163.6 345.6)" fill="#a8241a" opacity="0.65"/><ellipse cx="1164.7" cy="329.8" rx="3.7" ry="1.4" transform="rotate(-1 1164.7 329.8)" fill="#a8241a" opacity="0.78"/><ellipse cx="1166.2" cy="322.5" rx="4.8" ry="3.1" transform="rotate(-46 1166.2 322.5)" fill="#a8241a" opacity="0.61"/><ellipse cx="1161.4" cy="337.4" rx="6.4" ry="1.8" transform="rotate(49 1161.4 337.4)" fill="#a8241a" opacity="0.47"/><ellipse cx="1163.2" cy="347.5" rx="4.3" ry="2.8" transform="rotate(-41 1163.2 347.5)" fill="#a8241a" opacity="0.62"/><ellipse cx="1214.3" cy="331.3" rx="7.8" ry="1.4" transform="rotate(-10 1214.3 331.3)" fill="#a8241a" opacity="0.69"/><ellipse cx="1206.9" cy="318.3" rx="6.3" ry="3.3" transform="rotate(13 1206.9 318.3)" fill="#a8241a" opacity="0.55"/><ellipse cx="1219.3" cy="336.4" rx="7.4" ry="1.3" transform="rotate(-2 1219.3 336.4)" fill="#a8241a" opacity="0.72"/><ellipse cx="1206.5" cy="329.9" rx="4.5" ry="2.3" transform="rotate(43 1206.5 329.9)" fill="#a8241a" opacity="0.64"/><ellipse cx="1211.7" cy="325.2" rx="4.8" ry="2.5" transform="rotate(-8 1211.7 325.2)" fill="#a8241a" opacity="0.77"/><ellipse cx="1194.5" cy="348.3" rx="5.3" ry="1.8" transform="rotate(-12 1194.5 348.3)" fill="#a8241a" opacity="0.63"/><ellipse cx="1219.1" cy="341.8" rx="4.3" ry="1.9" transform="rotate(35 1219.1 341.8)" fill="#a8241a" opacity="0.53"/><ellipse cx="1266.2" cy="319.5" rx="4.7" ry="2.5" transform="rotate(60 1266.2 319.5)" fill="#a8241a" opacity="0.58"/><ellipse cx="1254.2" cy="331.2" rx="2.8" ry="3.1" transform="rotate(-47 1254.2 331.2)" fill="#a8241a" opacity="0.61"/><ellipse cx="1260.0" cy="318.5" rx="5.5" ry="2.1" transform="rotate(0 1260.0 318.5)" fill="#a8241a" opacity="0.47"/><ellipse cx="1257.2" cy="342.1" rx="3.0" ry="1.3" transform="rotate(45 1257.2 342.1)" fill="#a8241a" opacity="0.69"/><ellipse cx="1255.8" cy="322.8" rx="7.3" ry="2.2" transform="rotate(20 1255.8 322.8)" fill="#a8241a" opacity="0.45"/><ellipse cx="1264.9" cy="316.8" rx="3.3" ry="1.9" transform="rotate(45 1264.9 316.8)" fill="#a8241a" opacity="0.72"/><ellipse cx="1262.9" cy="323.2" rx="2.6" ry="2.5" transform="rotate(-56 1262.9 323.2)" fill="#a8241a" opacity="0.66"/><ellipse cx="1264.4" cy="334.9" rx="7.0" ry="3.0" transform="rotate(3 1264.4 334.9)" fill="#a8241a" opacity="0.59"/><ellipse cx="1257.9" cy="331.4" rx="6.2" ry="2.6" transform="rotate(-52 1257.9 331.4)" fill="#a8241a" opacity="0.85"/><ellipse cx="1308.7" cy="335.0" rx="3.1" ry="2.7" transform="rotate(-11 1308.7 335.0)" fill="#a8241a" opacity="0.50"/><ellipse cx="1285.1" cy="316.4" rx="6.3" ry="1.5" transform="rotate(-59 1285.1 316.4)" fill="#a8241a" opacity="0.83"/><ellipse cx="1283.3" cy="351.0" rx="2.6" ry="2.9" transform="rotate(-45 1283.3 351.0)" fill="#a8241a" opacity="0.51"/><ellipse cx="1301.7" cy="323.3" rx="6.8" ry="2.8" transform="rotate(-54 1301.7 323.3)" fill="#a8241a" opacity="0.78"/><ellipse cx="1301.5" cy="319.2" rx="6.4" ry="2.3" transform="rotate(15 1301.5 319.2)" fill="#a8241a" opacity="0.82"/><ellipse cx="1288.0" cy="354.8" rx="2.6" ry="1.2" transform="rotate(26 1288.0 354.8)" fill="#a8241a" opacity="0.69"/><ellipse cx="1304.0" cy="319.0" rx="6.5" ry="1.6" transform="rotate(-23 1304.0 319.0)" fill="#a8241a" opacity="0.79"/><ellipse cx="1294.6" cy="318.2" rx="5.7" ry="2.2" transform="rotate(-16 1294.6 318.2)" fill="#a8241a" opacity="0.70"/><ellipse cx="1284.9" cy="348.0" rx="6.0" ry="2.6" transform="rotate(-16 1284.9 348.0)" fill="#a8241a" opacity="0.59"/><ellipse cx="1291.7" cy="347.6" rx="6.8" ry="2.5" transform="rotate(53 1291.7 347.6)" fill="#a8241a" opacity="0.53"/><ellipse cx="1343.1" cy="337.0" rx="5.8" ry="3.2" transform="rotate(36 1343.1 337.0)" fill="#a8241a" opacity="0.73"/><ellipse cx="1325.3" cy="320.5" rx="5.7" ry="3.4" transform="rotate(40 1325.3 320.5)" fill="#a8241a" opacity="0.51"/><ellipse cx="1336.2" cy="327.9" rx="3.8" ry="2.2" transform="rotate(33 1336.2 327.9)" fill="#a8241a" opacity="0.71"/><ellipse cx="1334.3" cy="324.3" rx="7.6" ry="3.0" transform="rotate(-41 1334.3 324.3)" fill="#a8241a" opacity="0.75"/><ellipse cx="1333.3" cy="320.1" rx="8.0" ry="1.5" transform="rotate(47 1333.3 320.1)" fill="#a8241a" opacity="0.84"/><ellipse cx="1381.2" cy="347.2" rx="3.0" ry="2.5" transform="rotate(-18 1381.2 347.2)" fill="#a8241a" opacity="0.76"/><ellipse cx="1370.3" cy="342.2" rx="3.8" ry="2.6" transform="rotate(52 1370.3 342.2)" fill="#a8241a" opacity="0.70"/><ellipse cx="1376.2" cy="325.5" rx="6.6" ry="3.0" transform="rotate(-29 1376.2 325.5)" fill="#a8241a" opacity="0.61"/><ellipse cx="1367.7" cy="343.9" rx="3.8" ry="2.5" transform="rotate(33 1367.7 343.9)" fill="#a8241a" opacity="0.80"/><ellipse cx="1385.7" cy="335.2" rx="5.7" ry="1.6" transform="rotate(-3 1385.7 335.2)" fill="#a8241a" opacity="0.49"/><ellipse cx="1369.8" cy="340.7" rx="5.6" ry="2.1" transform="rotate(-16 1369.8 340.7)" fill="#a8241a" opacity="0.63"/><ellipse cx="1369.1" cy="320.5" rx="4.6" ry="1.4" transform="rotate(60 1369.1 320.5)" fill="#a8241a" opacity="0.68"/><ellipse cx="1383.5" cy="323.9" rx="4.4" ry="2.4" transform="rotate(12 1383.5 323.9)" fill="#a8241a" opacity="0.41"/><ellipse cx="1366.5" cy="349.6" rx="5.2" ry="2.5" transform="rotate(44 1366.5 349.6)" fill="#a8241a" opacity="0.52"/><ellipse cx="1412.6" cy="349.6" rx="7.0" ry="3.4" transform="rotate(32 1412.6 349.6)" fill="#a8241a" opacity="0.51"/><ellipse cx="1402.4" cy="327.8" rx="3.0" ry="1.3" transform="rotate(-38 1402.4 327.8)" fill="#a8241a" opacity="0.65"/><ellipse cx="1424.2" cy="335.3" rx="7.5" ry="1.3" transform="rotate(54 1424.2 335.3)" fill="#a8241a" opacity="0.67"/><ellipse cx="1411.8" cy="325.4" rx="3.9" ry="2.5" transform="rotate(55 1411.8 325.4)" fill="#a8241a" opacity="0.69"/><ellipse cx="1426.5" cy="341.5" rx="5.0" ry="1.6" transform="rotate(-13 1426.5 341.5)" fill="#a8241a" opacity="0.83"/><ellipse cx="1427.4" cy="328.4" rx="3.9" ry="2.0" transform="rotate(-55 1427.4 328.4)" fill="#a8241a" opacity="0.81"/><ellipse cx="1425.1" cy="346.4" rx="6.8" ry="2.8" transform="rotate(-54 1425.1 346.4)" fill="#a8241a" opacity="0.69"/><ellipse cx="1439.2" cy="327.9" rx="7.7" ry="2.8" transform="rotate(31 1439.2 327.9)" fill="#a8241a" opacity="0.53"/><ellipse cx="1451.6" cy="343.6" rx="4.3" ry="1.8" transform="rotate(-47 1451.6 343.6)" fill="#a8241a" opacity="0.46"/><ellipse cx="1449.1" cy="328.5" rx="3.3" ry="2.8" transform="rotate(-31 1449.1 328.5)" fill="#a8241a" opacity="0.41"/><ellipse cx="1454.6" cy="329.2" rx="7.6" ry="1.7" transform="rotate(-56 1454.6 329.2)" fill="#a8241a" opacity="0.82"/><ellipse cx="1458.0" cy="346.9" rx="5.0" ry="1.4" transform="rotate(-43 1458.0 346.9)" fill="#a8241a" opacity="0.82"/><ellipse cx="1457.5" cy="340.3" rx="4.4" ry="3.1" transform="rotate(-6 1457.5 340.3)" fill="#a8241a" opacity="0.61"/><ellipse cx="1452.5" cy="327.9" rx="2.8" ry="2.8" transform="rotate(-33 1452.5 327.9)" fill="#a8241a" opacity="0.65"/><ellipse cx="1441.2" cy="346.5" rx="4.8" ry="1.6" transform="rotate(-28 1441.2 346.5)" fill="#a8241a" opacity="0.52"/><ellipse cx="1475.9" cy="329.8" rx="4.2" ry="3.3" transform="rotate(-1 1475.9 329.8)" fill="#a8241a" opacity="0.45"/><ellipse cx="1489.9" cy="327.9" rx="6.2" ry="1.7" transform="rotate(47 1489.9 327.9)" fill="#a8241a" opacity="0.61"/><ellipse cx="1474.9" cy="331.3" rx="4.5" ry="3.5" transform="rotate(-36 1474.9 331.3)" fill="#a8241a" opacity="0.85"/><ellipse cx="1488.7" cy="328.6" rx="7.4" ry="1.3" transform="rotate(-25 1488.7 328.6)" fill="#a8241a" opacity="0.73"/><ellipse cx="1475.0" cy="343.8" rx="6.9" ry="2.0" transform="rotate(-58 1475.0 343.8)" fill="#a8241a" opacity="0.46"/><ellipse cx="1468.7" cy="341.2" rx="3.5" ry="2.2" transform="rotate(3 1468.7 341.2)" fill="#a8241a" opacity="0.81"/><ellipse cx="1473.4" cy="336.7" rx="3.5" ry="3.0" transform="rotate(-43 1473.4 336.7)" fill="#a8241a" opacity="0.72"/></g>
<path d="M1112.7,125.8h2.3v2.1h-1zM1121.1,85.5h1.2v2.0h-1zM1114.2,86.5h1.5v1.0h-1zM1117.5,106.7h2.3v2.4h-1zM1108.5,96.1h1.4v2.0h-1zM1130.7,80.3h1.6v2.1h-1zM1171.1,94.3h1.3v2.2h-1zM1153.3,88.7h1.6v1.9h-1zM1140.6,108.1h1.7v1.8h-1zM1144.7,118.7h2.2v2.3h-1zM1151.7,118.5h1.6v2.1h-1zM1142.6,127.3h2.4v1.7h-1zM1188.5,124.7h1.2v1.4h-1zM1190.3,117.0h1.3v1.5h-1zM1204.1,130.9h1.0v2.4h-1zM1209.6,102.1h2.3v2.0h-1zM1201.4,101.1h1.7v1.5h-1zM1190.5,98.6h1.4v1.7h-1zM1205.0,122.9h1.2v1.2h-1zM1213.9,113.7h1.3v1.3h-1zM1207.5,110.4h1.6v2.4h-1zM1254.2,108.0h1.6v2.3h-1zM1241.3,108.2h2.4v2.2h-1zM1235.5,101.9h1.5v1.7h-1zM1255.5,124.9h2.4v2.2h-1zM1251.3,94.3h1.8v2.4h-1zM1277.4,111.6h1.9v1.5h-1zM1285.9,98.3h1.6v1.8h-1zM1270.4,100.9h2.5v2.2h-1zM1298.3,119.5h2.2v2.3h-1zM1296.7,97.0h2.0v1.4h-1zM1290.4,106.0h1.8v2.4h-1zM1288.7,105.1h1.8v1.7h-1zM1327.9,105.6h2.0v1.2h-1zM1336.7,135.3h1.8v1.4h-1zM1333.0,116.0h1.2v1.2h-1zM1323.4,105.1h1.6v1.4h-1zM1326.6,95.7h1.8v2.3h-1zM1378.2,105.5h1.6v1.8h-1zM1367.7,129.6h1.5v1.7h-1zM1382.2,98.6h1.5v1.3h-1zM1373.5,132.4h1.6v2.4h-1zM1361.2,131.8h1.5v1.5h-1zM1364.6,129.1h1.3v1.1h-1zM1356.7,117.3h1.9v1.5h-1zM1377.0,116.1h2.3v1.5h-1zM1380.4,116.3h2.5v2.0h-1zM1411.4,126.4h1.2v1.3h-1zM1416.2,112.1h2.3v1.1h-1zM1422.3,135.6h2.5v1.4h-1zM1416.7,125.1h2.1v1.6h-1zM1403.7,117.0h1.8v1.2h-1zM1411.0,138.2h1.2v2.3h-1zM1456.9,125.7h1.6v1.7h-1zM1445.3,129.3h1.4v1.6h-1zM1448.0,118.7h1.5v2.2h-1zM1456.3,122.3h1.7v1.3h-1zM1441.0,111.1h1.9v1.9h-1zM1435.0,135.5h1.5v2.3h-1zM1456.0,136.8h1.3v1.6h-1zM1467.3,120.0h2.3v1.4h-1zM1478.3,121.7h1.9v1.7h-1zM1484.5,134.1h1.6v1.7h-1zM1467.6,132.6h1.7v1.0h-1zM1468.2,119.2h1.6v1.8h-1zM1113.9,190.9h2.3v2.4h-1zM1111.6,186.5h1.9v2.5h-1zM1107.2,189.5h2.2v1.3h-1zM1106.5,204.2h2.2v1.8h-1zM1100.2,201.4h2.0v2.2h-1zM1126.9,201.2h1.6v1.2h-1zM1105.6,188.9h1.8v1.3h-1zM1102.3,192.8h1.9v1.5h-1zM1127.0,193.0h1.1v1.6h-1zM1120.7,182.2h2.0v1.0h-1zM1151.9,164.9h1.0v1.0h-1zM1147.2,191.8h1.9v2.3h-1zM1162.2,181.6h1.2v1.3h-1zM1156.1,166.8h1.8v1.8h-1zM1144.2,164.0h2.4v1.7h-1zM1153.3,178.2h2.2v2.0h-1zM1157.8,184.2h1.2v1.4h-1zM1196.5,177.2h1.1v2.4h-1zM1207.1,179.9h1.7v1.6h-1zM1193.6,198.1h1.9v2.4h-1zM1203.5,189.0h1.4v1.1h-1zM1216.0,196.9h1.5v2.3h-1zM1213.1,178.4h1.9v2.4h-1zM1204.9,200.1h1.4v1.6h-1zM1245.6,185.4h1.6v2.1h-1zM1231.7,199.2h1.1v1.3h-1zM1240.5,173.0h2.3v1.6h-1zM1240.1,183.0h2.3v1.5h-1zM1247.3,202.0h1.6v2.4h-1zM1244.8,184.6h1.7v1.5h-1zM1241.9,181.3h1.0v2.2h-1zM1237.1,176.7h1.3v1.8h-1zM1250.6,189.7h1.7v2.2h-1zM1237.1,184.0h1.3v1.6h-1zM1292.5,182.4h2.4v1.8h-1zM1277.3,190.0h1.2v2.1h-1zM1278.0,204.0h1.9v1.6h-1zM1277.7,194.9h1.3v2.3h-1zM1275.2,191.9h1.8v1.4h-1zM1288.7,187.9h2.0v1.9h-1zM1279.1,188.1h1.1v1.3h-1zM1290.3,185.9h2.0v1.2h-1zM1284.3,187.2h1.8v1.4h-1zM1274.0,185.6h1.3v1.2h-1zM1323.3,187.2h2.3v1.7h-1zM1328.3,195.3h2.3v2.4h-1zM1318.5,187.6h2.2v2.0h-1zM1334.1,177.4h2.1v1.7h-1zM1336.3,188.6h2.4v1.1h-1zM1321.0,184.7h1.9v1.3h-1zM1329.3,188.7h1.9v1.6h-1zM1331.1,181.3h2.1v1.8h-1zM1328.3,204.6h1.8v1.3h-1zM1325.5,192.1h2.4v2.0h-1zM1361.0,180.6h2.3v2.2h-1zM1359.5,181.6h2.3v1.9h-1zM1354.0,186.5h1.2v2.2h-1zM1357.8,202.9h2.1v1.1h-1zM1369.0,190.2h2.1v2.2h-1zM1359.4,182.7h2.4v1.6h-1zM1374.5,197.4h2.1v2.2h-1zM1367.5,191.6h1.1v2.0h-1zM1362.8,193.0h2.4v1.2h-1zM1395.3,194.9h2.2v1.4h-1zM1408.2,201.3h2.0v1.8h-1zM1400.6,179.4h1.5v1.6h-1zM1399.4,185.5h1.2v2.1h-1zM1411.4,183.7h1.4v1.8h-1zM1405.6,200.5h1.5v1.4h-1zM1433.0,194.6h1.5v2.2h-1zM1442.1,199.0h1.3v2.0h-1zM1443.2,192.4h2.1v2.2h-1zM1432.4,188.6h1.5v1.3h-1zM1431.2,188.4h1.3v2.1h-1zM1439.8,184.7h1.5v1.7h-1zM1437.9,185.9h1.1v1.0h-1zM1452.0,198.8h1.1v2.1h-1zM1451.8,194.7h1.2v1.7h-1zM1439.5,186.4h1.8v1.0h-1zM1470.8,198.9h2.4v2.0h-1zM1463.2,191.1h1.2v1.0h-1zM1473.3,203.2h1.4v1.3h-1zM1470.7,203.3h2.4v1.3h-1zM1473.5,203.0h2.1v1.5h-1zM1112.6,246.8h1.3v1.2h-1zM1121.9,272.6h1.4v1.1h-1zM1094.0,270.7h2.4v2.5h-1zM1104.2,230.4h1.3v1.6h-1zM1115.4,281.1h1.9v1.9h-1zM1095.2,239.9h1.2v2.0h-1zM1137.3,229.7h1.7v1.3h-1zM1164.6,227.7h2.3v2.3h-1zM1167.4,250.1h1.4v2.0h-1zM1155.6,249.8h1.5v1.7h-1zM1162.2,271.2h2.4v1.2h-1zM1146.2,251.0h1.8v1.5h-1zM1141.8,232.1h1.5v1.7h-1zM1175.4,275.6h2.3v2.5h-1zM1210.0,270.7h1.1v2.0h-1zM1209.6,247.2h1.9v2.4h-1zM1204.8,263.2h1.4v1.5h-1zM1220.0,235.0h1.3v2.0h-1zM1203.5,237.6h2.0v1.6h-1zM1208.5,252.7h1.8v1.8h-1zM1201.6,238.9h1.3v2.3h-1zM1207.3,238.8h2.3v1.4h-1zM1190.3,257.9h1.4v1.7h-1zM1249.3,260.4h2.0v2.1h-1zM1262.6,261.5h2.3v2.0h-1zM1259.4,241.8h1.8v1.8h-1zM1260.5,278.9h1.9v2.4h-1zM1250.9,256.7h2.0v1.8h-1zM1264.4,244.4h1.7v1.1h-1zM1246.8,263.9h1.6v1.1h-1zM1236.9,267.7h2.4v1.7h-1zM1239.3,241.9h2.4v1.1h-1zM1297.4,276.9h2.3v1.3h-1zM1302.8,251.5h2.1v2.0h-1zM1305.1,241.9h1.6v2.1h-1zM1308.8,268.3h1.1v1.9h-1zM1283.6,260.6h2.2v1.2h-1zM1308.1,266.2h1.4v1.3h-1zM1324.7,272.1h1.7v2.2h-1zM1339.6,239.2h1.4v1.2h-1zM1353.8,268.0h2.0v2.3h-1zM1342.8,245.5h2.5v2.1h-1zM1332.6,252.5h1.0v2.5h-1zM1339.6,253.9h1.0v2.3h-1zM1326.4,258.8h2.0v1.9h-1zM1351.0,271.3h2.0v1.7h-1zM1386.8,256.4h1.1v1.5h-1zM1370.5,268.8h1.9v1.1h-1zM1369.3,245.4h1.7v1.9h-1zM1374.7,245.1h1.0v1.9h-1zM1373.4,230.4h1.7v2.5h-1zM1366.2,235.9h2.0v1.4h-1zM1400.0,275.3h1.5v1.9h-1zM1413.7,245.3h2.0v2.4h-1zM1422.1,243.8h1.3v1.6h-1zM1413.4,243.9h2.2v2.2h-1zM1404.6,268.4h1.2v1.1h-1zM1423.7,252.4h1.5v2.3h-1zM1404.8,271.1h2.1v1.5h-1zM1441.2,253.4h2.5v1.7h-1zM1442.0,250.7h1.4v1.5h-1zM1435.9,242.5h2.3v1.7h-1zM1444.1,261.9h1.5v1.3h-1zM1434.1,252.7h1.5v2.1h-1zM1446.9,274.5h1.5v2.4h-1zM1447.7,245.1h1.3v1.9h-1zM1458.4,254.6h2.2v1.6h-1zM1455.2,244.6h1.7v2.3h-1zM1439.6,251.2h1.0v1.2h-1zM1467.8,244.8h1.1v1.7h-1zM1482.0,253.4h1.8v1.1h-1zM1467.9,246.0h1.2v1.1h-1zM1464.3,270.9h1.9v2.1h-1zM1462.8,253.0h2.0v1.0h-1zM1469.7,245.0h1.5v2.3h-1zM1463.3,260.1h1.9v2.2h-1zM1088.6,324.1h1.1v1.9h-1zM1098.5,328.7h1.9v1.4h-1zM1103.2,301.0h2.4v1.8h-1zM1122.1,303.4h1.9v2.1h-1zM1098.3,305.6h1.2v1.2h-1zM1114.1,305.4h2.2v1.6h-1zM1167.1,353.8h1.2v2.5h-1zM1162.4,326.3h1.9v2.2h-1zM1158.0,317.8h2.0v2.0h-1zM1161.2,346.9h1.8v1.5h-1zM1160.3,328.2h1.4v1.8h-1zM1141.1,351.4h2.5v1.2h-1zM1164.8,333.7h2.5v2.4h-1zM1164.6,321.7h1.8v1.3h-1zM1171.4,327.6h1.9v2.1h-1zM1216.2,350.2h2.2v1.8h-1zM1196.3,344.4h1.7v2.3h-1zM1191.0,352.5h2.4v1.6h-1zM1190.9,347.6h1.0v2.0h-1zM1183.4,348.3h2.4v2.0h-1zM1196.3,325.1h1.6v2.4h-1zM1266.2,340.1h1.3v1.4h-1zM1244.4,332.4h1.3v1.3h-1zM1260.3,340.7h1.4v2.5h-1zM1242.9,337.8h1.2v2.3h-1zM1263.8,325.7h2.1v2.2h-1zM1245.0,328.3h1.7v2.3h-1zM1241.2,342.3h1.9v1.7h-1zM1254.5,350.3h1.3v2.3h-1zM1281.2,347.8h1.7v1.7h-1zM1284.0,354.8h2.0v2.2h-1zM1284.4,353.8h1.2v1.5h-1zM1295.1,329.6h2.1v1.7h-1zM1291.9,332.3h2.0v2.0h-1zM1291.9,328.9h2.3v1.9h-1zM1285.9,341.5h1.0v1.2h-1zM1331.1,329.6h1.2v1.0h-1zM1354.8,325.5h2.3v1.2h-1zM1339.1,319.2h1.6v1.3h-1zM1345.3,319.6h2.1v1.8h-1zM1327.4,326.8h1.7v2.4h-1zM1334.8,322.0h2.5v2.3h-1zM1346.7,324.0h1.3v1.4h-1zM1326.1,315.9h1.8v1.6h-1zM1341.3,327.2h1.0v2.0h-1zM1375.9,327.4h1.5v1.6h-1zM1388.8,342.5h1.4v1.6h-1zM1378.0,330.7h1.2v2.1h-1zM1386.2,344.5h2.3v2.0h-1zM1370.7,334.5h2.5v2.0h-1zM1382.5,350.6h2.2v2.0h-1zM1367.1,338.5h1.1v2.1h-1zM1374.7,336.4h2.0v1.7h-1zM1381.0,333.0h1.9v1.7h-1zM1380.5,333.5h1.5v1.8h-1zM1407.1,340.5h2.1v1.6h-1zM1420.4,333.2h1.8v1.9h-1zM1419.5,331.0h1.9v1.8h-1zM1406.8,340.0h1.4v2.4h-1zM1413.8,343.4h1.8v1.7h-1zM1406.7,325.3h2.4v1.8h-1zM1415.2,337.4h2.2v1.4h-1zM1405.3,346.5h1.7v2.0h-1zM1458.6,324.6h1.6v2.2h-1zM1457.4,326.7h1.2v1.4h-1zM1439.6,333.1h2.2v1.8h-1zM1448.3,325.8h1.6v2.5h-1zM1454.3,335.6h1.7v2.2h-1zM1455.9,327.5h2.0v1.6h-1zM1450.0,329.9h1.6v1.5h-1zM1446.6,323.9h1.3v1.9h-1zM1438.5,328.3h2.1v1.4h-1zM1445.1,330.0h2.3v1.1h-1zM1479.3,327.9h1.2v2.4h-1zM1474.6,340.7h2.4v2.1h-1zM1476.6,327.1h2.1v2.5h-1zM1477.9,337.5h1.4v1.4h-1zM1487.6,328.7h1.9v2.5h-1zM1487.7,337.0h1.1v1.3h-1zM1487.9,327.8h1.7v1.6h-1zM1477.5,343.5h2.0v2.2h-1zM1470.4,336.7h2.4v2.1h-1zM1478.0,344.6h1.3v1.1h-1z" fill="#f3d9c8" opacity="0.7"/>
<g fill="none" stroke="#7a4a3e" stroke-width="3" opacity="0.35" filter="url(#rb)"><use href="#t0"/><use href="#t1"/><use href="#t2"/><use href="#t3"/><use href="#t4"/><use href="#t5"/><use href="#t6"/><use href="#t7"/><use href="#t8"/><use href="#t9"/><use href="#t10"/><use href="#t11"/><use href="#t12"/><use href="#t13"/><use href="#t14"/><use href="#t15"/><use href="#t16"/><use href="#t17"/><use href="#t18"/><use href="#t19"/><use href="#t20"/><use href="#t21"/><use href="#t22"/><use href="#t23"/><use href="#t24"/><use href="#t25"/><use href="#t26"/><use href="#t27"/><use href="#t28"/><use href="#t29"/><use href="#t30"/><use href="#t31"/><use href="#t32"/><use href="#t33"/><use href="#t34"/><use href="#t35"/><use href="#t36"/><use href="#t37"/><use href="#t38"/><use href="#t39"/></g>
</g>
<text x="1058.7" y="122.7" text-anchor="end" style="font-size:27px"><tspan style="font-style:italic">Pten</tspan><tspan dy="-10.0" style="font-size:16.7px;font-style:italic">f/f</tspan><tspan dy="10.0">+PBS</tspan></text>
<text x="1060.2" y="194.2" text-anchor="end" style="font-size:27px"><tspan style="font-style:italic">Pten</tspan><tspan dy="-10.0" style="font-size:16.7px;font-style:italic">f/f</tspan><tspan dy="10.0">+MTX</tspan></text>
<text x="1060.2" y="262.6" text-anchor="end" style="font-size:27px"><tspan style="font-style:italic">Pten</tspan><tspan dy="-10.0" style="font-size:16.7px;font-style:italic">mKO</tspan><tspan dy="10.0">+PBS</tspan></text>
<text x="1061.8" y="346.5" text-anchor="end" style="font-size:27px"><tspan style="font-style:italic">Pten</tspan><tspan dy="-10.0" style="font-size:16.7px;font-style:italic">mKO</tspan><tspan dy="10.0">+MTX</tspan></text>
<text x="1556.20" y="72.10" style="font-size:40px;font-weight:bold" fill="#000">d</text>
<line x1="1690.70" y1="151.30" x2="1690.70" y2="456.80" stroke="#000" stroke-width="4.3" stroke-linecap="butt"/>
<line x1="1678.20" y1="444.80" x2="2114.20" y2="444.80" stroke="#000" stroke-width="4.0" stroke-linecap="butt"/>
<line x1="1678.20" y1="444.60" x2="1690.70" y2="444.60" stroke="#000" stroke-width="3.2" stroke-linecap="butt"/>
<text x="1651.27" y="456.50" style="font-size:27.5px" fill="#000">0</text>
<line x1="1678.20" y1="371.90" x2="1690.70" y2="371.90" stroke="#000" stroke-width="3.2" stroke-linecap="butt"/>
<text x="1620.67" y="383.80" style="font-size:27.5px" fill="#000">100</text>
<line x1="1678.20" y1="299.20" x2="1690.70" y2="299.20" stroke="#000" stroke-width="3.2" stroke-linecap="butt"/>
<text x="1620.67" y="311.10" style="font-size:27.5px" fill="#000">200</text>
<line x1="1678.20" y1="226.10" x2="1690.70" y2="226.10" stroke="#000" stroke-width="3.2" stroke-linecap="butt"/>
<text x="1620.67" y="238.00" style="font-size:27.5px" fill="#000">300</text>
<line x1="1678.20" y1="152.80" x2="1690.70" y2="152.80" stroke="#000" stroke-width="3.2" stroke-linecap="butt"/>
<text x="1620.67" y="164.70" style="font-size:27.5px" fill="#000">400</text>
<line x1="1690.70" y1="444.80" x2="1690.70" y2="456.80" stroke="#000" stroke-width="3.2" stroke-linecap="butt"/>
<text x="1683.81" y="485.20" style="font-size:26.5px" fill="#000">0</text>
<line x1="1775.10" y1="444.80" x2="1775.10" y2="456.80" stroke="#000" stroke-width="3.2" stroke-linecap="butt"/>
<text x="1766.35" y="485.20" style="font-size:26.5px" fill="#000">5</text>
<line x1="1859.50" y1="444.80" x2="1859.50" y2="456.80" stroke="#000" stroke-width="3.2" stroke-linecap="butt"/>
<text x="1848.30" y="485.20" style="font-size:26.5px" fill="#000">10</text>
<line x1="1943.90" y1="444.80" x2="1943.90" y2="456.80" stroke="#000" stroke-width="3.2" stroke-linecap="butt"/>
<text x="1931.03" y="485.20" style="font-size:26.5px" fill="#000">15</text>
<line x1="2028.30" y1="444.80" x2="2028.30" y2="456.80" stroke="#000" stroke-width="3.2" stroke-linecap="butt"/>
<text x="2012.13" y="485.20" style="font-size:26.5px" fill="#000">20</text>
<line x1="2112.70" y1="444.80" x2="2112.70" y2="456.80" stroke="#000" stroke-width="3.2" stroke-linecap="butt"/>
<text x="2096.16" y="485.20" style="font-size:26.5px" fill="#000">25</text>
<text x="1860.79" y="520.50" style="font-size:27px" fill="#000">Time (d)</text>
<text transform="translate(1602.60,411.15) rotate(-90)" x="0" y="0" style="font-size:27px">Tumor size (mm<tspan dy="-10" style="font-size:16.7px">2</tspan><tspan dy="10">)</tspan></text>
<line x1="1825.74" y1="384.00" x2="1825.74" y2="375.80" stroke="#000" stroke-width="2.4" stroke-linecap="butt"/>
<line x1="1821.14" y1="375.80" x2="1830.34" y2="375.80" stroke="#000" stroke-width="2.6" stroke-linecap="butt"/>
<line x1="1876.38" y1="367.00" x2="1876.38" y2="359.50" stroke="#000" stroke-width="2.4" stroke-linecap="butt"/>
<line x1="1871.78" y1="359.50" x2="1880.98" y2="359.50" stroke="#000" stroke-width="2.6" stroke-linecap="butt"/>
<line x1="1927.02" y1="342.00" x2="1927.02" y2="330.80" stroke="#000" stroke-width="2.4" stroke-linecap="butt"/>
<line x1="1922.42" y1="330.80" x2="1931.62" y2="330.80" stroke="#000" stroke-width="2.6" stroke-linecap="butt"/>
<line x1="1977.66" y1="303.00" x2="1977.66" y2="286.80" stroke="#000" stroke-width="2.4" stroke-linecap="butt"/>
<line x1="1973.06" y1="286.80" x2="1982.26" y2="286.80" stroke="#000" stroke-width="2.6" stroke-linecap="butt"/>
<line x1="1977.66" y1="315.00" x2="1977.66" y2="296.40" stroke="#000" stroke-width="2.4" stroke-linecap="butt"/>
<line x1="1973.06" y1="296.40" x2="1982.26" y2="296.40" stroke="#000" stroke-width="2.6" stroke-linecap="butt"/>
<line x1="2028.30" y1="262.00" x2="2028.30" y2="226.50" stroke="#000" stroke-width="2.4" stroke-linecap="butt"/>
<line x1="2023.70" y1="226.50" x2="2032.90" y2="226.50" stroke="#000" stroke-width="2.6" stroke-linecap="butt"/>
<line x1="2028.30" y1="266.00" x2="2028.30" y2="241.80" stroke="#000" stroke-width="2.4" stroke-linecap="butt"/>
<line x1="2023.70" y1="241.80" x2="2032.90" y2="241.80" stroke="#000" stroke-width="2.6" stroke-linecap="butt"/>
<line x1="2028.30" y1="282.00" x2="2028.30" y2="245.70" stroke="#000" stroke-width="2.4" stroke-linecap="butt"/>
<line x1="2023.70" y1="245.70" x2="2032.90" y2="245.70" stroke="#000" stroke-width="2.6" stroke-linecap="butt"/>
<line x1="2078.94" y1="213.00" x2="2078.94" y2="159.60" stroke="#000" stroke-width="2.4" stroke-linecap="butt"/>
<line x1="2074.34" y1="159.60" x2="2083.54" y2="159.60" stroke="#000" stroke-width="2.6" stroke-linecap="butt"/>
<line x1="2078.94" y1="200.00" x2="2078.94" y2="181.60" stroke="#000" stroke-width="2.4" stroke-linecap="butt"/>
<line x1="2074.34" y1="181.60" x2="2083.54" y2="181.60" stroke="#000" stroke-width="2.6" stroke-linecap="butt"/>
<line x1="2078.94" y1="235.00" x2="2078.94" y2="189.20" stroke="#000" stroke-width="2.4" stroke-linecap="butt"/>
<line x1="2074.34" y1="189.20" x2="2083.54" y2="189.20" stroke="#000" stroke-width="2.6" stroke-linecap="butt"/>
<line x1="1977.66" y1="360.00" x2="1977.66" y2="345.20" stroke="#000" stroke-width="2.4" stroke-linecap="butt"/>
<line x1="1973.06" y1="345.20" x2="1982.26" y2="345.20" stroke="#000" stroke-width="2.6" stroke-linecap="butt"/>
<line x1="2028.30" y1="346.00" x2="2028.30" y2="327.90" stroke="#000" stroke-width="2.4" stroke-linecap="butt"/>
<line x1="2023.70" y1="327.90" x2="2032.90" y2="327.90" stroke="#000" stroke-width="2.6" stroke-linecap="butt"/>
<line x1="2078.94" y1="322.00" x2="2078.94" y2="294.40" stroke="#000" stroke-width="2.4" stroke-linecap="butt"/>
<line x1="2074.34" y1="294.40" x2="2083.54" y2="294.40" stroke="#000" stroke-width="2.6" stroke-linecap="butt"/>
<polyline points="1690.70,444.80 1825.74,387.20 1876.38,382.50 1927.02,375.80 1977.66,360.50 2028.30,346.10 2078.94,322.20" fill="none" stroke="#000" stroke-width="2.3" stroke-linejoin="round"/>
<polyline points="1690.70,444.80 1825.74,385.30 1876.38,375.80 1927.02,357.60 1977.66,323.10 2028.30,282.00 2078.94,235.10" fill="none" stroke="#000" stroke-width="2.3" stroke-linejoin="round"/>
<polyline points="1690.70,444.80 1825.74,384.40 1876.38,370.00 1927.02,351.80 1977.66,315.50 2028.30,266.70 2078.94,200.70" fill="none" stroke="#000" stroke-width="2.8" stroke-linejoin="round"/>
<polyline points="1690.70,444.80 1825.74,387.20 1876.38,367.20 1927.02,342.30 1977.66,303.10 2028.30,261.90 2078.94,213.10" fill="none" stroke="#000" stroke-width="2.8" stroke-linejoin="round"/>
<circle cx="1825.74" cy="387.20" r="3.6" fill="#fff" stroke="#000" stroke-width="2.1"/>
<circle cx="1876.38" cy="382.50" r="3.6" fill="#fff" stroke="#000" stroke-width="2.1"/>
<circle cx="1927.02" cy="375.80" r="3.6" fill="#fff" stroke="#000" stroke-width="2.1"/>
<circle cx="1977.66" cy="360.50" r="3.6" fill="#fff" stroke="#000" stroke-width="2.1"/>
<circle cx="2028.30" cy="346.10" r="3.6" fill="#fff" stroke="#000" stroke-width="2.1"/>
<circle cx="2078.94" cy="322.20" r="3.6" fill="#fff" stroke="#000" stroke-width="2.1"/>
<rect x="1821.94" y="381.50" width="7.60" height="7.60" fill="#fff" stroke="#000" stroke-width="2.1"/>
<rect x="1872.58" y="372.00" width="7.60" height="7.60" fill="#fff" stroke="#000" stroke-width="2.1"/>
<rect x="1923.22" y="353.80" width="7.60" height="7.60" fill="#fff" stroke="#000" stroke-width="2.1"/>
<rect x="1973.86" y="319.30" width="7.60" height="7.60" fill="#fff" stroke="#000" stroke-width="2.1"/>
<rect x="2024.50" y="278.20" width="7.60" height="7.60" fill="#fff" stroke="#000" stroke-width="2.1"/>
<rect x="2075.14" y="231.30" width="7.60" height="7.60" fill="#fff" stroke="#000" stroke-width="2.1"/>
<rect x="1821.54" y="380.20" width="8.40" height="8.40" fill="#000"/>
<rect x="1872.18" y="365.80" width="8.40" height="8.40" fill="#000"/>
<rect x="1922.82" y="347.60" width="8.40" height="8.40" fill="#000"/>
<rect x="1973.46" y="311.30" width="8.40" height="8.40" fill="#000"/>
<rect x="2024.10" y="262.50" width="8.40" height="8.40" fill="#000"/>
<rect x="2074.74" y="196.50" width="8.40" height="8.40" fill="#000"/>
<circle cx="1825.74" cy="387.20" r="4.4" fill="#000"/>
<circle cx="1876.38" cy="367.20" r="4.4" fill="#000"/>
<circle cx="1927.02" cy="342.30" r="4.4" fill="#000"/>
<circle cx="1977.66" cy="303.10" r="4.4" fill="#000"/>
<circle cx="2028.30" cy="261.90" r="4.4" fill="#000"/>
<circle cx="2078.94" cy="213.10" r="4.4" fill="#000"/>
<rect x="1685.70" y="439.80" width="10" height="10" fill="#000"/>
<line x1="1696.50" y1="34.80" x2="1742.00" y2="34.80" stroke="#000" stroke-width="2.6" stroke-linecap="butt"/>
<circle cx="1719.30" cy="34.80" r="4.4" fill="#000"/>
<text x="1768.50" y="45.90" style="font-size:27px"><tspan style="font-style:italic">Pten</tspan><tspan dy="-8.5" style="font-size:17.5px;font-style:italic">f/f</tspan><tspan dy="8.5"> + PBS</tspan></text>
<line x1="1696.50" y1="69.30" x2="1742.00" y2="69.30" stroke="#000" stroke-width="2.6" stroke-linecap="butt"/>
<circle cx="1719.30" cy="69.30" r="3.6" fill="#fff" stroke="#000" stroke-width="2.1"/>
<text x="1768.50" y="77.50" style="font-size:27px"><tspan style="font-style:italic">Pten</tspan><tspan dy="-8.5" style="font-size:17.5px;font-style:italic">f/f</tspan><tspan dy="8.5"> + MTX</tspan></text>
<line x1="1696.50" y1="99.60" x2="1742.00" y2="99.60" stroke="#000" stroke-width="2.6" stroke-linecap="butt"/>
<rect x="1715.10" y="95.40" width="8.40" height="8.40" fill="#000"/>
<text x="1768.50" y="108.60" style="font-size:27px"><tspan style="font-style:italic">Pten</tspan><tspan dy="-8.5" style="font-size:17.5px;font-style:italic">mKO</tspan><tspan dy="8.5"> + PBS</tspan></text>
<line x1="1696.50" y1="133.90" x2="1742.00" y2="133.90" stroke="#000" stroke-width="2.6" stroke-linecap="butt"/>
<rect x="1715.50" y="130.10" width="7.60" height="7.60" fill="#fff" stroke="#000" stroke-width="2.1"/>
<text x="1768.50" y="139.80" style="font-size:27px"><tspan style="font-style:italic">Pten</tspan><tspan dy="-8.5" style="font-size:17.5px;font-style:italic">mKO</tspan><tspan dy="8.5"> + MTX</tspan></text>
<line x1="1956.60" y1="28.70" x2="1956.60" y2="79.10" stroke="#000" stroke-width="2.4" stroke-linecap="butt"/>
<line x1="1956.60" y1="95.00" x2="1956.60" y2="145.40" stroke="#000" stroke-width="2.4" stroke-linecap="butt"/>
<line x1="2001.20" y1="28.70" x2="2001.20" y2="104.60" stroke="#000" stroke-width="2.4" stroke-linecap="butt"/>
<line x1="2046.20" y1="69.50" x2="2046.20" y2="145.40" stroke="#000" stroke-width="2.4" stroke-linecap="butt"/>
<text transform="translate(1969.30,-2.75) rotate(90)" x="0" y="0" style="font-size:21.2px">P=0.0038 P=0.5914</text>
<text transform="translate(2014.60,25.65) rotate(90)" x="0" y="0" style="font-size:21.2px">P=0.8907</text>
<text transform="translate(2058.00,64.55) rotate(90)" x="0" y="0" style="font-size:21.2px">P=0.0227</text>
<text x="-0.40" y="566.50" style="font-size:40px;font-weight:bold" fill="#000">e</text>
<line x1="127.20" y1="697.40" x2="127.20" y2="1003.20" stroke="#000" stroke-width="4.3" stroke-linecap="butt"/>
<line x1="114.70" y1="991.20" x2="550.45" y2="991.20" stroke="#000" stroke-width="4.0" stroke-linecap="butt"/>
<line x1="114.70" y1="991.20" x2="127.20" y2="991.20" stroke="#000" stroke-width="3.2" stroke-linecap="butt"/>
<text x="89.77" y="1004.70" style="font-size:27.5px" fill="#000">0</text>
<line x1="114.70" y1="917.90" x2="127.20" y2="917.90" stroke="#000" stroke-width="3.2" stroke-linecap="butt"/>
<text x="74.51" y="931.40" style="font-size:27.5px" fill="#000">50</text>
<line x1="114.70" y1="845.30" x2="127.20" y2="845.30" stroke="#000" stroke-width="3.2" stroke-linecap="butt"/>
<text x="59.18" y="858.80" style="font-size:27.5px" fill="#000">100</text>
<line x1="114.70" y1="772.00" x2="127.20" y2="772.00" stroke="#000" stroke-width="3.2" stroke-linecap="butt"/>
<text x="59.18" y="785.50" style="font-size:27.5px" fill="#000">150</text>
<line x1="114.70" y1="698.90" x2="127.20" y2="698.90" stroke="#000" stroke-width="3.2" stroke-linecap="butt"/>
<text x="59.18" y="712.40" style="font-size:27.5px" fill="#000">200</text>
<line x1="127.20" y1="991.20" x2="127.20" y2="1003.20" stroke="#000" stroke-width="3.2" stroke-linecap="butt"/>
<text x="122.51" y="1032.80" style="font-size:26.5px" fill="#000">0</text>
<line x1="211.55" y1="991.20" x2="211.55" y2="1003.20" stroke="#000" stroke-width="3.2" stroke-linecap="butt"/>
<text x="204.95" y="1032.80" style="font-size:26.5px" fill="#000">5</text>
<line x1="295.90" y1="991.20" x2="295.90" y2="1003.20" stroke="#000" stroke-width="3.2" stroke-linecap="butt"/>
<text x="287.10" y="1032.80" style="font-size:26.5px" fill="#000">10</text>
<line x1="380.25" y1="991.20" x2="380.25" y2="1003.20" stroke="#000" stroke-width="3.2" stroke-linecap="butt"/>
<text x="368.83" y="1032.80" style="font-size:26.5px" fill="#000">15</text>
<line x1="464.60" y1="991.20" x2="464.60" y2="1003.20" stroke="#000" stroke-width="3.2" stroke-linecap="butt"/>
<text x="450.53" y="1032.80" style="font-size:26.5px" fill="#000">20</text>
<line x1="548.95" y1="991.20" x2="548.95" y2="1003.20" stroke="#000" stroke-width="3.2" stroke-linecap="butt"/>
<text x="533.76" y="1032.80" style="font-size:26.5px" fill="#000">25</text>
<text x="299.39" y="1068.50" style="font-size:27px" fill="#000">Time (d)</text>
<text transform="translate(41.00,957.15) rotate(-90)" x="0" y="0" style="font-size:27px">Tumor size (mm<tspan dy="-10" style="font-size:16.7px">2</tspan><tspan dy="10">)</tspan></text>
<line x1="228.42" y1="946.00" x2="228.42" y2="926.30" stroke="#000" stroke-width="2.4" stroke-linecap="butt"/>
<line x1="223.82" y1="926.30" x2="233.02" y2="926.30" stroke="#000" stroke-width="2.6" stroke-linecap="butt"/>
<line x1="228.42" y1="947.00" x2="228.42" y2="934.30" stroke="#000" stroke-width="2.4" stroke-linecap="butt"/>
<line x1="223.82" y1="934.30" x2="233.02" y2="934.30" stroke="#000" stroke-width="2.6" stroke-linecap="butt"/>
<line x1="279.03" y1="918.00" x2="279.03" y2="897.70" stroke="#000" stroke-width="2.4" stroke-linecap="butt"/>
<line x1="274.43" y1="897.70" x2="283.63" y2="897.70" stroke="#000" stroke-width="2.6" stroke-linecap="butt"/>
<line x1="279.03" y1="921.00" x2="279.03" y2="903.90" stroke="#000" stroke-width="2.4" stroke-linecap="butt"/>
<line x1="274.43" y1="903.90" x2="283.63" y2="903.90" stroke="#000" stroke-width="2.6" stroke-linecap="butt"/>
<line x1="279.03" y1="927.00" x2="279.03" y2="911.00" stroke="#000" stroke-width="2.4" stroke-linecap="butt"/>
<line x1="274.43" y1="911.00" x2="283.63" y2="911.00" stroke="#000" stroke-width="2.6" stroke-linecap="butt"/>
<line x1="329.64" y1="894.00" x2="329.64" y2="873.60" stroke="#000" stroke-width="2.4" stroke-linecap="butt"/>
<line x1="325.04" y1="873.60" x2="334.24" y2="873.60" stroke="#000" stroke-width="2.6" stroke-linecap="butt"/>
<line x1="329.64" y1="894.00" x2="329.64" y2="876.30" stroke="#000" stroke-width="2.4" stroke-linecap="butt"/>
<line x1="325.04" y1="876.30" x2="334.24" y2="876.30" stroke="#000" stroke-width="2.6" stroke-linecap="butt"/>
<line x1="329.64" y1="902.00" x2="329.64" y2="880.70" stroke="#000" stroke-width="2.4" stroke-linecap="butt"/>
<line x1="325.04" y1="880.70" x2="334.24" y2="880.70" stroke="#000" stroke-width="2.6" stroke-linecap="butt"/>
<line x1="380.25" y1="861.00" x2="380.25" y2="843.20" stroke="#000" stroke-width="2.4" stroke-linecap="butt"/>
<line x1="375.65" y1="843.20" x2="384.85" y2="843.20" stroke="#000" stroke-width="2.6" stroke-linecap="butt"/>
<line x1="380.25" y1="863.00" x2="380.25" y2="849.50" stroke="#000" stroke-width="2.4" stroke-linecap="butt"/>
<line x1="375.65" y1="849.50" x2="384.85" y2="849.50" stroke="#000" stroke-width="2.6" stroke-linecap="butt"/>
<line x1="380.25" y1="874.00" x2="380.25" y2="854.80" stroke="#000" stroke-width="2.4" stroke-linecap="butt"/>
<line x1="375.65" y1="854.80" x2="384.85" y2="854.80" stroke="#000" stroke-width="2.6" stroke-linecap="butt"/>
<line x1="430.86" y1="819.00" x2="430.86" y2="795.00" stroke="#000" stroke-width="2.4" stroke-linecap="butt"/>
<line x1="426.26" y1="795.00" x2="435.46" y2="795.00" stroke="#000" stroke-width="2.6" stroke-linecap="butt"/>
<line x1="481.47" y1="769.00" x2="481.47" y2="728.00" stroke="#000" stroke-width="2.4" stroke-linecap="butt"/>
<line x1="476.87" y1="728.00" x2="486.07" y2="728.00" stroke="#000" stroke-width="2.6" stroke-linecap="butt"/>
<line x1="380.25" y1="912.00" x2="380.25" y2="888.80" stroke="#000" stroke-width="2.4" stroke-linecap="butt"/>
<line x1="375.65" y1="888.80" x2="384.85" y2="888.80" stroke="#000" stroke-width="2.6" stroke-linecap="butt"/>
<line x1="430.86" y1="901.00" x2="430.86" y2="872.10" stroke="#000" stroke-width="2.4" stroke-linecap="butt"/>
<line x1="426.26" y1="872.10" x2="435.46" y2="872.10" stroke="#000" stroke-width="2.6" stroke-linecap="butt"/>
<line x1="481.47" y1="894.00" x2="481.47" y2="873.20" stroke="#000" stroke-width="2.4" stroke-linecap="butt"/>
<line x1="476.87" y1="873.20" x2="486.07" y2="873.20" stroke="#000" stroke-width="2.6" stroke-linecap="butt"/>
<polyline points="127.20,991.20 228.42,947.70 279.03,932.10 329.64,920.40 380.25,912.00 430.86,901.30 481.47,894.10" fill="none" stroke="#000" stroke-width="2.3" stroke-linejoin="round"/>
<polyline points="127.20,991.20 228.42,950.40 279.03,927.10 329.64,902.50 380.25,874.50 430.86,845.00 481.47,812.00" fill="none" stroke="#000" stroke-width="2.3" stroke-linejoin="round"/>
<polyline points="127.20,991.20 228.42,946.80 279.03,920.90 329.64,894.10 380.25,862.90 430.86,832.10 481.47,787.50" fill="none" stroke="#000" stroke-width="2.8" stroke-linejoin="round"/>
<polyline points="127.20,991.20 228.42,945.90 279.03,918.20 329.64,894.10 380.25,861.10 430.86,819.10 481.47,769.10" fill="none" stroke="#000" stroke-width="2.8" stroke-linejoin="round"/>
<circle cx="228.42" cy="947.70" r="3.6" fill="#fff" stroke="#000" stroke-width="2.1"/>
<circle cx="279.03" cy="932.10" r="3.6" fill="#fff" stroke="#000" stroke-width="2.1"/>
<circle cx="329.64" cy="920.40" r="3.6" fill="#fff" stroke="#000" stroke-width="2.1"/>
<circle cx="380.25" cy="912.00" r="3.6" fill="#fff" stroke="#000" stroke-width="2.1"/>
<circle cx="430.86" cy="901.30" r="3.6" fill="#fff" stroke="#000" stroke-width="2.1"/>
<circle cx="481.47" cy="894.10" r="3.6" fill="#fff" stroke="#000" stroke-width="2.1"/>
<rect x="224.62" y="946.60" width="7.60" height="7.60" fill="#fff" stroke="#000" stroke-width="2.1"/>
<rect x="275.23" y="923.30" width="7.60" height="7.60" fill="#fff" stroke="#000" stroke-width="2.1"/>
<rect x="325.84" y="898.70" width="7.60" height="7.60" fill="#fff" stroke="#000" stroke-width="2.1"/>
<rect x="376.45" y="870.70" width="7.60" height="7.60" fill="#fff" stroke="#000" stroke-width="2.1"/>
<rect x="427.06" y="841.20" width="7.60" height="7.60" fill="#fff" stroke="#000" stroke-width="2.1"/>
<rect x="477.67" y="808.20" width="7.60" height="7.60" fill="#fff" stroke="#000" stroke-width="2.1"/>
<rect x="224.22" y="942.60" width="8.40" height="8.40" fill="#000"/>
<rect x="274.83" y="916.70" width="8.40" height="8.40" fill="#000"/>
<rect x="325.44" y="889.90" width="8.40" height="8.40" fill="#000"/>
<rect x="376.05" y="858.70" width="8.40" height="8.40" fill="#000"/>
<rect x="426.66" y="827.90" width="8.40" height="8.40" fill="#000"/>
<rect x="477.27" y="783.30" width="8.40" height="8.40" fill="#000"/>
<circle cx="228.42" cy="945.90" r="4.4" fill="#000"/>
<circle cx="279.03" cy="918.20" r="4.4" fill="#000"/>
<circle cx="329.64" cy="894.10" r="4.4" fill="#000"/>
<circle cx="380.25" cy="861.10" r="4.4" fill="#000"/>
<circle cx="430.86" cy="819.10" r="4.4" fill="#000"/>
<circle cx="481.47" cy="769.10" r="4.4" fill="#000"/>
<rect x="122.20" y="986.20" width="10" height="10" fill="#000"/>
<line x1="132.90" y1="581.00" x2="177.50" y2="581.00" stroke="#000" stroke-width="2.6" stroke-linecap="butt"/>
<circle cx="155.40" cy="581.00" r="4.4" fill="#000"/>
<text x="208.00" y="589.00" style="font-size:27px"><tspan style="font-style:italic">Pten</tspan><tspan dy="-8.5" style="font-size:17.5px;font-style:italic">f/f</tspan><tspan dy="8.5"> + PBS</tspan></text>
<line x1="132.90" y1="615.70" x2="177.50" y2="615.70" stroke="#000" stroke-width="2.6" stroke-linecap="butt"/>
<circle cx="155.40" cy="615.70" r="3.6" fill="#fff" stroke="#000" stroke-width="2.1"/>
<text x="208.00" y="622.00" style="font-size:27px"><tspan style="font-style:italic">Pten</tspan><tspan dy="-8.5" style="font-size:17.5px;font-style:italic">f/f</tspan><tspan dy="8.5"> + MTX</tspan></text>
<line x1="132.90" y1="649.60" x2="177.50" y2="649.60" stroke="#000" stroke-width="2.6" stroke-linecap="butt"/>
<rect x="151.20" y="645.40" width="8.40" height="8.40" fill="#000"/>
<text x="208.00" y="655.00" style="font-size:27px"><tspan style="font-style:italic">Pten</tspan><tspan dy="-8.5" style="font-size:17.5px;font-style:italic">mKO</tspan><tspan dy="8.5"> + PBS</tspan></text>
<line x1="132.90" y1="680.00" x2="177.50" y2="680.00" stroke="#000" stroke-width="2.6" stroke-linecap="butt"/>
<rect x="151.60" y="676.20" width="7.60" height="7.60" fill="#fff" stroke="#000" stroke-width="2.1"/>
<text x="208.00" y="687.00" style="font-size:27px"><tspan style="font-style:italic">Pten</tspan><tspan dy="-8.5" style="font-size:17.5px;font-style:italic">mKO</tspan><tspan dy="8.5"> + MTX</tspan></text>
<line x1="398.90" y1="570.00" x2="398.90" y2="618.60" stroke="#000" stroke-width="2.4" stroke-linecap="butt"/>
<line x1="398.90" y1="637.00" x2="398.90" y2="687.00" stroke="#000" stroke-width="2.4" stroke-linecap="butt"/>
<line x1="438.60" y1="569.00" x2="438.60" y2="644.00" stroke="#000" stroke-width="2.4" stroke-linecap="butt"/>
<line x1="479.60" y1="614.60" x2="479.60" y2="689.00" stroke="#000" stroke-width="2.4" stroke-linecap="butt"/>
<text transform="translate(414.30,533.65) rotate(90)" x="0" y="0" style="font-size:21.2px">P=0.0028 P=0.5242</text>
<text transform="translate(453.60,563.95) rotate(90)" x="0" y="0" style="font-size:21.2px">P=0.7519</text>
<text transform="translate(492.90,605.05) rotate(90)" x="0" y="0" style="font-size:21.2px">P=0.0226</text>
<text x="587.60" y="566.00" style="font-size:40px;font-weight:bold" fill="#000">f</text>
<line x1="729.40" y1="697.50" x2="729.40" y2="1003.20" stroke="#000" stroke-width="4.3" stroke-linecap="butt"/>
<line x1="716.90" y1="991.20" x2="1152.40" y2="991.20" stroke="#000" stroke-width="4.0" stroke-linecap="butt"/>
<line x1="716.90" y1="991.20" x2="729.40" y2="991.20" stroke="#000" stroke-width="3.2" stroke-linecap="butt"/>
<text x="688.77" y="1005.20" style="font-size:27.5px" fill="#000">0</text>
<line x1="716.90" y1="893.70" x2="729.40" y2="893.70" stroke="#000" stroke-width="3.2" stroke-linecap="butt"/>
<text x="658.17" y="907.70" style="font-size:27.5px" fill="#000">100</text>
<line x1="716.90" y1="796.40" x2="729.40" y2="796.40" stroke="#000" stroke-width="3.2" stroke-linecap="butt"/>
<text x="658.17" y="810.40" style="font-size:27.5px" fill="#000">200</text>
<line x1="716.90" y1="699.00" x2="729.40" y2="699.00" stroke="#000" stroke-width="3.2" stroke-linecap="butt"/>
<text x="658.17" y="713.00" style="font-size:27.5px" fill="#000">300</text>
<line x1="729.40" y1="991.20" x2="729.40" y2="1003.20" stroke="#000" stroke-width="3.2" stroke-linecap="butt"/>
<text x="721.41" y="1034.60" style="font-size:26.5px" fill="#000">0</text>
<line x1="813.70" y1="991.20" x2="813.70" y2="1003.20" stroke="#000" stroke-width="3.2" stroke-linecap="butt"/>
<text x="803.85" y="1034.60" style="font-size:26.5px" fill="#000">5</text>
<line x1="898.00" y1="991.20" x2="898.00" y2="1003.20" stroke="#000" stroke-width="3.2" stroke-linecap="butt"/>
<text x="885.90" y="1034.60" style="font-size:26.5px" fill="#000">10</text>
<line x1="982.30" y1="991.20" x2="982.30" y2="1003.20" stroke="#000" stroke-width="3.2" stroke-linecap="butt"/>
<text x="967.83" y="1034.60" style="font-size:26.5px" fill="#000">15</text>
<line x1="1066.60" y1="991.20" x2="1066.60" y2="1003.20" stroke="#000" stroke-width="3.2" stroke-linecap="butt"/>
<text x="1049.43" y="1034.60" style="font-size:26.5px" fill="#000">20</text>
<line x1="1150.90" y1="991.20" x2="1150.90" y2="1003.20" stroke="#000" stroke-width="3.2" stroke-linecap="butt"/>
<text x="1110.06" y="1034.60" style="font-size:26.5px" fill="#000">25</text>
<text x="897.79" y="1071.20" style="font-size:27px" fill="#000">Time (d)</text>
<text transform="translate(640.50,962.15) rotate(-90)" x="0" y="0" style="font-size:27px">Tumor size (mm<tspan dy="-10" style="font-size:16.7px">2</tspan><tspan dy="10">)</tspan></text>
<line x1="830.56" y1="945.00" x2="830.56" y2="934.40" stroke="#000" stroke-width="2.4" stroke-linecap="butt"/>
<line x1="825.96" y1="934.40" x2="835.16" y2="934.40" stroke="#000" stroke-width="2.6" stroke-linecap="butt"/>
<line x1="830.56" y1="947.00" x2="830.56" y2="940.10" stroke="#000" stroke-width="2.4" stroke-linecap="butt"/>
<line x1="825.96" y1="940.10" x2="835.16" y2="940.10" stroke="#000" stroke-width="2.6" stroke-linecap="butt"/>
<line x1="881.14" y1="919.00" x2="881.14" y2="908.50" stroke="#000" stroke-width="2.4" stroke-linecap="butt"/>
<line x1="876.54" y1="908.50" x2="885.74" y2="908.50" stroke="#000" stroke-width="2.6" stroke-linecap="butt"/>
<line x1="931.72" y1="873.00" x2="931.72" y2="844.50" stroke="#000" stroke-width="2.4" stroke-linecap="butt"/>
<line x1="927.12" y1="844.50" x2="936.32" y2="844.50" stroke="#000" stroke-width="2.6" stroke-linecap="butt"/>
<line x1="931.72" y1="886.00" x2="931.72" y2="866.50" stroke="#000" stroke-width="2.4" stroke-linecap="butt"/>
<line x1="927.12" y1="866.50" x2="936.32" y2="866.50" stroke="#000" stroke-width="2.6" stroke-linecap="butt"/>
<line x1="982.30" y1="831.00" x2="982.30" y2="799.50" stroke="#000" stroke-width="2.4" stroke-linecap="butt"/>
<line x1="977.70" y1="799.50" x2="986.90" y2="799.50" stroke="#000" stroke-width="2.6" stroke-linecap="butt"/>
<line x1="982.30" y1="842.00" x2="982.30" y2="817.70" stroke="#000" stroke-width="2.4" stroke-linecap="butt"/>
<line x1="977.70" y1="817.70" x2="986.90" y2="817.70" stroke="#000" stroke-width="2.6" stroke-linecap="butt"/>
<line x1="1032.88" y1="785.00" x2="1032.88" y2="764.10" stroke="#000" stroke-width="2.4" stroke-linecap="butt"/>
<line x1="1028.28" y1="764.10" x2="1037.48" y2="764.10" stroke="#000" stroke-width="2.6" stroke-linecap="butt"/>
<line x1="1032.88" y1="806.00" x2="1032.88" y2="770.80" stroke="#000" stroke-width="2.4" stroke-linecap="butt"/>
<line x1="1028.28" y1="770.80" x2="1037.48" y2="770.80" stroke="#000" stroke-width="2.6" stroke-linecap="butt"/>
<line x1="1032.88" y1="826.00" x2="1032.88" y2="794.70" stroke="#000" stroke-width="2.4" stroke-linecap="butt"/>
<line x1="1028.28" y1="794.70" x2="1037.48" y2="794.70" stroke="#000" stroke-width="2.6" stroke-linecap="butt"/>
<line x1="1083.46" y1="733.00" x2="1083.46" y2="717.20" stroke="#000" stroke-width="2.4" stroke-linecap="butt"/>
<line x1="1078.86" y1="717.20" x2="1088.06" y2="717.20" stroke="#000" stroke-width="2.6" stroke-linecap="butt"/>
<line x1="1083.46" y1="764.00" x2="1083.46" y2="746.90" stroke="#000" stroke-width="2.4" stroke-linecap="butt"/>
<line x1="1078.86" y1="746.90" x2="1088.06" y2="746.90" stroke="#000" stroke-width="2.6" stroke-linecap="butt"/>
<line x1="931.72" y1="923.00" x2="931.72" y2="908.50" stroke="#000" stroke-width="2.4" stroke-linecap="butt"/>
<line x1="927.12" y1="908.50" x2="936.32" y2="908.50" stroke="#000" stroke-width="2.6" stroke-linecap="butt"/>
<line x1="982.30" y1="907.00" x2="982.30" y2="883.70" stroke="#000" stroke-width="2.4" stroke-linecap="butt"/>
<line x1="977.70" y1="883.70" x2="986.90" y2="883.70" stroke="#000" stroke-width="2.6" stroke-linecap="butt"/>
<line x1="1032.88" y1="891.00" x2="1032.88" y2="864.90" stroke="#000" stroke-width="2.4" stroke-linecap="butt"/>
<line x1="1028.28" y1="864.90" x2="1037.48" y2="864.90" stroke="#000" stroke-width="2.6" stroke-linecap="butt"/>
<line x1="1083.46" y1="868.00" x2="1083.46" y2="832.60" stroke="#000" stroke-width="2.4" stroke-linecap="butt"/>
<line x1="1078.86" y1="832.60" x2="1088.06" y2="832.60" stroke="#000" stroke-width="2.6" stroke-linecap="butt"/>
<polyline points="729.40,991.20 830.56,953.50 881.14,940.10 931.72,922.90 982.30,907.60 1032.88,891.00 1083.46,868.70" fill="none" stroke="#000" stroke-width="2.3" stroke-linejoin="round"/>
<polyline points="729.40,991.20 830.56,948.70 881.14,925.80 931.72,886.50 982.30,855.90 1032.88,826.30 1083.46,775.60" fill="none" stroke="#000" stroke-width="2.3" stroke-linejoin="round"/>
<polyline points="729.40,991.20 830.56,946.80 881.14,929.60 931.72,886.50 982.30,842.50 1032.88,806.20 1083.46,764.10" fill="none" stroke="#000" stroke-width="2.8" stroke-linejoin="round"/>
<polyline points="729.40,991.20 830.56,944.90 881.14,919.10 931.72,873.10 982.30,831.10 1032.88,785.10 1083.46,733.50" fill="none" stroke="#000" stroke-width="2.8" stroke-linejoin="round"/>
<circle cx="830.56" cy="953.50" r="3.6" fill="#fff" stroke="#000" stroke-width="2.1"/>
<circle cx="881.14" cy="940.10" r="3.6" fill="#fff" stroke="#000" stroke-width="2.1"/>
<circle cx="931.72" cy="922.90" r="3.6" fill="#fff" stroke="#000" stroke-width="2.1"/>
<circle cx="982.30" cy="907.60" r="3.6" fill="#fff" stroke="#000" stroke-width="2.1"/>
<circle cx="1032.88" cy="891.00" r="3.6" fill="#fff" stroke="#000" stroke-width="2.1"/>
<circle cx="1083.46" cy="868.70" r="3.6" fill="#fff" stroke="#000" stroke-width="2.1"/>
<rect x="826.76" y="944.90" width="7.60" height="7.60" fill="#fff" stroke="#000" stroke-width="2.1"/>
<rect x="877.34" y="922.00" width="7.60" height="7.60" fill="#fff" stroke="#000" stroke-width="2.1"/>
<rect x="927.92" y="882.70" width="7.60" height="7.60" fill="#fff" stroke="#000" stroke-width="2.1"/>
<rect x="978.50" y="852.10" width="7.60" height="7.60" fill="#fff" stroke="#000" stroke-width="2.1"/>
<rect x="1029.08" y="822.50" width="7.60" height="7.60" fill="#fff" stroke="#000" stroke-width="2.1"/>
<rect x="1079.66" y="771.80" width="7.60" height="7.60" fill="#fff" stroke="#000" stroke-width="2.1"/>
<circle cx="830.56" cy="946.80" r="4.4" fill="#000"/>
<circle cx="881.14" cy="929.60" r="4.4" fill="#000"/>
<circle cx="931.72" cy="886.50" r="4.4" fill="#000"/>
<circle cx="982.30" cy="842.50" r="4.4" fill="#000"/>
<circle cx="1032.88" cy="806.20" r="4.4" fill="#000"/>
<circle cx="1083.46" cy="764.10" r="4.4" fill="#000"/>
<rect x="826.36" y="940.70" width="8.40" height="8.40" fill="#000"/>
<rect x="876.94" y="914.90" width="8.40" height="8.40" fill="#000"/>
<rect x="927.52" y="868.90" width="8.40" height="8.40" fill="#000"/>
<rect x="978.10" y="826.90" width="8.40" height="8.40" fill="#000"/>
<rect x="1028.68" y="780.90" width="8.40" height="8.40" fill="#000"/>
<rect x="1079.26" y="729.30" width="8.40" height="8.40" fill="#000"/>
<rect x="724.40" y="986.20" width="10" height="10" fill="#000"/>
<line x1="735.40" y1="581.00" x2="780.70" y2="581.00" stroke="#000" stroke-width="2.6" stroke-linecap="butt"/>
<circle cx="758.60" cy="581.00" r="4.4" fill="#000"/>
<text x="808.00" y="590.70" style="font-size:27px"><tspan style="font-style:italic">Pten</tspan><tspan dy="-8.5" style="font-size:17.5px;font-style:italic">f/f</tspan><tspan dy="8.5"> + PBS</tspan></text>
<line x1="735.40" y1="615.70" x2="780.70" y2="615.70" stroke="#000" stroke-width="2.6" stroke-linecap="butt"/>
<circle cx="758.60" cy="615.70" r="3.6" fill="#fff" stroke="#000" stroke-width="2.1"/>
<text x="808.00" y="624.60" style="font-size:27px"><tspan style="font-style:italic">Pten</tspan><tspan dy="-8.5" style="font-size:17.5px;font-style:italic">f/f</tspan><tspan dy="8.5"> + OXP</tspan></text>
<line x1="735.40" y1="646.00" x2="780.70" y2="646.00" stroke="#000" stroke-width="2.6" stroke-linecap="butt"/>
<rect x="754.40" y="641.80" width="8.40" height="8.40" fill="#000"/>
<text x="808.00" y="656.80" style="font-size:27px"><tspan style="font-style:italic">Pten</tspan><tspan dy="-8.5" style="font-size:17.5px;font-style:italic">mKO</tspan><tspan dy="8.5"> + PBS</tspan></text>
<line x1="735.40" y1="680.00" x2="780.70" y2="680.00" stroke="#000" stroke-width="2.6" stroke-linecap="butt"/>
<rect x="754.80" y="676.20" width="7.60" height="7.60" fill="#fff" stroke="#000" stroke-width="2.1"/>
<text x="808.00" y="687.10" style="font-size:27px"><tspan style="font-style:italic">Pten</tspan><tspan dy="-8.5" style="font-size:17.5px;font-style:italic">mKO</tspan><tspan dy="8.5"> + OXP</tspan></text>
<line x1="999.60" y1="578.20" x2="999.60" y2="628.20" stroke="#000" stroke-width="2.4" stroke-linecap="butt"/>
<line x1="999.60" y1="647.90" x2="999.60" y2="697.90" stroke="#000" stroke-width="2.4" stroke-linecap="butt"/>
<line x1="1044.30" y1="578.00" x2="1044.30" y2="655.00" stroke="#000" stroke-width="2.4" stroke-linecap="butt"/>
<line x1="1088.90" y1="621.00" x2="1088.90" y2="697.90" stroke="#000" stroke-width="2.4" stroke-linecap="butt"/>
<text transform="translate(1013.90,540.75) rotate(90)" x="0" y="0" style="font-size:21.2px">P=0.0047</text>
<text transform="translate(1013.90,644.75) rotate(90)" x="0" y="0" style="font-size:21.2px">P=0.3373</text>
<text transform="translate(1062.00,565.75) rotate(90)" x="0" y="0" style="font-size:21.2px">P=0.5126</text>
<text transform="translate(1103.20,617.55) rotate(90)" x="0" y="0" style="font-size:21.2px">P=0.0111</text>
<text x="1212.60" y="566.70" style="font-size:40px;font-weight:bold" fill="#000">g</text>
<line x1="1348.50" y1="697.40" x2="1348.50" y2="1003.00" stroke="#000" stroke-width="4.3" stroke-linecap="butt"/>
<line x1="1336.00" y1="991.00" x2="1771.00" y2="991.00" stroke="#000" stroke-width="4.0" stroke-linecap="butt"/>
<line x1="1336.00" y1="991.00" x2="1348.50" y2="991.00" stroke="#000" stroke-width="3.2" stroke-linecap="butt"/>
<text x="1312.17" y="1006.70" style="font-size:27.5px" fill="#000">0</text>
<line x1="1336.00" y1="932.50" x2="1348.50" y2="932.50" stroke="#000" stroke-width="3.2" stroke-linecap="butt"/>
<text x="1296.91" y="948.20" style="font-size:27.5px" fill="#000">50</text>
<line x1="1336.00" y1="874.60" x2="1348.50" y2="874.60" stroke="#000" stroke-width="3.2" stroke-linecap="butt"/>
<text x="1281.58" y="890.30" style="font-size:27.5px" fill="#000">100</text>
<line x1="1336.00" y1="816.10" x2="1348.50" y2="816.10" stroke="#000" stroke-width="3.2" stroke-linecap="butt"/>
<text x="1281.58" y="831.80" style="font-size:27.5px" fill="#000">150</text>
<line x1="1336.00" y1="757.40" x2="1348.50" y2="757.40" stroke="#000" stroke-width="3.2" stroke-linecap="butt"/>
<text x="1281.58" y="773.10" style="font-size:27.5px" fill="#000">200</text>
<line x1="1336.00" y1="698.90" x2="1348.50" y2="698.90" stroke="#000" stroke-width="3.2" stroke-linecap="butt"/>
<text x="1281.58" y="714.60" style="font-size:27.5px" fill="#000">250</text>
<line x1="1348.50" y1="991.00" x2="1348.50" y2="1003.00" stroke="#000" stroke-width="3.2" stroke-linecap="butt"/>
<text x="1344.21" y="1034.60" style="font-size:26.5px" fill="#000">0</text>
<line x1="1432.70" y1="991.00" x2="1432.70" y2="1003.00" stroke="#000" stroke-width="3.2" stroke-linecap="butt"/>
<text x="1426.15" y="1034.60" style="font-size:26.5px" fill="#000">5</text>
<line x1="1516.90" y1="991.00" x2="1516.90" y2="1003.00" stroke="#000" stroke-width="3.2" stroke-linecap="butt"/>
<text x="1509.30" y="1034.60" style="font-size:26.5px" fill="#000">10</text>
<line x1="1601.10" y1="991.00" x2="1601.10" y2="1003.00" stroke="#000" stroke-width="3.2" stroke-linecap="butt"/>
<text x="1591.83" y="1034.60" style="font-size:26.5px" fill="#000">15</text>
<line x1="1685.30" y1="991.00" x2="1685.30" y2="1003.00" stroke="#000" stroke-width="3.2" stroke-linecap="butt"/>
<text x="1672.83" y="1034.60" style="font-size:26.5px" fill="#000">20</text>
<line x1="1769.50" y1="991.00" x2="1769.50" y2="1003.00" stroke="#000" stroke-width="3.2" stroke-linecap="butt"/>
<text x="1755.36" y="1034.60" style="font-size:26.5px" fill="#000">25</text>
<text x="1520.99" y="1071.20" style="font-size:27px" fill="#000">Time (d)</text>
<text transform="translate(1263.60,959.15) rotate(-90)" x="0" y="0" style="font-size:27px">Tumor size (mm<tspan dy="-10" style="font-size:16.7px">2</tspan><tspan dy="10">)</tspan></text>
<line x1="1449.54" y1="951.00" x2="1449.54" y2="944.00" stroke="#000" stroke-width="2.4" stroke-linecap="butt"/>
<line x1="1444.94" y1="944.00" x2="1454.14" y2="944.00" stroke="#000" stroke-width="2.6" stroke-linecap="butt"/>
<line x1="1500.06" y1="939.00" x2="1500.06" y2="923.80" stroke="#000" stroke-width="2.4" stroke-linecap="butt"/>
<line x1="1495.46" y1="923.80" x2="1504.66" y2="923.80" stroke="#000" stroke-width="2.6" stroke-linecap="butt"/>
<line x1="1500.06" y1="940.00" x2="1500.06" y2="928.60" stroke="#000" stroke-width="2.4" stroke-linecap="butt"/>
<line x1="1495.46" y1="928.60" x2="1504.66" y2="928.60" stroke="#000" stroke-width="2.6" stroke-linecap="butt"/>
<line x1="1550.58" y1="911.00" x2="1550.58" y2="894.20" stroke="#000" stroke-width="2.4" stroke-linecap="butt"/>
<line x1="1545.98" y1="894.20" x2="1555.18" y2="894.20" stroke="#000" stroke-width="2.6" stroke-linecap="butt"/>
<line x1="1550.58" y1="911.00" x2="1550.58" y2="899.00" stroke="#000" stroke-width="2.4" stroke-linecap="butt"/>
<line x1="1545.98" y1="899.00" x2="1555.18" y2="899.00" stroke="#000" stroke-width="2.6" stroke-linecap="butt"/>
<line x1="1550.58" y1="921.00" x2="1550.58" y2="900.90" stroke="#000" stroke-width="2.4" stroke-linecap="butt"/>
<line x1="1545.98" y1="900.90" x2="1555.18" y2="900.90" stroke="#000" stroke-width="2.6" stroke-linecap="butt"/>
<line x1="1601.10" y1="876.00" x2="1601.10" y2="857.80" stroke="#000" stroke-width="2.4" stroke-linecap="butt"/>
<line x1="1596.50" y1="857.80" x2="1605.70" y2="857.80" stroke="#000" stroke-width="2.6" stroke-linecap="butt"/>
<line x1="1601.10" y1="877.00" x2="1601.10" y2="860.70" stroke="#000" stroke-width="2.4" stroke-linecap="butt"/>
<line x1="1596.50" y1="860.70" x2="1605.70" y2="860.70" stroke="#000" stroke-width="2.6" stroke-linecap="butt"/>
<line x1="1601.10" y1="887.00" x2="1601.10" y2="865.50" stroke="#000" stroke-width="2.4" stroke-linecap="butt"/>
<line x1="1596.50" y1="865.50" x2="1605.70" y2="865.50" stroke="#000" stroke-width="2.6" stroke-linecap="butt"/>
<line x1="1651.62" y1="831.00" x2="1651.62" y2="805.20" stroke="#000" stroke-width="2.4" stroke-linecap="butt"/>
<line x1="1647.02" y1="805.20" x2="1656.22" y2="805.20" stroke="#000" stroke-width="2.6" stroke-linecap="butt"/>
<line x1="1651.62" y1="831.00" x2="1651.62" y2="811.00" stroke="#000" stroke-width="2.4" stroke-linecap="butt"/>
<line x1="1647.02" y1="811.00" x2="1656.22" y2="811.00" stroke="#000" stroke-width="2.6" stroke-linecap="butt"/>
<line x1="1651.62" y1="850.00" x2="1651.62" y2="819.60" stroke="#000" stroke-width="2.4" stroke-linecap="butt"/>
<line x1="1647.02" y1="819.60" x2="1656.22" y2="819.60" stroke="#000" stroke-width="2.6" stroke-linecap="butt"/>
<line x1="1702.14" y1="760.00" x2="1702.14" y2="731.60" stroke="#000" stroke-width="2.4" stroke-linecap="butt"/>
<line x1="1697.54" y1="731.60" x2="1706.74" y2="731.60" stroke="#000" stroke-width="2.6" stroke-linecap="butt"/>
<line x1="1702.14" y1="770.00" x2="1702.14" y2="744.00" stroke="#000" stroke-width="2.4" stroke-linecap="butt"/>
<line x1="1697.54" y1="744.00" x2="1706.74" y2="744.00" stroke="#000" stroke-width="2.6" stroke-linecap="butt"/>
<line x1="1702.14" y1="800.00" x2="1702.14" y2="760.00" stroke="#000" stroke-width="2.4" stroke-linecap="butt"/>
<line x1="1697.54" y1="760.00" x2="1706.74" y2="760.00" stroke="#000" stroke-width="2.6" stroke-linecap="butt"/>
<line x1="1550.58" y1="942.00" x2="1550.58" y2="928.60" stroke="#000" stroke-width="2.4" stroke-linecap="butt"/>
<line x1="1545.98" y1="928.60" x2="1555.18" y2="928.60" stroke="#000" stroke-width="2.6" stroke-linecap="butt"/>
<line x1="1601.10" y1="931.00" x2="1601.10" y2="913.30" stroke="#000" stroke-width="2.4" stroke-linecap="butt"/>
<line x1="1596.50" y1="913.30" x2="1605.70" y2="913.30" stroke="#000" stroke-width="2.6" stroke-linecap="butt"/>
<line x1="1651.62" y1="920.00" x2="1651.62" y2="903.80" stroke="#000" stroke-width="2.4" stroke-linecap="butt"/>
<line x1="1647.02" y1="903.80" x2="1656.22" y2="903.80" stroke="#000" stroke-width="2.6" stroke-linecap="butt"/>
<line x1="1702.14" y1="899.00" x2="1702.14" y2="883.10" stroke="#000" stroke-width="2.4" stroke-linecap="butt"/>
<line x1="1697.54" y1="883.10" x2="1706.74" y2="883.10" stroke="#000" stroke-width="2.6" stroke-linecap="butt"/>
<polyline points="1348.50,991.00 1449.54,957.30 1500.06,950.60 1550.58,942.00 1601.10,931.50 1651.62,920.00 1702.14,899.00" fill="none" stroke="#000" stroke-width="2.3" stroke-linejoin="round"/>
<polyline points="1348.50,991.00 1449.54,956.40 1500.06,940.10 1550.58,921.00 1601.10,887.50 1651.62,850.20 1702.14,800.40" fill="none" stroke="#000" stroke-width="2.3" stroke-linejoin="round"/>
<polyline points="1348.50,991.00 1449.54,950.60 1500.06,939.20 1550.58,911.40 1601.10,877.00 1651.62,831.10 1702.14,770.80" fill="none" stroke="#000" stroke-width="2.8" stroke-linejoin="round"/>
<polyline points="1348.50,991.00 1449.54,955.40 1500.06,940.10 1550.58,911.40 1601.10,876.00 1651.62,831.10 1702.14,760.30" fill="none" stroke="#000" stroke-width="2.8" stroke-linejoin="round"/>
<circle cx="1449.54" cy="957.30" r="3.6" fill="#fff" stroke="#000" stroke-width="2.1"/>
<circle cx="1500.06" cy="950.60" r="3.6" fill="#fff" stroke="#000" stroke-width="2.1"/>
<circle cx="1550.58" cy="942.00" r="3.6" fill="#fff" stroke="#000" stroke-width="2.1"/>
<circle cx="1601.10" cy="931.50" r="3.6" fill="#fff" stroke="#000" stroke-width="2.1"/>
<circle cx="1651.62" cy="920.00" r="3.6" fill="#fff" stroke="#000" stroke-width="2.1"/>
<circle cx="1702.14" cy="899.00" r="3.6" fill="#fff" stroke="#000" stroke-width="2.1"/>
<rect x="1445.74" y="952.60" width="7.60" height="7.60" fill="#fff" stroke="#000" stroke-width="2.1"/>
<rect x="1496.26" y="936.30" width="7.60" height="7.60" fill="#fff" stroke="#000" stroke-width="2.1"/>
<rect x="1546.78" y="917.20" width="7.60" height="7.60" fill="#fff" stroke="#000" stroke-width="2.1"/>
<rect x="1597.30" y="883.70" width="7.60" height="7.60" fill="#fff" stroke="#000" stroke-width="2.1"/>
<rect x="1647.82" y="846.40" width="7.60" height="7.60" fill="#fff" stroke="#000" stroke-width="2.1"/>
<rect x="1698.34" y="796.60" width="7.60" height="7.60" fill="#fff" stroke="#000" stroke-width="2.1"/>
<rect x="1445.34" y="946.40" width="8.40" height="8.40" fill="#000"/>
<rect x="1495.86" y="935.00" width="8.40" height="8.40" fill="#000"/>
<rect x="1546.38" y="907.20" width="8.40" height="8.40" fill="#000"/>
<rect x="1596.90" y="872.80" width="8.40" height="8.40" fill="#000"/>
<rect x="1647.42" y="826.90" width="8.40" height="8.40" fill="#000"/>
<rect x="1697.94" y="766.60" width="8.40" height="8.40" fill="#000"/>
<circle cx="1449.54" cy="955.40" r="4.4" fill="#000"/>
<circle cx="1500.06" cy="940.10" r="4.4" fill="#000"/>
<circle cx="1550.58" cy="911.40" r="4.4" fill="#000"/>
<circle cx="1601.10" cy="876.00" r="4.4" fill="#000"/>
<circle cx="1651.62" cy="831.10" r="4.4" fill="#000"/>
<circle cx="1702.14" cy="760.30" r="4.4" fill="#000"/>
<rect x="1343.50" y="986.00" width="10" height="10" fill="#000"/>
<line x1="1354.30" y1="581.00" x2="1400.00" y2="581.00" stroke="#000" stroke-width="2.6" stroke-linecap="butt"/>
<circle cx="1377.50" cy="581.00" r="4.4" fill="#000"/>
<text x="1430.00" y="589.00" style="font-size:27px"><tspan style="font-style:italic">Pten</tspan><tspan dy="-8.5" style="font-size:17.5px;font-style:italic">f/f</tspan><tspan dy="8.5"> + PBS</tspan></text>
<line x1="1354.30" y1="615.70" x2="1400.00" y2="615.70" stroke="#000" stroke-width="2.6" stroke-linecap="butt"/>
<circle cx="1377.50" cy="615.70" r="3.6" fill="#fff" stroke="#000" stroke-width="2.1"/>
<text x="1430.00" y="622.00" style="font-size:27px"><tspan style="font-style:italic">Pten</tspan><tspan dy="-8.5" style="font-size:17.5px;font-style:italic">f/f</tspan><tspan dy="8.5"> + EPI</tspan></text>
<line x1="1354.30" y1="645.00" x2="1400.00" y2="645.00" stroke="#000" stroke-width="2.6" stroke-linecap="butt"/>
<rect x="1373.30" y="640.80" width="8.40" height="8.40" fill="#000"/>
<text x="1430.00" y="655.00" style="font-size:27px"><tspan style="font-style:italic">Pten</tspan><tspan dy="-8.5" style="font-size:17.5px;font-style:italic">mKO</tspan><tspan dy="8.5"> + PBS</tspan></text>
<line x1="1354.30" y1="680.00" x2="1400.00" y2="680.00" stroke="#000" stroke-width="2.6" stroke-linecap="butt"/>
<rect x="1373.70" y="676.20" width="7.60" height="7.60" fill="#fff" stroke="#000" stroke-width="2.1"/>
<text x="1430.00" y="687.00" style="font-size:27px"><tspan style="font-style:italic">Pten</tspan><tspan dy="-8.5" style="font-size:17.5px;font-style:italic">mKO</tspan><tspan dy="8.5"> + EPI</tspan></text>
<line x1="1616.00" y1="585.40" x2="1616.00" y2="635.40" stroke="#000" stroke-width="2.4" stroke-linecap="butt"/>
<line x1="1616.00" y1="646.00" x2="1616.00" y2="697.90" stroke="#000" stroke-width="2.4" stroke-linecap="butt"/>
<line x1="1659.00" y1="583.60" x2="1659.00" y2="660.40" stroke="#000" stroke-width="2.4" stroke-linecap="butt"/>
<line x1="1703.60" y1="622.90" x2="1703.60" y2="697.90" stroke="#000" stroke-width="2.4" stroke-linecap="butt"/>
<text transform="translate(1632.00,542.55) rotate(90)" x="0" y="0" style="font-size:21.2px">P=0.0017</text>
<text transform="translate(1632.00,644.75) rotate(90)" x="0" y="0" style="font-size:21.2px">P=0.5555</text>
<text transform="translate(1671.40,576.45) rotate(90)" x="0" y="0" style="font-size:21.2px">P=0.9876</text>
<text transform="translate(1716.00,615.75) rotate(90)" x="0" y="0" style="font-size:21.2px">P=0.0045</text>
<text x="-0.80" y="1137.30" style="font-size:40px;font-weight:bold" fill="#000">h</text>
<text x="334.07" y="1203.00" style="font-size:27px" fill="#000">PBS</text>
<text x="744.77" y="1203.00" style="font-size:27px" fill="#000">MTX</text>
<line x1="141.00" y1="1218.30" x2="522.00" y2="1218.30" stroke="#000" stroke-width="2.6" stroke-linecap="butt"/>
<line x1="550.50" y1="1218.30" x2="932.00" y2="1218.30" stroke="#000" stroke-width="2.6" stroke-linecap="butt"/>
<text x="217.2" y="1255.6" style="font-size:26.5px;font-style:italic">Pten<tspan dy="-9.8" style="font-size:17.5px">f/f</tspan></text>
<text x="404.6" y="1255.6" style="font-size:26.5px;font-style:italic">Pten<tspan dy="-9.8" style="font-size:17.5px">mK</tspan></text>
<text x="404.4" y="1272.1" style="font-size:17.5px;font-style:italic">O</text>
<text x="625.2" y="1255.6" style="font-size:26.5px;font-style:italic">Pten<tspan dy="-9.8" style="font-size:17.5px">f/f</tspan></text>
<text x="812.8" y="1255.6" style="font-size:26.5px;font-style:italic">Pten<tspan dy="-9.8" style="font-size:17.5px">mK</tspan></text>
<text x="812.6" y="1272.1" style="font-size:17.5px;font-style:italic">O</text>
<rect x="135.5" y="1265.0" width="193.5" height="193.5" fill="#fff" stroke="#858585" stroke-width="1.5"/>
<path d="M247.1,1342.6h1.3v1.3h-1.3zM243.7,1407.8h1.3v1.3h-1.3zM236.1,1396.7h1.3v1.3h-1.3zM237.2,1361.8h1.3v1.3h-1.3zM246.4,1352.0h1.3v1.3h-1.3zM238.6,1404.8h1.3v1.3h-1.3zM245.3,1421.2h1.3v1.3h-1.3zM241.9,1371.0h1.3v1.3h-1.3zM245.4,1401.7h1.3v1.3h-1.3zM255.6,1394.7h1.3v1.3h-1.3zM214.9,1432.9h1.3v1.3h-1.3zM241.2,1387.1h1.3v1.3h-1.3zM232.6,1405.5h1.3v1.3h-1.3zM248.0,1330.4h1.3v1.3h-1.3zM255.4,1387.5h1.3v1.3h-1.3zM249.0,1365.4h1.3v1.3h-1.3zM237.0,1380.6h1.3v1.3h-1.3zM238.4,1355.4h1.3v1.3h-1.3zM227.4,1380.0h1.3v1.3h-1.3zM229.6,1379.0h1.3v1.3h-1.3zM257.8,1363.9h1.3v1.3h-1.3zM248.2,1394.2h1.3v1.3h-1.3zM231.5,1386.5h1.3v1.3h-1.3zM229.7,1384.6h1.3v1.3h-1.3zM244.1,1375.7h1.3v1.3h-1.3zM233.6,1403.6h1.3v1.3h-1.3zM246.3,1356.3h1.3v1.3h-1.3zM259.1,1390.4h1.3v1.3h-1.3zM244.3,1381.2h1.3v1.3h-1.3zM236.3,1362.4h1.3v1.3h-1.3zM252.2,1364.3h1.3v1.3h-1.3zM234.3,1394.6h1.3v1.3h-1.3zM255.0,1410.0h1.3v1.3h-1.3zM239.7,1359.3h1.3v1.3h-1.3zM236.2,1405.4h1.3v1.3h-1.3zM236.6,1372.6h1.3v1.3h-1.3zM281.5,1401.1h1.3v1.3h-1.3zM235.9,1349.2h1.3v1.3h-1.3zM245.3,1429.8h1.3v1.3h-1.3zM228.8,1414.3h1.3v1.3h-1.3zM240.2,1394.2h1.3v1.3h-1.3zM235.8,1386.8h1.3v1.3h-1.3zM252.7,1443.3h1.3v1.3h-1.3zM232.3,1407.3h1.3v1.3h-1.3zM236.1,1391.8h1.3v1.3h-1.3zM224.7,1382.2h1.3v1.3h-1.3zM245.2,1371.3h1.3v1.3h-1.3zM234.7,1401.8h1.3v1.3h-1.3zM252.1,1405.6h1.3v1.3h-1.3zM250.6,1403.2h1.3v1.3h-1.3zM249.5,1365.3h1.3v1.3h-1.3zM246.6,1408.4h1.3v1.3h-1.3zM234.3,1369.6h1.3v1.3h-1.3zM234.2,1380.4h1.3v1.3h-1.3zM215.3,1326.7h1.3v1.3h-1.3zM232.4,1392.5h1.3v1.3h-1.3zM255.0,1405.5h1.3v1.3h-1.3zM238.8,1378.2h1.3v1.3h-1.3zM235.9,1394.3h1.3v1.3h-1.3zM243.5,1344.1h1.3v1.3h-1.3zM225.3,1380.8h1.3v1.3h-1.3zM243.6,1390.3h1.3v1.3h-1.3zM260.5,1422.6h1.3v1.3h-1.3zM250.0,1360.1h1.3v1.3h-1.3zM234.8,1373.4h1.3v1.3h-1.3zM246.6,1398.5h1.3v1.3h-1.3zM225.2,1325.8h1.3v1.3h-1.3zM236.1,1384.7h1.3v1.3h-1.3zM246.2,1424.1h1.3v1.3h-1.3zM252.5,1404.0h1.3v1.3h-1.3zM245.4,1394.6h1.3v1.3h-1.3zM239.5,1381.2h1.3v1.3h-1.3zM239.3,1435.8h1.3v1.3h-1.3zM236.0,1364.2h1.3v1.3h-1.3zM230.5,1381.0h1.3v1.3h-1.3zM255.6,1430.1h1.3v1.3h-1.3zM234.9,1392.0h1.3v1.3h-1.3zM251.1,1359.3h1.3v1.3h-1.3zM233.3,1406.5h1.3v1.3h-1.3zM230.6,1425.9h1.3v1.3h-1.3zM232.5,1374.2h1.3v1.3h-1.3zM262.9,1372.1h1.3v1.3h-1.3zM234.1,1407.5h1.3v1.3h-1.3zM206.8,1422.8h1.3v1.3h-1.3zM234.9,1374.3h1.3v1.3h-1.3zM250.8,1330.8h1.3v1.3h-1.3zM238.2,1404.1h1.3v1.3h-1.3zM228.8,1416.8h1.3v1.3h-1.3zM258.9,1350.0h1.3v1.3h-1.3zM240.2,1335.5h1.3v1.3h-1.3zM249.4,1369.0h1.3v1.3h-1.3zM223.6,1432.9h1.3v1.3h-1.3zM252.4,1339.9h1.3v1.3h-1.3zM240.3,1356.3h1.3v1.3h-1.3zM228.5,1386.5h1.3v1.3h-1.3zM241.7,1362.9h1.3v1.3h-1.3zM208.3,1428.6h1.3v1.3h-1.3zM233.2,1383.6h1.3v1.3h-1.3zM228.6,1381.3h1.3v1.3h-1.3zM233.0,1403.1h1.3v1.3h-1.3zM239.6,1393.7h1.3v1.3h-1.3zM263.9,1385.2h1.3v1.3h-1.3zM230.7,1375.2h1.3v1.3h-1.3zM232.4,1382.0h1.3v1.3h-1.3zM230.1,1377.0h1.3v1.3h-1.3zM234.8,1394.1h1.3v1.3h-1.3zM235.9,1366.2h1.3v1.3h-1.3zM233.8,1387.6h1.3v1.3h-1.3zM234.0,1346.7h1.3v1.3h-1.3zM236.9,1389.8h1.3v1.3h-1.3zM237.2,1389.4h1.3v1.3h-1.3zM236.7,1303.4h1.3v1.3h-1.3zM247.4,1379.2h1.3v1.3h-1.3zM245.2,1352.1h1.3v1.3h-1.3zM235.8,1388.9h1.3v1.3h-1.3zM226.8,1421.2h1.3v1.3h-1.3zM234.6,1338.8h1.3v1.3h-1.3zM243.6,1390.9h1.3v1.3h-1.3zM235.6,1409.9h1.3v1.3h-1.3zM230.7,1386.7h1.3v1.3h-1.3zM225.0,1381.8h1.3v1.3h-1.3zM254.3,1384.6h1.3v1.3h-1.3zM227.8,1381.2h1.3v1.3h-1.3zM248.2,1400.9h1.3v1.3h-1.3zM256.8,1358.2h1.3v1.3h-1.3zM230.4,1429.0h1.3v1.3h-1.3zM203.9,1426.9h1.3v1.3h-1.3zM242.6,1380.0h1.3v1.3h-1.3zM243.2,1402.2h1.3v1.3h-1.3zM245.3,1378.4h1.3v1.3h-1.3zM242.5,1375.2h1.3v1.3h-1.3zM249.4,1384.3h1.3v1.3h-1.3zM235.7,1420.7h1.3v1.3h-1.3zM234.7,1429.7h1.3v1.3h-1.3zM219.2,1324.3h1.3v1.3h-1.3zM239.4,1352.2h1.3v1.3h-1.3zM236.1,1391.5h1.3v1.3h-1.3zM236.1,1378.6h1.3v1.3h-1.3zM242.9,1387.3h1.3v1.3h-1.3zM237.7,1348.6h1.3v1.3h-1.3zM237.7,1389.5h1.3v1.3h-1.3zM241.4,1379.3h1.3v1.3h-1.3zM257.8,1335.5h1.3v1.3h-1.3zM245.5,1366.8h1.3v1.3h-1.3zM235.9,1425.3h1.3v1.3h-1.3zM243.1,1396.4h1.3v1.3h-1.3zM236.3,1389.1h1.3v1.3h-1.3zM237.8,1387.1h1.3v1.3h-1.3zM228.4,1385.9h1.3v1.3h-1.3zM215.3,1448.1h1.3v1.3h-1.3zM245.7,1344.7h1.3v1.3h-1.3zM235.4,1395.7h1.3v1.3h-1.3zM246.4,1352.4h1.3v1.3h-1.3zM240.2,1421.0h1.3v1.3h-1.3zM246.5,1370.6h1.3v1.3h-1.3zM250.3,1356.2h1.3v1.3h-1.3zM210.0,1425.8h1.3v1.3h-1.3zM227.5,1417.5h1.3v1.3h-1.3zM239.4,1432.4h1.3v1.3h-1.3zM248.6,1361.3h1.3v1.3h-1.3zM251.4,1424.5h1.3v1.3h-1.3zM258.8,1362.7h1.3v1.3h-1.3zM243.4,1331.9h1.3v1.3h-1.3zM254.8,1390.6h1.3v1.3h-1.3zM232.0,1392.6h1.3v1.3h-1.3zM237.4,1354.9h1.3v1.3h-1.3zM238.2,1359.8h1.3v1.3h-1.3zM236.0,1390.6h1.3v1.3h-1.3zM263.1,1372.0h1.3v1.3h-1.3zM221.7,1329.6h1.3v1.3h-1.3zM248.7,1365.6h1.3v1.3h-1.3zM226.5,1417.5h1.3v1.3h-1.3zM242.0,1380.7h1.3v1.3h-1.3zM245.3,1367.4h1.3v1.3h-1.3zM252.9,1385.3h1.3v1.3h-1.3zM250.5,1389.0h1.3v1.3h-1.3zM234.3,1405.7h1.3v1.3h-1.3zM240.8,1400.9h1.3v1.3h-1.3zM249.4,1397.3h1.3v1.3h-1.3zM250.0,1379.8h1.3v1.3h-1.3zM246.5,1398.0h1.3v1.3h-1.3zM238.3,1358.4h1.3v1.3h-1.3zM264.8,1332.8h1.3v1.3h-1.3zM251.0,1346.2h1.3v1.3h-1.3zM235.6,1421.7h1.3v1.3h-1.3zM237.6,1366.4h1.3v1.3h-1.3zM231.0,1376.5h1.3v1.3h-1.3zM266.1,1383.5h1.3v1.3h-1.3zM237.1,1417.6h1.3v1.3h-1.3zM250.4,1380.6h1.3v1.3h-1.3zM262.1,1369.1h1.3v1.3h-1.3zM249.0,1369.8h1.3v1.3h-1.3zM242.2,1390.5h1.3v1.3h-1.3zM216.2,1425.2h1.3v1.3h-1.3zM237.8,1369.2h1.3v1.3h-1.3zM253.9,1405.0h1.3v1.3h-1.3zM224.1,1382.3h1.3v1.3h-1.3zM235.9,1377.1h1.3v1.3h-1.3zM240.9,1385.1h1.3v1.3h-1.3zM232.5,1433.9h1.3v1.3h-1.3zM241.7,1382.9h1.3v1.3h-1.3zM218.6,1302.1h1.3v1.3h-1.3zM230.0,1335.4h1.3v1.3h-1.3zM275.6,1356.4h1.3v1.3h-1.3zM238.0,1371.6h1.3v1.3h-1.3zM241.1,1379.4h1.3v1.3h-1.3zM225.9,1416.2h1.3v1.3h-1.3zM239.9,1372.9h1.3v1.3h-1.3zM227.0,1384.3h1.3v1.3h-1.3zM245.1,1440.2h1.3v1.3h-1.3zM235.8,1392.2h1.3v1.3h-1.3zM232.9,1378.2h1.3v1.3h-1.3zM237.8,1406.8h1.3v1.3h-1.3zM235.3,1375.2h1.3v1.3h-1.3zM239.0,1391.8h1.3v1.3h-1.3zM245.2,1354.4h1.3v1.3h-1.3zM269.4,1362.6h1.3v1.3h-1.3zM238.0,1349.8h1.3v1.3h-1.3zM258.1,1436.9h1.3v1.3h-1.3zM233.7,1393.8h1.3v1.3h-1.3zM247.8,1356.6h1.3v1.3h-1.3zM236.4,1418.7h1.3v1.3h-1.3zM241.7,1377.3h1.3v1.3h-1.3zM248.5,1438.6h1.3v1.3h-1.3zM236.4,1365.5h1.3v1.3h-1.3zM234.9,1421.0h1.3v1.3h-1.3zM278.1,1395.0h1.3v1.3h-1.3zM232.2,1377.1h1.3v1.3h-1.3zM270.2,1361.6h1.3v1.3h-1.3zM245.0,1423.3h1.3v1.3h-1.3zM237.4,1356.6h1.3v1.3h-1.3zM231.3,1385.9h1.3v1.3h-1.3zM223.3,1380.0h1.3v1.3h-1.3zM229.3,1434.3h1.3v1.3h-1.3zM251.3,1356.9h1.3v1.3h-1.3zM226.8,1382.6h1.3v1.3h-1.3zM262.1,1372.8h1.3v1.3h-1.3zM229.2,1377.8h1.3v1.3h-1.3zM230.9,1392.0h1.3v1.3h-1.3zM234.5,1394.3h1.3v1.3h-1.3zM231.5,1388.8h1.3v1.3h-1.3zM271.1,1376.3h1.3v1.3h-1.3zM235.4,1385.5h1.3v1.3h-1.3zM255.9,1312.4h1.3v1.3h-1.3zM244.8,1378.5h1.3v1.3h-1.3zM232.4,1403.6h1.3v1.3h-1.3zM234.6,1399.8h1.3v1.3h-1.3zM234.0,1419.6h1.3v1.3h-1.3zM240.6,1380.2h1.3v1.3h-1.3zM270.9,1417.3h1.3v1.3h-1.3zM268.4,1349.8h1.3v1.3h-1.3zM236.9,1342.9h1.3v1.3h-1.3zM241.4,1428.6h1.3v1.3h-1.3zM252.3,1363.0h1.3v1.3h-1.3zM247.5,1398.8h1.3v1.3h-1.3zM249.7,1419.7h1.3v1.3h-1.3zM251.6,1430.6h1.3v1.3h-1.3zM239.3,1377.8h1.3v1.3h-1.3zM245.0,1366.0h1.3v1.3h-1.3zM245.7,1375.7h1.3v1.3h-1.3z" fill="#333" fill-opacity="0.8"/>
<path d="M183.5,1420.5 178.5,1420.6 177.0,1419.6 175.6,1417.5 172.8,1409.0 170.9,1396.5 169.6,1378.5 169.6,1357.0 171.1,1344.5 173.7,1336.0 176.0,1332.5 179.0,1331.0 187.0,1331.7 198.5,1335.4 201.5,1335.0 211.0,1331.3 215.5,1330.2 220.5,1330.0 225.0,1331.1 229.0,1334.3 232.2,1340.5 235.3,1349.5 236.9,1358.5 236.7,1365.5 235.0,1371.0 232.5,1374.6 226.9,1379.0 225.7,1381.0 226.2,1382.5 230.8,1389.5 232.5,1395.0 232.6,1403.0 230.6,1410.0 228.5,1413.5 226.0,1416.0 223.0,1417.9 219.5,1419.1 211.0,1419.3 196.5,1417.0 183.5,1420.5" fill="none" stroke="rgb(140,140,140)" stroke-width="0.95"/>
<path d="M219.0,1417.1 210.0,1417.1 195.5,1413.9 192.5,1414.2 184.0,1416.7 179.0,1417.0 177.3,1416.0 175.6,1413.5 173.2,1405.5 171.3,1393.0 170.3,1377.5 170.2,1361.0 170.8,1351.5 172.3,1343.0 174.6,1337.0 177.5,1333.8 179.5,1333.3 185.0,1333.7 195.2,1337.0 198.0,1337.3 201.6,1336.5 212.5,1332.1 219.5,1331.3 225.0,1333.0 227.0,1334.6 228.6,1337.0 232.2,1345.5 234.4,1354.0 234.8,1361.5 233.5,1367.5 231.1,1371.5 227.5,1374.4 221.0,1377.2 213.5,1378.6 211.9,1379.5 212.5,1380.6 219.5,1382.2 225.0,1385.3 228.6,1389.5 230.8,1395.0 230.8,1403.0 228.8,1409.5 227.0,1412.3 224.7,1414.5 222.0,1416.1 219.0,1417.1" fill="none" stroke="rgb(136,136,136)" stroke-width="0.95"/>
<path d="M216.5,1415.5 208.0,1414.8 195.0,1410.8 192.0,1411.1 184.0,1413.4 179.0,1413.7 177.5,1412.8 176.0,1410.6 173.7,1403.5 171.9,1391.5 170.9,1376.5 170.8,1361.0 171.4,1352.0 172.9,1344.0 175.1,1338.5 178.0,1335.6 185.0,1335.7 194.5,1338.8 197.5,1339.0 201.0,1338.1 212.0,1333.4 218.5,1332.5 221.5,1333.0 224.0,1334.1 226.0,1335.9 227.3,1338.0 230.8,1346.5 232.5,1354.0 232.7,1361.0 231.2,1366.5 228.1,1370.5 223.5,1373.0 219.0,1374.2 211.5,1374.6 209.0,1375.3 207.2,1377.0 206.3,1379.5 206.6,1382.0 208.3,1383.5 218.5,1384.6 223.0,1386.3 226.6,1389.5 228.8,1394.0 229.5,1397.5 229.3,1402.0 228.6,1405.5 227.2,1409.0 225.0,1411.8 222.5,1413.8 219.5,1415.0 216.5,1415.5" fill="none" stroke="rgb(132,132,132)" stroke-width="0.95"/>
<path d="M218.0,1413.6 213.0,1413.7 208.0,1412.9 195.5,1407.8 192.5,1407.9 185.0,1410.2 180.5,1410.7 178.0,1410.2 176.3,1408.0 173.9,1400.5 172.3,1390.0 171.4,1376.0 171.3,1361.5 171.9,1353.0 173.2,1345.5 175.4,1340.0 178.0,1337.4 184.5,1337.5 194.0,1340.4 197.0,1340.6 200.5,1339.6 211.5,1334.7 217.5,1333.6 222.5,1334.8 225.7,1338.0 229.2,1346.5 230.8,1353.5 230.8,1360.0 229.3,1365.0 226.5,1368.3 221.5,1370.8 217.0,1371.7 210.0,1371.7 207.5,1372.4 205.0,1375.4 203.8,1380.0 204.0,1383.2 205.5,1385.3 208.0,1386.0 216.5,1386.2 220.0,1386.8 224.0,1389.1 226.8,1393.0 227.8,1396.0 228.0,1399.5 227.7,1403.0 226.6,1406.5 225.0,1409.3 223.0,1411.3 218.0,1413.6" fill="none" stroke="rgb(128,128,128)" stroke-width="0.95"/>
<path d="M216.0,1412.0 211.5,1411.8 207.0,1410.6 196.0,1404.5 193.0,1404.6 185.5,1407.3 181.0,1408.0 178.5,1407.8 176.5,1405.5 174.4,1399.0 172.8,1389.0 171.9,1376.0 171.8,1362.0 172.4,1353.5 173.7,1346.5 175.5,1341.8 178.0,1339.1 184.0,1339.1 193.5,1341.9 196.5,1342.1 200.0,1341.1 211.0,1335.8 217.0,1334.7 221.5,1335.8 223.2,1337.0 224.6,1339.0 227.6,1346.5 229.0,1353.0 229.0,1359.0 227.5,1363.4 225.0,1366.2 220.5,1368.4 216.0,1369.1 208.5,1368.9 206.0,1369.8 203.5,1373.3 201.9,1380.0 202.0,1385.0 203.5,1387.4 206.0,1388.0 215.0,1387.7 219.0,1388.2 223.0,1390.3 225.6,1394.0 226.4,1397.0 226.5,1400.5 224.9,1406.5 223.1,1409.0 221.0,1410.7 216.0,1412.0" fill="none" stroke="rgb(124,124,124)" stroke-width="0.95"/>
<path d="M216.0,1410.0 211.0,1409.6 206.5,1408.0 203.1,1405.5 198.5,1400.4 197.0,1399.7 194.5,1400.2 187.5,1403.6 183.0,1404.9 179.0,1405.1 176.8,1403.0 174.8,1397.0 173.3,1388.0 172.4,1375.5 172.3,1362.5 172.7,1355.0 173.9,1348.5 175.7,1343.5 178.0,1340.9 183.5,1340.8 193.0,1343.6 196.5,1343.8 199.5,1342.8 210.5,1337.2 216.0,1335.9 220.5,1336.9 223.0,1339.5 225.7,1346.0 227.0,1351.5 227.1,1357.0 225.9,1361.0 223.5,1363.7 219.0,1365.8 215.0,1366.3 207.5,1365.8 204.5,1366.8 203.0,1368.6 201.9,1371.5 199.7,1383.0 199.8,1388.5 200.5,1390.1 201.5,1390.8 203.5,1391.0 212.0,1389.6 217.0,1389.6 220.9,1391.0 223.5,1393.7 224.5,1396.0 224.8,1399.0 223.6,1405.0 220.5,1408.6 216.0,1410.0" fill="none" stroke="rgb(119,119,119)" stroke-width="0.95"/>
<path d="M182.5,1402.1 179.0,1402.2 177.0,1400.3 175.2,1395.0 173.8,1386.5 172.9,1373.5 172.9,1360.0 173.9,1351.5 176.0,1344.9 178.0,1342.7 180.5,1342.3 185.5,1343.0 193.5,1345.6 196.5,1345.7 199.0,1344.9 206.5,1340.4 212.0,1337.9 216.0,1337.2 219.5,1338.2 221.8,1341.0 224.6,1349.0 225.1,1354.5 223.7,1359.0 221.5,1361.3 217.1,1363.0 213.5,1363.2 206.0,1362.2 203.0,1363.3 201.5,1365.5 200.5,1368.5 196.6,1389.5 195.3,1393.5 193.5,1396.0 189.9,1399.0 186.0,1401.1 182.5,1402.1M217.0,1407.5 210.8,1407.0 208.0,1405.7 205.9,1404.0 204.3,1401.5 203.5,1398.5 203.7,1396.5 205.1,1394.5 208.9,1392.5 214.0,1391.6 218.0,1392.0 221.0,1393.8 222.7,1397.5 222.3,1402.5 220.1,1406.0 217.0,1407.5" fill="none" stroke="rgb(115,115,115)" stroke-width="0.95"/>
<path d="M183.0,1399.1 179.0,1399.3 177.5,1398.0 175.7,1393.5 174.3,1385.5 173.4,1373.0 173.4,1360.0 174.4,1352.0 176.5,1346.1 178.5,1344.2 182.0,1344.2 186.5,1345.1 194.0,1347.9 197.0,1348.2 199.5,1347.2 205.6,1342.5 211.0,1339.7 215.0,1338.8 218.1,1339.5 220.1,1342.0 222.3,1348.5 222.6,1353.0 221.5,1356.3 219.1,1358.5 215.0,1359.7 211.0,1359.4 204.0,1357.4 202.5,1357.6 201.5,1358.3 199.5,1363.5 196.3,1381.0 193.7,1390.0 192.0,1393.0 189.5,1395.7 186.5,1397.8 183.0,1399.1M217.0,1404.2 212.5,1404.0 209.5,1402.1 208.6,1400.5 208.4,1398.5 209.6,1396.0 212.0,1394.8 215.0,1394.4 217.5,1394.8 219.0,1395.8 220.0,1398.0 219.8,1401.0 218.7,1403.0 217.0,1404.2" fill="none" stroke="rgb(111,111,111)" stroke-width="0.95"/>
<path d="M215.5,1355.1 212.5,1355.3 208.8,1354.0 205.7,1351.5 203.8,1348.5 204.4,1346.5 206.7,1344.0 210.0,1341.9 213.5,1340.7 216.0,1341.0 217.3,1342.0 219.4,1348.0 219.0,1352.5 217.7,1354.0 215.5,1355.1M183.0,1396.1 179.0,1396.4 177.0,1394.0 175.3,1387.5 174.2,1378.0 173.8,1363.5 174.6,1354.5 176.5,1348.1 178.0,1346.3 179.5,1345.8 186.0,1346.8 193.8,1350.5 196.3,1353.0 197.4,1357.5 197.4,1362.5 195.9,1374.0 193.1,1385.5 191.2,1389.5 189.0,1392.5 186.0,1394.8 183.0,1396.1" fill="none" stroke="rgb(107,107,107)" stroke-width="0.95"/>
<path d="M183.0,1393.0 179.0,1393.4 177.5,1391.8 175.9,1386.5 174.8,1378.0 174.4,1364.0 175.0,1356.0 176.9,1349.5 178.0,1348.2 179.5,1347.6 185.5,1348.5 191.1,1351.5 193.9,1355.0 195.3,1360.5 194.4,1373.0 191.9,1383.0 188.2,1389.5 186.0,1391.5 183.0,1393.0" fill="none" stroke="rgb(102,102,102)" stroke-width="0.95"/>
<path d="M182.5,1390.0 179.0,1390.3 177.5,1388.5 176.2,1383.5 175.3,1376.0 174.9,1364.0 175.4,1357.0 177.0,1351.5 178.0,1350.1 179.5,1349.5 185.0,1350.4 189.5,1352.9 192.1,1356.5 193.3,1361.5 192.7,1372.5 190.6,1381.0 187.0,1387.1 185.0,1388.8 182.5,1390.0" fill="none" stroke="rgb(98,98,98)" stroke-width="0.95"/>
<path d="M181.0,1387.0 179.0,1387.0 177.5,1384.7 176.3,1379.5 175.6,1371.5 175.6,1362.5 176.2,1357.0 177.5,1352.9 179.5,1351.5 184.0,1352.1 188.0,1354.5 190.4,1358.0 191.5,1363.0 190.9,1372.0 188.9,1379.5 185.5,1384.7 183.5,1386.2 181.0,1387.0" fill="none" stroke="rgb(94,94,94)" stroke-width="0.95"/>
<path d="M180.5,1383.0 179.0,1382.9 177.7,1380.5 176.3,1369.5 176.9,1358.0 178.0,1354.9 179.5,1353.9 183.5,1354.6 186.5,1356.6 188.5,1359.8 189.3,1364.0 188.7,1371.5 187.0,1377.3 184.0,1381.5 180.5,1383.0" fill="none" stroke="rgb(90,90,90)" stroke-width="0.95"/>
<path d="M180.5,1377.6 179.0,1377.5 178.5,1376.7 177.3,1369.0 177.5,1360.8 178.4,1358.0 179.5,1357.2 182.0,1357.6 184.3,1359.0 185.6,1361.0 186.3,1364.0 186.1,1369.0 185.0,1373.1 183.0,1376.2 180.5,1377.6" fill="none" stroke="rgb(85,85,85)" stroke-width="0.95"/>
<line x1="202.20" y1="1265.00" x2="202.20" y2="1458.50" stroke="#222" stroke-width="1.4" stroke-linecap="butt"/>
<line x1="135.50" y1="1378.70" x2="329.00" y2="1378.70" stroke="#222" stroke-width="1.4" stroke-linecap="butt"/>
<text x="135.72" y="1289.70" style="font-size:25.5px" fill="#000">66.17</text>
<text x="273.10" y="1289.70" style="font-size:25.5px" fill="#000">12.4</text>
<text x="136.09" y="1452.50" style="font-size:25.5px" fill="#000">12.6</text>
<text x="273.49" y="1452.50" style="font-size:25.5px" fill="#000">8.83</text>
<path d="M129.5,1282.7h6M129.5,1325.0h6M129.5,1370.0h6" stroke="#333" stroke-width="1.3"/>
<path d="M132.5,1268.0h3M132.5,1273.0h3M132.5,1278.0h3M132.5,1283.0h3M132.5,1288.0h3M132.5,1293.0h3M132.5,1298.0h3M132.5,1303.0h3M132.5,1308.0h3M132.5,1313.0h3M132.5,1318.0h3M132.5,1323.0h3M132.5,1328.0h3M132.5,1333.0h3M132.5,1338.0h3M132.5,1343.0h3M132.5,1348.0h3M132.5,1353.0h3M132.5,1358.0h3M132.5,1363.0h3M132.5,1368.0h3M132.5,1373.0h3M132.5,1378.0h3M132.5,1383.0h3M132.5,1388.0h3M132.5,1393.0h3M132.5,1398.0h3M132.5,1403.0h3M132.5,1408.0h3M132.5,1413.0h3M132.5,1418.0h3M132.5,1423.0h3M132.5,1428.0h3M132.5,1433.0h3M132.5,1438.0h3M132.5,1443.0h3M132.5,1448.0h3M132.5,1453.0h3" stroke="#777" stroke-width="0.8"/>
<rect x="129.5" y="1428.0" width="3" height="6" fill="#111"/>
<path d="M176.8,1458.5v6M212.0,1458.5v6M264.0,1458.5v6M309.6,1458.5v6" stroke="#333" stroke-width="1.3"/>
<path d="M140.5,1458.5v3M144.5,1458.5v3M148.5,1458.5v3M152.5,1458.5v3M156.5,1458.5v3M160.5,1458.5v3M164.5,1458.5v3M168.5,1458.5v3M172.5,1458.5v3M176.5,1458.5v3M180.5,1458.5v3M184.5,1458.5v3M188.5,1458.5v3M192.5,1458.5v3M196.5,1458.5v3M200.5,1458.5v3M204.5,1458.5v3M208.5,1458.5v3M212.5,1458.5v3M216.5,1458.5v3M220.5,1458.5v3M224.5,1458.5v3M228.5,1458.5v3M232.5,1458.5v3M236.5,1458.5v3M240.5,1458.5v3M244.5,1458.5v3M248.5,1458.5v3M252.5,1458.5v3M256.5,1458.5v3M260.5,1458.5v3M264.5,1458.5v3M268.5,1458.5v3M272.5,1458.5v3M276.5,1458.5v3M280.5,1458.5v3M284.5,1458.5v3M288.5,1458.5v3M292.5,1458.5v3M296.5,1458.5v3M300.5,1458.5v3M304.5,1458.5v3M308.5,1458.5v3M312.5,1458.5v3M316.5,1458.5v3M320.5,1458.5v3M324.5,1458.5v3" stroke="#777" stroke-width="0.8"/>
<rect x="173.5" y="1458.5" width="8" height="4" fill="#111"/>
<text x="171.31" y="1484.40" style="font-size:24px" fill="#000">0</text>
<text x="199.7" y="1484.4" style="font-size:24px">10<tspan dy="-9.1" style="font-size:14.9px">3</tspan></text>
<text x="254.0" y="1484.4" style="font-size:24px">10<tspan dy="-9.1" style="font-size:14.9px">4</tspan></text>
<text x="297.6" y="1484.4" style="font-size:24px">10<tspan dy="-9.1" style="font-size:14.9px">5</tspan></text>
<rect x="339.0" y="1265.0" width="193.5" height="193.5" fill="#fff" stroke="#858585" stroke-width="1.5"/>
<path d="M450.6,1366.9h1.3v1.3h-1.3zM437.7,1401.0h1.3v1.3h-1.3zM414.8,1376.1h1.3v1.3h-1.3zM438.2,1356.4h1.3v1.3h-1.3zM441.9,1375.0h1.3v1.3h-1.3zM416.9,1374.8h1.3v1.3h-1.3zM424.9,1435.3h1.3v1.3h-1.3zM438.7,1409.2h1.3v1.3h-1.3zM442.2,1373.5h1.3v1.3h-1.3zM440.6,1432.3h1.3v1.3h-1.3zM453.3,1386.3h1.3v1.3h-1.3zM440.6,1343.8h1.3v1.3h-1.3zM461.5,1367.5h1.3v1.3h-1.3zM447.5,1403.0h1.3v1.3h-1.3zM426.4,1363.0h1.3v1.3h-1.3zM439.8,1410.4h1.3v1.3h-1.3zM441.5,1370.1h1.3v1.3h-1.3zM413.3,1389.6h1.3v1.3h-1.3zM438.3,1403.1h1.3v1.3h-1.3zM413.0,1382.8h1.3v1.3h-1.3zM435.9,1346.9h1.3v1.3h-1.3zM459.6,1429.6h1.3v1.3h-1.3zM418.2,1376.3h1.3v1.3h-1.3zM440.3,1411.7h1.3v1.3h-1.3zM429.3,1384.3h1.3v1.3h-1.3zM440.4,1385.2h1.3v1.3h-1.3zM446.1,1357.3h1.3v1.3h-1.3zM434.6,1335.4h1.3v1.3h-1.3zM427.5,1372.1h1.3v1.3h-1.3zM444.2,1384.3h1.3v1.3h-1.3zM436.1,1367.7h1.3v1.3h-1.3zM455.9,1367.6h1.3v1.3h-1.3zM412.2,1433.5h1.3v1.3h-1.3zM449.8,1375.2h1.3v1.3h-1.3zM444.5,1421.6h1.3v1.3h-1.3zM443.8,1450.3h1.3v1.3h-1.3zM435.2,1452.3h1.3v1.3h-1.3zM439.4,1345.9h1.3v1.3h-1.3zM436.5,1375.8h1.3v1.3h-1.3zM445.1,1420.0h1.3v1.3h-1.3zM441.8,1391.0h1.3v1.3h-1.3zM441.7,1384.8h1.3v1.3h-1.3zM447.1,1382.3h1.3v1.3h-1.3zM424.0,1391.1h1.3v1.3h-1.3zM426.2,1431.3h1.3v1.3h-1.3zM436.3,1365.7h1.3v1.3h-1.3zM445.5,1370.2h1.3v1.3h-1.3zM442.7,1379.5h1.3v1.3h-1.3zM454.8,1376.3h1.3v1.3h-1.3zM424.6,1335.9h1.3v1.3h-1.3zM436.7,1420.4h1.3v1.3h-1.3zM413.0,1383.4h1.3v1.3h-1.3zM440.2,1371.6h1.3v1.3h-1.3zM446.3,1409.2h1.3v1.3h-1.3zM436.5,1389.1h1.3v1.3h-1.3zM444.1,1374.4h1.3v1.3h-1.3zM444.0,1385.4h1.3v1.3h-1.3zM416.3,1422.6h1.3v1.3h-1.3zM426.0,1349.1h1.3v1.3h-1.3zM444.5,1384.3h1.3v1.3h-1.3zM439.9,1388.8h1.3v1.3h-1.3zM458.8,1369.0h1.3v1.3h-1.3zM427.3,1365.8h1.3v1.3h-1.3zM437.4,1386.3h1.3v1.3h-1.3zM418.2,1384.9h1.3v1.3h-1.3zM448.2,1394.6h1.3v1.3h-1.3zM430.9,1388.3h1.3v1.3h-1.3zM428.6,1384.8h1.3v1.3h-1.3zM431.0,1383.4h1.3v1.3h-1.3zM446.9,1397.4h1.3v1.3h-1.3zM427.3,1366.3h1.3v1.3h-1.3zM430.9,1352.1h1.3v1.3h-1.3zM429.6,1377.9h1.3v1.3h-1.3zM419.9,1337.8h1.3v1.3h-1.3zM439.3,1439.2h1.3v1.3h-1.3zM437.5,1330.4h1.3v1.3h-1.3zM424.3,1346.6h1.3v1.3h-1.3zM457.4,1362.8h1.3v1.3h-1.3zM422.8,1391.1h1.3v1.3h-1.3zM443.0,1351.3h1.3v1.3h-1.3zM454.1,1409.9h1.3v1.3h-1.3zM431.5,1365.6h1.3v1.3h-1.3zM430.8,1374.0h1.3v1.3h-1.3zM443.9,1407.8h1.3v1.3h-1.3zM430.5,1369.5h1.3v1.3h-1.3zM443.1,1401.7h1.3v1.3h-1.3zM412.1,1379.5h1.3v1.3h-1.3zM415.2,1439.3h1.3v1.3h-1.3zM459.4,1409.6h1.3v1.3h-1.3zM460.8,1338.2h1.3v1.3h-1.3zM425.7,1374.6h1.3v1.3h-1.3zM454.3,1410.0h1.3v1.3h-1.3zM440.0,1371.4h1.3v1.3h-1.3zM425.6,1380.0h1.3v1.3h-1.3zM443.2,1388.8h1.3v1.3h-1.3zM482.0,1360.7h1.3v1.3h-1.3zM439.1,1387.3h1.3v1.3h-1.3zM437.6,1394.0h1.3v1.3h-1.3zM433.5,1361.4h1.3v1.3h-1.3zM441.1,1370.5h1.3v1.3h-1.3zM430.2,1343.3h1.3v1.3h-1.3zM440.0,1396.0h1.3v1.3h-1.3zM440.9,1442.1h1.3v1.3h-1.3zM449.6,1403.9h1.3v1.3h-1.3zM453.8,1375.3h1.3v1.3h-1.3zM450.8,1401.0h1.3v1.3h-1.3zM446.9,1362.0h1.3v1.3h-1.3zM452.2,1394.0h1.3v1.3h-1.3zM449.1,1400.5h1.3v1.3h-1.3zM455.6,1423.3h1.3v1.3h-1.3zM445.2,1346.9h1.3v1.3h-1.3zM432.7,1380.1h1.3v1.3h-1.3zM437.0,1407.2h1.3v1.3h-1.3zM421.5,1390.8h1.3v1.3h-1.3zM443.6,1390.5h1.3v1.3h-1.3zM433.6,1389.9h1.3v1.3h-1.3zM439.5,1409.8h1.3v1.3h-1.3zM436.3,1371.7h1.3v1.3h-1.3zM439.8,1388.1h1.3v1.3h-1.3zM452.4,1370.0h1.3v1.3h-1.3zM448.3,1403.0h1.3v1.3h-1.3zM458.6,1363.4h1.3v1.3h-1.3zM417.0,1390.4h1.3v1.3h-1.3zM428.6,1437.3h1.3v1.3h-1.3zM428.6,1391.1h1.3v1.3h-1.3zM435.2,1418.9h1.3v1.3h-1.3zM430.0,1383.1h1.3v1.3h-1.3zM429.2,1423.4h1.3v1.3h-1.3zM441.1,1376.0h1.3v1.3h-1.3zM460.2,1377.4h1.3v1.3h-1.3zM437.7,1399.1h1.3v1.3h-1.3zM438.9,1399.7h1.3v1.3h-1.3zM451.4,1405.3h1.3v1.3h-1.3zM434.0,1350.7h1.3v1.3h-1.3zM431.6,1362.7h1.3v1.3h-1.3zM451.4,1386.1h1.3v1.3h-1.3zM451.1,1394.0h1.3v1.3h-1.3zM440.9,1354.2h1.3v1.3h-1.3zM457.6,1432.1h1.3v1.3h-1.3zM445.7,1398.1h1.3v1.3h-1.3zM428.0,1388.2h1.3v1.3h-1.3zM449.3,1350.9h1.3v1.3h-1.3zM436.5,1353.2h1.3v1.3h-1.3zM432.6,1377.3h1.3v1.3h-1.3zM437.4,1420.4h1.3v1.3h-1.3zM426.9,1422.4h1.3v1.3h-1.3zM440.0,1346.9h1.3v1.3h-1.3zM447.8,1385.4h1.3v1.3h-1.3zM435.9,1363.9h1.3v1.3h-1.3zM439.5,1367.4h1.3v1.3h-1.3zM440.5,1375.5h1.3v1.3h-1.3zM458.7,1418.9h1.3v1.3h-1.3zM414.6,1376.5h1.3v1.3h-1.3zM431.6,1419.6h1.3v1.3h-1.3zM430.4,1353.4h1.3v1.3h-1.3zM449.4,1392.0h1.3v1.3h-1.3zM450.0,1393.0h1.3v1.3h-1.3zM429.5,1343.6h1.3v1.3h-1.3zM449.5,1326.2h1.3v1.3h-1.3zM438.1,1394.9h1.3v1.3h-1.3zM424.6,1425.0h1.3v1.3h-1.3zM446.0,1402.1h1.3v1.3h-1.3zM436.3,1354.4h1.3v1.3h-1.3zM431.3,1390.0h1.3v1.3h-1.3zM425.6,1370.2h1.3v1.3h-1.3zM425.3,1374.4h1.3v1.3h-1.3zM446.1,1401.7h1.3v1.3h-1.3zM463.2,1351.4h1.3v1.3h-1.3zM439.7,1413.5h1.3v1.3h-1.3zM440.0,1405.0h1.3v1.3h-1.3zM469.8,1357.5h1.3v1.3h-1.3zM437.2,1413.3h1.3v1.3h-1.3zM437.0,1379.9h1.3v1.3h-1.3zM441.7,1374.8h1.3v1.3h-1.3zM431.8,1384.6h1.3v1.3h-1.3zM433.2,1389.5h1.3v1.3h-1.3zM440.4,1381.4h1.3v1.3h-1.3zM426.7,1384.1h1.3v1.3h-1.3zM462.9,1371.1h1.3v1.3h-1.3zM460.3,1388.3h1.3v1.3h-1.3zM453.4,1371.5h1.3v1.3h-1.3zM424.1,1390.8h1.3v1.3h-1.3zM475.7,1373.3h1.3v1.3h-1.3zM411.4,1378.0h1.3v1.3h-1.3zM440.9,1426.4h1.3v1.3h-1.3zM452.0,1394.4h1.3v1.3h-1.3zM424.0,1372.8h1.3v1.3h-1.3zM426.1,1350.6h1.3v1.3h-1.3zM454.4,1403.1h1.3v1.3h-1.3zM434.3,1344.0h1.3v1.3h-1.3zM433.9,1435.9h1.3v1.3h-1.3zM451.6,1406.1h1.3v1.3h-1.3zM438.7,1375.0h1.3v1.3h-1.3zM430.8,1385.1h1.3v1.3h-1.3zM439.9,1401.5h1.3v1.3h-1.3zM444.6,1407.3h1.3v1.3h-1.3zM409.4,1391.4h1.3v1.3h-1.3zM429.4,1347.4h1.3v1.3h-1.3zM423.5,1380.3h1.3v1.3h-1.3zM425.5,1386.8h1.3v1.3h-1.3z" fill="#333" fill-opacity="0.8"/>
<path d="M385.0,1430.6 381.0,1430.6 379.5,1429.3 378.2,1427.0 375.7,1418.5 373.8,1405.0 372.8,1386.5 372.8,1366.5 374.1,1351.5 376.3,1341.5 378.8,1336.5 381.5,1334.7 387.5,1335.2 397.5,1338.3 409.5,1336.8 415.5,1337.6 420.5,1340.6 422.6,1343.0 424.2,1346.0 426.5,1354.5 426.6,1362.5 425.0,1368.0 422.0,1372.4 418.5,1374.9 411.5,1378.0 409.9,1379.5 408.5,1383.1 408.7,1388.0 409.5,1389.6 411.0,1390.6 424.0,1390.9 428.5,1392.4 432.0,1394.5 435.2,1398.0 437.4,1402.5 438.0,1407.0 437.2,1412.0 435.9,1415.0 433.5,1418.1 430.5,1420.5 427.0,1422.3 423.0,1423.2 419.0,1423.3 405.0,1421.0 402.0,1421.1 398.7,1422.5 390.5,1428.6 385.0,1430.6" fill="none" stroke="rgb(140,140,140)" stroke-width="0.95"/>
<path d="M382.0,1427.0 380.5,1426.5 379.0,1424.7 376.8,1418.5 374.8,1407.0 373.8,1394.5 373.3,1376.5 373.7,1362.0 375.2,1350.0 377.2,1342.5 379.0,1339.1 381.5,1337.4 386.5,1337.8 396.5,1340.4 409.0,1338.4 415.0,1339.1 419.5,1341.9 422.7,1346.5 424.8,1354.5 424.8,1362.0 423.2,1367.0 420.5,1370.7 417.5,1372.8 410.0,1375.9 408.0,1377.7 406.4,1383.0 406.6,1390.5 407.7,1392.5 409.5,1393.5 423.0,1393.0 427.0,1394.1 430.2,1396.0 433.5,1399.5 435.3,1403.5 435.7,1408.0 434.8,1412.0 433.1,1415.0 431.0,1417.3 428.0,1419.4 425.0,1420.5 421.5,1421.1 416.5,1420.8 404.5,1418.0 401.5,1417.9 398.0,1419.3 389.0,1425.5 385.5,1426.7 382.0,1427.0" fill="none" stroke="rgb(136,136,136)" stroke-width="0.95"/>
<path d="M384.5,1423.5 381.0,1423.5 378.5,1420.1 376.3,1412.0 374.8,1400.5 374.0,1383.0 374.1,1365.5 375.3,1353.5 377.3,1345.0 379.1,1341.5 381.5,1339.8 386.5,1340.2 395.5,1342.5 408.5,1339.8 414.5,1340.5 418.5,1343.0 421.5,1347.5 423.3,1355.0 423.2,1361.5 421.6,1366.0 419.0,1369.3 416.0,1371.2 408.5,1374.0 406.4,1376.0 405.3,1379.0 404.7,1383.5 404.4,1389.5 404.9,1393.5 406.0,1395.6 408.0,1396.4 421.5,1395.0 425.0,1395.6 428.0,1397.1 430.8,1399.5 432.8,1403.0 433.5,1407.0 432.8,1411.0 431.5,1413.5 429.5,1415.8 427.0,1417.5 424.0,1418.6 420.5,1419.0 415.5,1418.5 404.0,1414.8 401.0,1414.6 398.0,1415.8 389.5,1421.9 384.5,1423.5" fill="none" stroke="rgb(132,132,132)" stroke-width="0.95"/>
<path d="M385.0,1420.5 381.0,1420.5 379.0,1418.0 376.8,1410.5 375.4,1400.0 374.5,1383.0 374.6,1366.5 375.6,1355.0 377.5,1347.0 379.5,1343.3 381.5,1342.0 386.0,1342.2 395.0,1344.4 408.0,1341.3 411.0,1341.2 414.0,1341.8 417.5,1344.0 420.1,1348.0 421.9,1355.0 421.6,1361.0 420.1,1365.0 417.5,1368.0 414.5,1369.6 407.3,1372.0 404.9,1374.5 403.8,1378.0 403.1,1384.5 402.7,1392.5 403.2,1397.0 404.4,1399.5 406.0,1400.1 418.0,1397.2 422.0,1397.1 425.5,1398.1 428.5,1400.2 430.7,1403.5 431.4,1407.0 430.7,1410.5 429.2,1413.0 427.0,1415.1 424.0,1416.5 421.0,1416.9 413.0,1415.7 404.0,1410.9 401.5,1410.5 398.5,1411.9 390.0,1418.6 385.0,1420.5" fill="none" stroke="rgb(128,128,128)" stroke-width="0.95"/>
<path d="M383.0,1418.0 380.5,1417.4 378.3,1413.0 376.6,1405.5 375.4,1393.5 374.8,1378.5 375.1,1365.0 376.2,1355.0 378.1,1348.0 379.5,1345.3 381.5,1343.9 386.0,1344.2 395.0,1346.3 407.5,1342.7 410.5,1342.5 413.5,1343.1 417.0,1345.5 419.4,1350.0 420.5,1357.0 419.5,1362.5 418.0,1364.9 416.0,1366.7 412.5,1368.3 406.5,1369.9 404.0,1372.0 402.4,1377.5 400.7,1401.5 399.7,1405.5 396.5,1410.0 391.5,1414.7 387.5,1417.0 383.0,1418.0M422.5,1414.6 416.5,1414.2 411.0,1411.9 408.9,1410.0 407.7,1408.0 407.5,1406.0 408.1,1404.5 411.7,1401.5 417.0,1399.7 422.0,1399.3 426.0,1400.9 428.6,1404.5 428.8,1409.0 426.5,1412.6 422.5,1414.6" fill="none" stroke="rgb(124,124,124)" stroke-width="0.95"/>
<path d="M384.5,1415.0 381.0,1414.9 379.3,1412.5 377.4,1406.0 376.2,1397.0 375.4,1383.0 375.4,1368.0 376.4,1357.5 378.4,1349.5 380.0,1346.9 381.5,1346.0 386.0,1346.3 395.0,1348.5 397.5,1348.0 407.0,1344.3 410.0,1344.0 413.0,1344.6 416.0,1346.8 417.9,1350.5 418.9,1356.0 418.0,1361.0 416.5,1363.5 414.5,1365.1 411.0,1366.4 405.0,1367.6 402.8,1369.5 401.4,1374.0 399.3,1394.5 397.3,1403.5 395.1,1407.5 392.0,1411.1 388.5,1413.6 384.5,1415.0M422.0,1411.6 418.5,1411.4 415.0,1410.0 413.2,1407.5 413.9,1405.0 416.0,1403.4 419.0,1402.5 422.0,1402.4 424.3,1403.5 425.6,1405.5 425.8,1408.0 424.5,1410.3 422.0,1411.6" fill="none" stroke="rgb(119,119,119)" stroke-width="0.95"/>
<path d="M385.0,1412.0 381.5,1412.2 379.8,1410.5 378.0,1405.0 376.7,1396.5 375.9,1383.5 375.9,1369.0 376.8,1359.0 378.6,1351.5 380.0,1349.1 381.5,1348.1 386.0,1348.4 393.5,1351.0 396.0,1351.2 405.5,1346.5 409.0,1345.7 412.0,1346.1 414.5,1347.8 416.0,1350.5 417.0,1355.5 416.3,1359.5 415.0,1361.5 412.5,1363.2 409.5,1364.1 403.5,1364.5 401.5,1366.0 400.0,1371.5 398.1,1391.5 395.9,1401.0 393.9,1405.0 391.5,1408.2 388.5,1410.6 385.0,1412.0" fill="none" stroke="rgb(115,115,115)" stroke-width="0.95"/>
<path d="M410.5,1360.5 408.0,1360.9 405.0,1360.4 401.4,1358.5 400.2,1357.0 400.2,1354.5 401.4,1352.0 403.4,1350.0 406.0,1348.6 409.0,1347.9 411.0,1348.2 412.5,1349.1 413.8,1351.0 414.5,1354.0 414.2,1357.0 413.0,1359.1 410.5,1360.5M385.0,1409.1 381.5,1409.3 379.5,1406.8 377.6,1399.0 376.6,1387.5 376.3,1371.5 377.1,1360.5 379.0,1353.0 380.5,1350.7 382.0,1350.1 387.0,1350.8 391.9,1353.0 397.3,1356.5 398.5,1358.0 398.9,1359.5 397.8,1383.0 395.7,1395.5 393.9,1400.5 391.5,1404.5 388.5,1407.5 385.0,1409.1" fill="none" stroke="rgb(111,111,111)" stroke-width="0.95"/>
<path d="M382.5,1406.5 381.0,1406.1 380.2,1405.0 378.5,1399.7 377.3,1390.5 376.8,1378.0 376.9,1368.0 377.9,1359.5 379.7,1354.0 381.0,1352.5 382.0,1352.2 385.0,1352.5 388.1,1353.5 391.0,1355.2 393.5,1357.6 396.0,1363.0 396.8,1371.5 395.9,1386.5 393.1,1397.5 391.0,1401.4 388.5,1404.2 385.5,1406.0 382.5,1406.5" fill="none" stroke="rgb(107,107,107)" stroke-width="0.95"/>
<path d="M382.5,1403.5 381.5,1403.4 380.5,1402.5 378.9,1397.5 377.7,1389.0 377.3,1378.0 377.4,1368.5 378.3,1361.0 380.0,1355.9 382.0,1354.4 387.5,1355.6 390.0,1357.2 392.1,1359.5 394.5,1365.0 395.4,1373.0 394.6,1385.5 392.0,1395.3 390.0,1399.0 388.0,1401.3 385.5,1402.9 382.5,1403.5" fill="none" stroke="rgb(102,102,102)" stroke-width="0.95"/>
<path d="M384.5,1400.1 381.5,1400.3 380.2,1398.5 378.9,1393.5 378.0,1385.0 377.8,1373.0 378.4,1364.5 380.0,1358.3 381.0,1357.0 382.0,1356.6 386.5,1357.5 390.5,1360.9 392.8,1365.5 393.9,1372.0 393.5,1382.5 391.7,1391.0 388.5,1397.2 386.5,1399.1 384.5,1400.1" fill="none" stroke="rgb(98,98,98)" stroke-width="0.95"/>
<path d="M383.0,1397.1 381.0,1396.5 380.0,1394.3 378.9,1388.5 378.4,1379.5 379.0,1364.9 380.3,1360.5 382.0,1359.0 386.0,1359.9 389.5,1363.0 391.5,1367.5 392.3,1373.5 391.9,1382.5 390.0,1390.1 387.0,1395.0 385.0,1396.5 383.0,1397.1" fill="none" stroke="rgb(94,94,94)" stroke-width="0.95"/>
<path d="M383.0,1393.0 381.5,1392.9 380.5,1391.2 379.5,1386.0 379.1,1379.5 379.5,1367.0 380.5,1363.3 382.0,1361.9 385.5,1362.8 388.0,1365.1 389.8,1369.0 390.4,1374.0 390.0,1381.5 388.5,1387.4 386.0,1391.4 383.0,1393.0" fill="none" stroke="rgb(90,90,90)" stroke-width="0.95"/>
<path d="M383.0,1387.6 381.5,1387.5 381.0,1386.5 380.0,1379.5 380.2,1369.5 381.0,1366.7 382.0,1365.8 384.5,1366.4 386.1,1368.0 387.3,1370.5 387.9,1374.0 387.7,1379.0 386.8,1383.0 385.0,1386.3 383.0,1387.6" fill="none" stroke="rgb(85,85,85)" stroke-width="0.95"/>
<line x1="406.50" y1="1265.00" x2="406.50" y2="1458.50" stroke="#222" stroke-width="1.4" stroke-linecap="butt"/>
<line x1="339.00" y1="1378.70" x2="532.50" y2="1378.70" stroke="#222" stroke-width="1.4" stroke-linecap="butt"/>
<text x="339.48" y="1289.70" style="font-size:25.5px" fill="#000">52.4</text>
<text x="477.11" y="1289.70" style="font-size:25.5px" fill="#000">8.51</text>
<text x="340.23" y="1452.50" style="font-size:25.5px" fill="#000">29.4</text>
<text x="477.05" y="1452.50" style="font-size:25.5px" fill="#000">9.69</text>
<path d="M333.0,1282.7h6M333.0,1325.0h6M333.0,1370.0h6" stroke="#333" stroke-width="1.3"/>
<path d="M336.0,1268.0h3M336.0,1273.0h3M336.0,1278.0h3M336.0,1283.0h3M336.0,1288.0h3M336.0,1293.0h3M336.0,1298.0h3M336.0,1303.0h3M336.0,1308.0h3M336.0,1313.0h3M336.0,1318.0h3M336.0,1323.0h3M336.0,1328.0h3M336.0,1333.0h3M336.0,1338.0h3M336.0,1343.0h3M336.0,1348.0h3M336.0,1353.0h3M336.0,1358.0h3M336.0,1363.0h3M336.0,1368.0h3M336.0,1373.0h3M336.0,1378.0h3M336.0,1383.0h3M336.0,1388.0h3M336.0,1393.0h3M336.0,1398.0h3M336.0,1403.0h3M336.0,1408.0h3M336.0,1413.0h3M336.0,1418.0h3M336.0,1423.0h3M336.0,1428.0h3M336.0,1433.0h3M336.0,1438.0h3M336.0,1443.0h3M336.0,1448.0h3M336.0,1453.0h3" stroke="#777" stroke-width="0.8"/>
<rect x="333.0" y="1428.0" width="3" height="6" fill="#111"/>
<path d="M380.3,1458.5v6M415.5,1458.5v6M467.5,1458.5v6M513.1,1458.5v6" stroke="#333" stroke-width="1.3"/>
<path d="M344.0,1458.5v3M348.0,1458.5v3M352.0,1458.5v3M356.0,1458.5v3M360.0,1458.5v3M364.0,1458.5v3M368.0,1458.5v3M372.0,1458.5v3M376.0,1458.5v3M380.0,1458.5v3M384.0,1458.5v3M388.0,1458.5v3M392.0,1458.5v3M396.0,1458.5v3M400.0,1458.5v3M404.0,1458.5v3M408.0,1458.5v3M412.0,1458.5v3M416.0,1458.5v3M420.0,1458.5v3M424.0,1458.5v3M428.0,1458.5v3M432.0,1458.5v3M436.0,1458.5v3M440.0,1458.5v3M444.0,1458.5v3M448.0,1458.5v3M452.0,1458.5v3M456.0,1458.5v3M460.0,1458.5v3M464.0,1458.5v3M468.0,1458.5v3M472.0,1458.5v3M476.0,1458.5v3M480.0,1458.5v3M484.0,1458.5v3M488.0,1458.5v3M492.0,1458.5v3M496.0,1458.5v3M500.0,1458.5v3M504.0,1458.5v3M508.0,1458.5v3M512.0,1458.5v3M516.0,1458.5v3M520.0,1458.5v3M524.0,1458.5v3M528.0,1458.5v3" stroke="#777" stroke-width="0.8"/>
<rect x="377.0" y="1458.5" width="8" height="4" fill="#111"/>
<text x="374.81" y="1484.40" style="font-size:24px" fill="#000">0</text>
<text x="403.2" y="1484.4" style="font-size:24px">10<tspan dy="-9.1" style="font-size:14.9px">3</tspan></text>
<text x="457.5" y="1484.4" style="font-size:24px">10<tspan dy="-9.1" style="font-size:14.9px">4</tspan></text>
<text x="501.1" y="1484.4" style="font-size:24px">10<tspan dy="-9.1" style="font-size:14.9px">5</tspan></text>
<rect x="542.5" y="1265.0" width="193.5" height="193.5" fill="#fff" stroke="#858585" stroke-width="1.5"/>
<path d="M669.7,1332.8h1.3v1.3h-1.3zM654.8,1372.3h1.3v1.3h-1.3zM663.8,1383.6h1.3v1.3h-1.3zM675.3,1376.6h1.3v1.3h-1.3zM671.1,1375.9h1.3v1.3h-1.3zM664.9,1362.1h1.3v1.3h-1.3zM669.4,1366.9h1.3v1.3h-1.3zM671.5,1353.6h1.3v1.3h-1.3zM667.6,1376.0h1.3v1.3h-1.3zM664.1,1347.9h1.3v1.3h-1.3zM671.9,1371.7h1.3v1.3h-1.3zM682.2,1395.5h1.3v1.3h-1.3zM661.0,1342.6h1.3v1.3h-1.3zM672.2,1384.0h1.3v1.3h-1.3zM648.7,1363.8h1.3v1.3h-1.3zM667.5,1341.0h1.3v1.3h-1.3zM653.7,1366.9h1.3v1.3h-1.3zM645.9,1364.1h1.3v1.3h-1.3zM655.5,1364.3h1.3v1.3h-1.3zM665.9,1372.5h1.3v1.3h-1.3zM658.1,1357.9h1.3v1.3h-1.3zM650.2,1366.4h1.3v1.3h-1.3zM649.6,1343.8h1.3v1.3h-1.3zM677.4,1386.9h1.3v1.3h-1.3zM662.6,1366.3h1.3v1.3h-1.3zM682.8,1372.6h1.3v1.3h-1.3zM659.0,1362.2h1.3v1.3h-1.3zM657.4,1371.3h1.3v1.3h-1.3zM654.0,1357.7h1.3v1.3h-1.3zM662.6,1323.9h1.3v1.3h-1.3zM658.4,1379.7h1.3v1.3h-1.3zM652.0,1349.4h1.3v1.3h-1.3zM653.5,1374.1h1.3v1.3h-1.3zM666.9,1331.2h1.3v1.3h-1.3zM657.7,1376.8h1.3v1.3h-1.3zM662.6,1353.9h1.3v1.3h-1.3zM647.7,1348.4h1.3v1.3h-1.3zM664.9,1363.7h1.3v1.3h-1.3zM664.4,1381.7h1.3v1.3h-1.3zM668.0,1366.0h1.3v1.3h-1.3z" fill="#333" fill-opacity="0.8"/>
<path d="M592.5,1430.5 586.0,1430.5 581.5,1428.0 577.8,1422.5 575.9,1415.5 575.5,1409.0 576.1,1388.0 575.6,1361.5 576.7,1352.0 579.3,1344.0 582.8,1339.0 584.5,1337.7 587.0,1336.8 592.0,1336.9 596.5,1337.9 607.5,1343.8 609.0,1343.3 615.0,1337.8 621.0,1335.1 625.5,1334.2 630.5,1334.1 634.5,1334.6 637.5,1335.6 640.5,1337.5 643.2,1340.5 644.8,1344.0 645.5,1348.5 645.2,1355.0 644.2,1361.0 642.6,1366.0 638.5,1375.0 638.4,1377.5 640.5,1378.6 650.5,1379.4 656.5,1380.7 662.0,1383.1 666.5,1386.5 670.3,1391.5 672.3,1397.0 672.7,1404.0 671.2,1409.5 668.2,1414.0 663.5,1417.7 657.5,1420.4 650.5,1421.8 641.5,1422.1 632.5,1421.3 624.5,1419.3 616.5,1416.0 614.0,1415.9 612.5,1417.0 607.5,1423.5 604.0,1426.5 598.5,1429.2 592.5,1430.5M615.0,1386.0 616.1,1385.5 616.6,1384.5 615.6,1383.5 614.0,1383.4 613.5,1385.0 615.0,1386.0" fill="none" stroke="rgb(140,140,140)" stroke-width="0.95"/>
<path d="M592.5,1429.0 586.5,1429.1 584.0,1428.2 582.0,1426.7 578.7,1422.0 576.8,1415.0 576.4,1406.5 577.0,1387.0 576.4,1362.5 577.6,1352.5 579.9,1345.5 582.0,1342.1 584.5,1339.8 587.0,1338.8 591.0,1338.8 594.5,1339.4 598.5,1340.9 607.0,1347.2 608.5,1347.8 609.5,1347.2 614.1,1340.5 617.0,1338.2 620.0,1336.8 624.5,1335.6 629.5,1335.3 633.5,1335.7 637.0,1336.8 640.5,1339.3 642.8,1342.5 644.0,1346.5 644.0,1352.5 643.4,1358.0 642.1,1363.0 635.0,1377.5 634.5,1379.6 636.5,1380.6 647.5,1380.9 653.5,1381.7 659.0,1383.7 664.0,1386.9 667.9,1391.5 670.1,1397.0 670.5,1403.5 669.2,1409.0 666.0,1413.5 661.5,1416.9 655.5,1419.3 648.0,1420.5 638.5,1420.4 630.5,1419.2 624.0,1417.2 615.5,1412.7 613.5,1412.4 612.0,1413.5 607.5,1421.0 604.0,1424.5 598.5,1427.6 592.5,1429.0M614.1,1391.0 620.7,1386.0 621.9,1384.0 619.4,1382.5 612.5,1380.1 611.5,1380.5 610.7,1382.0 610.5,1386.6 612.0,1390.7 613.0,1391.2 614.1,1391.0" fill="none" stroke="rgb(136,136,136)" stroke-width="0.95"/>
<path d="M593.5,1427.6 587.0,1427.9 583.0,1426.1 579.8,1422.0 577.7,1415.5 577.1,1409.5 577.8,1388.0 577.2,1362.5 578.2,1354.0 580.4,1347.0 583.0,1342.9 586.0,1340.8 589.5,1340.4 594.5,1341.2 598.5,1342.8 602.5,1345.7 610.5,1355.7 612.8,1345.0 614.6,1342.0 617.4,1339.5 621.5,1337.6 626.5,1336.5 632.0,1336.6 636.5,1337.9 640.8,1341.5 642.8,1346.5 642.5,1356.0 640.2,1364.0 633.5,1376.5 631.5,1378.9 629.0,1380.7 626.0,1381.7 622.0,1381.6 617.5,1380.4 611.5,1377.3 610.0,1378.0 608.9,1381.0 608.6,1386.5 609.1,1391.0 610.5,1395.8 611.5,1397.7 612.5,1398.1 620.0,1389.4 625.0,1385.9 629.5,1383.8 641.5,1382.4 647.5,1382.4 652.5,1383.2 657.0,1384.6 661.0,1386.8 664.1,1389.5 666.3,1392.5 667.9,1396.0 668.6,1400.5 668.4,1405.0 667.4,1408.5 663.5,1413.5 658.0,1416.9 651.0,1418.8 642.0,1419.2 633.0,1418.3 625.5,1416.1 620.0,1413.0 613.5,1407.1 612.5,1406.9 611.5,1408.1 608.2,1417.0 605.2,1421.5 600.0,1425.5 593.5,1427.6M612.0,1366.0 613.1,1365.0 613.5,1363.5 613.0,1361.6 611.5,1359.3 611.0,1360.2 610.9,1364.0 611.2,1365.5 612.0,1366.0" fill="none" stroke="rgb(132,132,132)" stroke-width="0.95"/>
<path d="M626.5,1380.0 622.5,1380.4 618.0,1379.4 614.2,1377.0 612.0,1374.0 612.0,1371.0 615.4,1366.0 616.1,1364.0 613.8,1355.0 613.7,1347.5 615.5,1343.0 619.5,1339.6 625.0,1337.8 632.0,1337.6 637.0,1339.4 640.4,1343.0 641.8,1347.5 641.5,1355.0 639.4,1362.5 635.3,1369.5 632.8,1375.0 630.0,1378.2 626.5,1380.0M592.5,1426.5 586.5,1426.6 584.5,1425.8 582.2,1424.0 579.2,1418.5 577.9,1411.0 578.6,1388.5 577.8,1368.0 578.4,1357.5 579.8,1351.0 581.7,1346.5 584.5,1343.3 588.0,1342.0 592.5,1342.3 597.0,1343.8 601.0,1346.4 604.2,1350.0 606.3,1353.5 607.9,1358.0 609.2,1371.0 607.1,1385.5 607.4,1391.0 609.2,1403.5 608.9,1409.5 608.1,1413.5 605.9,1418.5 602.5,1422.4 598.0,1425.1 592.5,1426.5M651.0,1417.5 642.5,1418.0 634.0,1417.1 627.0,1415.1 621.5,1412.0 617.8,1408.0 616.1,1403.5 616.6,1398.0 619.2,1393.0 622.5,1389.7 627.0,1386.9 631.5,1385.2 637.5,1384.1 645.0,1383.8 651.0,1384.3 656.0,1385.8 660.5,1388.4 664.0,1392.0 666.2,1396.5 666.9,1401.5 666.3,1406.5 664.2,1410.5 661.0,1413.6 656.5,1416.0 651.0,1417.5" fill="none" stroke="rgb(128,128,128)" stroke-width="0.95"/>
<path d="M626.0,1379.0 622.0,1379.4 618.5,1378.6 615.4,1376.5 613.8,1374.0 614.1,1370.5 617.6,1365.5 618.1,1364.0 615.4,1355.0 615.1,1347.5 616.7,1343.5 620.5,1340.3 625.5,1338.7 632.0,1338.6 636.5,1340.3 639.8,1344.0 640.8,1348.0 640.4,1355.0 638.6,1361.5 633.9,1368.5 631.3,1375.0 629.1,1377.5 626.0,1379.0M592.0,1425.5 586.5,1425.5 584.5,1424.7 582.5,1423.0 579.7,1418.0 578.5,1411.0 579.3,1388.5 578.5,1368.0 579.0,1357.5 580.3,1352.0 582.3,1347.5 585.0,1344.5 588.0,1343.4 592.0,1343.7 595.5,1344.7 598.5,1346.3 601.5,1348.8 603.9,1352.0 605.6,1355.5 606.7,1359.5 607.2,1364.0 607.3,1372.0 605.7,1386.5 607.5,1404.0 606.9,1413.0 604.8,1418.0 601.7,1421.5 597.5,1424.1 592.0,1425.5M649.5,1416.6 641.5,1416.8 634.0,1415.9 627.5,1413.8 622.8,1411.0 619.8,1407.5 618.4,1403.0 619.0,1397.5 621.6,1393.0 624.9,1390.0 629.0,1387.7 634.0,1386.1 640.0,1385.2 646.5,1385.1 651.5,1385.8 656.0,1387.3 660.0,1389.9 663.1,1393.5 664.8,1397.5 665.3,1402.5 664.4,1407.0 662.3,1410.5 659.0,1413.3 654.5,1415.4 649.5,1416.6" fill="none" stroke="rgb(124,124,124)" stroke-width="0.95"/>
<path d="M625.0,1378.1 622.0,1378.4 619.0,1377.6 616.6,1376.0 615.4,1374.0 615.7,1370.5 619.9,1365.5 620.3,1364.0 617.0,1355.0 616.6,1347.5 618.0,1344.0 621.5,1341.1 626.5,1339.6 632.0,1339.7 636.0,1341.3 638.7,1344.5 639.7,1348.5 639.2,1355.0 637.0,1361.5 631.8,1368.0 630.1,1374.5 628.0,1376.8 625.0,1378.1M591.0,1424.5 586.5,1424.4 582.9,1422.0 580.2,1417.0 579.2,1410.5 580.0,1388.0 579.2,1369.0 579.6,1358.5 580.8,1353.0 582.8,1348.5 585.0,1346.1 588.0,1344.9 591.5,1345.1 595.0,1346.1 598.0,1347.7 600.6,1350.0 602.8,1353.0 604.5,1356.5 605.9,1364.5 605.8,1372.5 604.3,1387.0 606.1,1404.0 605.6,1413.0 603.6,1417.5 600.5,1420.9 596.5,1423.2 591.0,1424.5M647.5,1415.5 640.0,1415.5 633.5,1414.4 628.0,1412.4 623.8,1409.5 621.3,1406.0 620.6,1401.5 621.5,1397.0 624.2,1393.0 627.5,1390.4 631.5,1388.5 636.5,1387.1 642.0,1386.5 647.5,1386.6 652.0,1387.4 656.0,1389.0 659.4,1391.5 662.0,1395.0 663.4,1399.0 663.5,1403.5 662.4,1407.5 660.2,1410.5 656.7,1413.0 652.5,1414.7 647.5,1415.5" fill="none" stroke="rgb(119,119,119)" stroke-width="0.95"/>
<path d="M624.5,1377.1 622.0,1377.2 619.5,1376.5 617.5,1375.0 616.8,1373.5 616.9,1371.5 618.0,1369.6 623.8,1365.0 619.0,1356.0 618.2,1352.0 618.2,1347.5 619.5,1344.5 622.6,1342.0 627.0,1340.7 632.0,1340.8 635.6,1342.5 637.9,1345.5 638.5,1349.0 637.9,1355.0 636.9,1358.5 635.0,1361.7 633.0,1363.6 628.7,1366.0 628.4,1367.0 629.3,1371.0 628.9,1373.5 627.0,1375.9 624.5,1377.1M593.0,1423.1 587.5,1423.4 584.0,1421.8 581.2,1417.5 579.9,1411.0 580.8,1388.0 579.9,1369.5 580.2,1359.5 581.3,1354.0 583.0,1350.1 585.5,1347.3 588.0,1346.5 594.5,1347.5 599.5,1350.9 603.0,1356.5 604.6,1364.0 604.5,1372.0 602.8,1387.5 604.7,1403.5 604.4,1412.0 603.0,1416.0 600.5,1419.3 597.0,1421.7 593.0,1423.1M649.0,1414.0 642.5,1414.3 636.0,1413.6 630.5,1411.9 626.5,1409.5 624.0,1406.5 622.9,1403.0 623.3,1398.5 625.5,1394.5 628.0,1392.2 631.5,1390.2 636.0,1388.8 640.5,1388.1 646.0,1388.0 650.5,1388.6 654.4,1390.0 657.5,1392.0 659.7,1394.5 661.3,1398.0 661.8,1402.5 661.1,1406.0 659.3,1409.0 656.5,1411.4 653.0,1413.1 649.0,1414.0" fill="none" stroke="rgb(115,115,115)" stroke-width="0.95"/>
<path d="M631.0,1362.0 627.5,1362.2 624.5,1360.8 622.0,1358.1 620.4,1354.5 619.7,1350.0 620.2,1346.5 622.0,1344.0 625.5,1342.3 630.0,1341.8 633.0,1342.4 635.3,1344.0 636.8,1346.5 637.1,1351.5 636.0,1356.5 634.0,1360.1 631.0,1362.0M592.0,1422.1 587.0,1422.2 584.0,1420.5 581.6,1416.5 580.5,1410.5 581.6,1388.0 580.6,1370.5 580.8,1360.5 581.7,1355.5 583.4,1351.5 585.5,1349.0 588.0,1348.0 594.0,1349.0 598.5,1352.0 601.8,1357.0 603.3,1364.0 603.2,1372.0 601.3,1387.5 603.3,1403.5 603.1,1412.0 601.9,1415.5 599.5,1418.6 596.0,1420.9 592.0,1422.1M624.5,1375.6 621.5,1375.8 619.2,1374.5 618.6,1372.0 620.0,1369.9 623.5,1368.6 625.4,1369.0 626.6,1370.0 627.3,1371.5 627.0,1373.5 624.5,1375.6M645.5,1413.0 639.5,1412.8 634.5,1411.8 630.3,1410.0 627.2,1407.5 625.5,1404.5 625.3,1400.5 626.4,1397.0 628.8,1394.0 631.8,1392.0 635.5,1390.6 644.5,1389.4 651.5,1390.5 654.5,1391.9 657.0,1394.0 659.0,1397.0 659.8,1400.0 659.8,1404.0 658.7,1407.0 656.5,1409.5 653.5,1411.3 649.5,1412.6 645.5,1413.0" fill="none" stroke="rgb(111,111,111)" stroke-width="0.95"/>
<path d="M630.5,1359.5 627.5,1359.4 625.0,1358.1 623.2,1356.0 622.0,1353.0 621.6,1349.0 622.0,1346.8 623.5,1344.9 626.5,1343.5 630.0,1343.2 632.5,1343.8 634.5,1345.3 635.6,1347.5 635.6,1351.5 634.6,1355.5 633.0,1358.1 630.5,1359.5M591.0,1421.1 587.0,1421.0 584.0,1419.1 581.9,1415.0 581.2,1410.0 582.4,1388.0 581.2,1370.5 581.4,1361.0 582.4,1356.0 584.0,1352.4 586.0,1350.3 588.5,1349.5 594.0,1350.6 598.0,1353.5 600.9,1358.5 602.1,1365.0 601.8,1372.5 599.8,1387.5 602.0,1403.0 601.9,1411.5 600.7,1415.0 598.3,1418.0 595.0,1420.0 591.0,1421.1M623.5,1373.6 621.9,1373.5 621.5,1372.0 622.5,1371.4 624.0,1371.7 624.4,1372.5 623.5,1373.6M647.0,1411.5 641.5,1411.5 637.0,1410.9 633.1,1409.5 630.1,1407.5 628.2,1405.0 627.6,1402.0 628.1,1399.0 629.8,1396.0 632.2,1394.0 635.0,1392.6 642.0,1391.1 649.5,1391.6 652.5,1392.8 654.9,1394.5 656.9,1397.0 657.8,1399.5 658.0,1403.0 657.3,1405.5 656.0,1407.5 653.5,1409.6 650.5,1410.9 647.0,1411.5" fill="none" stroke="rgb(107,107,107)" stroke-width="0.95"/>
<path d="M631.0,1356.1 629.5,1356.4 627.4,1356.0 626.0,1355.0 624.6,1353.0 624.1,1348.0 624.9,1346.5 626.5,1345.4 631.0,1345.1 632.5,1345.9 633.5,1347.2 633.9,1349.0 633.5,1352.5 632.5,1354.7 631.0,1356.1M589.5,1420.0 586.5,1419.7 584.0,1417.5 582.4,1414.0 581.9,1409.0 583.3,1388.0 582.0,1371.0 582.1,1361.5 583.0,1357.0 584.5,1353.6 586.5,1351.6 588.5,1351.1 593.5,1352.1 597.3,1355.0 599.8,1359.5 600.8,1365.5 600.4,1373.0 598.1,1387.5 600.6,1403.0 600.6,1411.5 599.2,1415.0 596.9,1417.5 593.5,1419.3 589.5,1420.0M646.5,1410.0 638.4,1409.5 635.0,1408.4 632.5,1406.8 631.0,1404.9 630.3,1402.5 630.7,1399.5 632.1,1397.0 636.5,1394.1 642.5,1392.8 648.5,1393.2 653.1,1395.5 654.7,1397.5 655.7,1400.0 655.8,1403.0 655.3,1405.0 653.9,1407.0 652.0,1408.4 646.5,1410.0" fill="none" stroke="rgb(102,102,102)" stroke-width="0.95"/>
<path d="M591.5,1418.6 587.5,1418.7 585.2,1417.5 583.4,1414.5 582.6,1410.0 582.8,1402.0 584.4,1387.5 582.8,1372.0 582.8,1362.0 583.6,1358.0 584.9,1355.0 586.5,1353.3 588.5,1352.7 592.7,1353.5 596.2,1356.0 598.5,1360.0 599.4,1365.0 599.0,1373.0 596.2,1387.5 599.2,1402.5 599.4,1410.5 598.5,1413.5 597.0,1415.7 594.5,1417.5 591.5,1418.6M647.5,1408.0 640.5,1408.0 635.5,1406.0 634.1,1404.5 633.4,1402.5 633.6,1400.5 634.5,1398.5 637.5,1396.1 641.5,1395.0 647.0,1395.0 650.7,1396.5 653.0,1399.5 653.2,1403.5 651.1,1406.5 647.5,1408.0" fill="none" stroke="rgb(98,98,98)" stroke-width="0.95"/>
<path d="M589.5,1417.5 587.0,1417.3 585.0,1415.6 583.7,1412.5 583.4,1409.0 583.7,1401.5 585.7,1387.5 583.7,1373.0 583.5,1363.0 584.1,1359.5 585.4,1356.5 587.0,1354.9 588.5,1354.5 592.5,1355.3 595.5,1357.7 597.4,1361.5 598.0,1366.0 597.3,1374.0 593.7,1387.5 594.2,1391.0 597.6,1402.0 597.9,1410.5 597.0,1413.3 595.1,1415.5 592.5,1416.9 589.5,1417.5M646.5,1405.6 642.5,1405.7 639.1,1404.5 637.8,1402.5 638.4,1400.0 640.0,1398.6 642.5,1397.8 645.5,1397.7 648.0,1398.5 649.6,1400.5 649.7,1403.0 648.8,1404.5 646.5,1405.6" fill="none" stroke="rgb(94,94,94)" stroke-width="0.95"/>
<path d="M589.5,1383.2 588.0,1383.2 586.5,1380.7 585.0,1375.1 584.4,1369.0 584.5,1363.5 585.2,1360.0 586.5,1357.6 588.5,1356.7 591.5,1357.2 594.0,1359.1 595.6,1362.0 596.2,1365.5 595.9,1371.0 594.5,1376.5 592.0,1381.0 589.5,1383.2M591.5,1415.5 588.5,1415.9 586.8,1415.5 585.4,1414.0 584.4,1411.0 584.4,1405.0 585.1,1399.0 587.0,1393.3 588.5,1391.8 590.5,1392.6 593.0,1395.5 595.0,1399.7 596.1,1404.5 596.3,1409.5 595.7,1412.0 594.0,1414.2 591.5,1415.5" fill="none" stroke="rgb(90,90,90)" stroke-width="0.95"/>
<path d="M589.5,1376.5 588.0,1376.5 587.0,1375.3 585.7,1369.0 586.0,1362.5 587.0,1360.4 588.5,1359.6 590.5,1360.0 592.1,1361.0 593.3,1363.0 593.8,1365.5 592.9,1372.5 591.5,1375.1 589.5,1376.5M590.5,1413.5 588.5,1413.8 587.0,1413.2 585.6,1410.0 586.1,1402.0 587.0,1399.4 588.5,1398.2 590.5,1398.8 592.0,1400.3 593.8,1405.5 593.5,1411.0 592.4,1412.5 590.5,1413.5" fill="none" stroke="rgb(85,85,85)" stroke-width="0.95"/>
<line x1="609.60" y1="1265.00" x2="609.60" y2="1458.50" stroke="#222" stroke-width="1.4" stroke-linecap="butt"/>
<line x1="542.50" y1="1378.70" x2="736.00" y2="1378.70" stroke="#222" stroke-width="1.4" stroke-linecap="butt"/>
<text x="542.73" y="1289.70" style="font-size:25.5px" fill="#000">24.7</text>
<text x="680.42" y="1289.70" style="font-size:25.5px" fill="#000">14.5</text>
<text x="544.04" y="1452.50" style="font-size:25.5px" fill="#000">35.7</text>
<text x="680.61" y="1452.50" style="font-size:25.5px" fill="#000">25.1</text>
<path d="M536.5,1282.7h6M536.5,1325.0h6M536.5,1370.0h6" stroke="#333" stroke-width="1.3"/>
<path d="M539.5,1268.0h3M539.5,1273.0h3M539.5,1278.0h3M539.5,1283.0h3M539.5,1288.0h3M539.5,1293.0h3M539.5,1298.0h3M539.5,1303.0h3M539.5,1308.0h3M539.5,1313.0h3M539.5,1318.0h3M539.5,1323.0h3M539.5,1328.0h3M539.5,1333.0h3M539.5,1338.0h3M539.5,1343.0h3M539.5,1348.0h3M539.5,1353.0h3M539.5,1358.0h3M539.5,1363.0h3M539.5,1368.0h3M539.5,1373.0h3M539.5,1378.0h3M539.5,1383.0h3M539.5,1388.0h3M539.5,1393.0h3M539.5,1398.0h3M539.5,1403.0h3M539.5,1408.0h3M539.5,1413.0h3M539.5,1418.0h3M539.5,1423.0h3M539.5,1428.0h3M539.5,1433.0h3M539.5,1438.0h3M539.5,1443.0h3M539.5,1448.0h3M539.5,1453.0h3" stroke="#777" stroke-width="0.8"/>
<rect x="536.5" y="1428.0" width="3" height="6" fill="#111"/>
<path d="M583.8,1458.5v6M619.0,1458.5v6M671.0,1458.5v6M716.6,1458.5v6" stroke="#333" stroke-width="1.3"/>
<path d="M547.5,1458.5v3M551.5,1458.5v3M555.5,1458.5v3M559.5,1458.5v3M563.5,1458.5v3M567.5,1458.5v3M571.5,1458.5v3M575.5,1458.5v3M579.5,1458.5v3M583.5,1458.5v3M587.5,1458.5v3M591.5,1458.5v3M595.5,1458.5v3M599.5,1458.5v3M603.5,1458.5v3M607.5,1458.5v3M611.5,1458.5v3M615.5,1458.5v3M619.5,1458.5v3M623.5,1458.5v3M627.5,1458.5v3M631.5,1458.5v3M635.5,1458.5v3M639.5,1458.5v3M643.5,1458.5v3M647.5,1458.5v3M651.5,1458.5v3M655.5,1458.5v3M659.5,1458.5v3M663.5,1458.5v3M667.5,1458.5v3M671.5,1458.5v3M675.5,1458.5v3M679.5,1458.5v3M683.5,1458.5v3M687.5,1458.5v3M691.5,1458.5v3M695.5,1458.5v3M699.5,1458.5v3M703.5,1458.5v3M707.5,1458.5v3M711.5,1458.5v3M715.5,1458.5v3M719.5,1458.5v3M723.5,1458.5v3M727.5,1458.5v3M731.5,1458.5v3" stroke="#777" stroke-width="0.8"/>
<rect x="580.5" y="1458.5" width="8" height="4" fill="#111"/>
<text x="578.31" y="1484.40" style="font-size:24px" fill="#000">0</text>
<text x="606.7" y="1484.4" style="font-size:24px">10<tspan dy="-9.1" style="font-size:14.9px">3</tspan></text>
<text x="661.0" y="1484.4" style="font-size:24px">10<tspan dy="-9.1" style="font-size:14.9px">4</tspan></text>
<text x="704.6" y="1484.4" style="font-size:24px">10<tspan dy="-9.1" style="font-size:14.9px">5</tspan></text>
<rect x="746.8" y="1265.0" width="193.5" height="193.5" fill="#fff" stroke="#858585" stroke-width="1.5"/>
<path d="M888.9,1403.6h1.3v1.3h-1.3zM880.1,1391.2h1.3v1.3h-1.3zM858.9,1400.7h1.3v1.3h-1.3zM853.4,1369.6h1.3v1.3h-1.3zM838.8,1387.0h1.3v1.3h-1.3zM843.3,1387.2h1.3v1.3h-1.3zM864.0,1347.6h1.3v1.3h-1.3zM860.8,1396.4h1.3v1.3h-1.3zM853.1,1432.3h1.3v1.3h-1.3zM888.2,1366.2h1.3v1.3h-1.3zM862.3,1400.4h1.3v1.3h-1.3zM834.5,1427.6h1.3v1.3h-1.3zM830.3,1374.6h1.3v1.3h-1.3zM852.4,1394.0h1.3v1.3h-1.3zM845.0,1385.8h1.3v1.3h-1.3zM865.3,1376.9h1.3v1.3h-1.3zM862.8,1389.5h1.3v1.3h-1.3zM862.2,1367.2h1.3v1.3h-1.3zM853.8,1393.6h1.3v1.3h-1.3zM876.4,1396.4h1.3v1.3h-1.3zM855.5,1442.5h1.3v1.3h-1.3zM839.5,1382.4h1.3v1.3h-1.3zM854.0,1380.0h1.3v1.3h-1.3zM845.5,1386.3h1.3v1.3h-1.3zM841.6,1392.5h1.3v1.3h-1.3zM865.0,1360.5h1.3v1.3h-1.3zM856.6,1365.4h1.3v1.3h-1.3zM828.3,1380.5h1.3v1.3h-1.3zM854.5,1394.2h1.3v1.3h-1.3zM861.8,1418.5h1.3v1.3h-1.3zM848.8,1375.7h1.3v1.3h-1.3zM827.2,1442.4h1.3v1.3h-1.3zM848.1,1391.8h1.3v1.3h-1.3zM820.8,1374.7h1.3v1.3h-1.3zM857.3,1341.0h1.3v1.3h-1.3zM848.2,1378.6h1.3v1.3h-1.3zM841.7,1387.6h1.3v1.3h-1.3zM823.0,1417.2h1.3v1.3h-1.3zM856.5,1372.4h1.3v1.3h-1.3zM860.2,1420.4h1.3v1.3h-1.3zM863.0,1407.6h1.3v1.3h-1.3zM870.2,1369.7h1.3v1.3h-1.3zM837.5,1375.3h1.3v1.3h-1.3zM869.3,1399.7h1.3v1.3h-1.3zM850.3,1370.7h1.3v1.3h-1.3zM868.4,1418.7h1.3v1.3h-1.3zM867.0,1396.1h1.3v1.3h-1.3zM865.5,1427.8h1.3v1.3h-1.3zM858.6,1355.8h1.3v1.3h-1.3zM851.7,1371.5h1.3v1.3h-1.3zM850.7,1376.0h1.3v1.3h-1.3zM839.1,1384.7h1.3v1.3h-1.3zM873.4,1385.2h1.3v1.3h-1.3zM816.8,1382.9h1.3v1.3h-1.3zM873.3,1427.3h1.3v1.3h-1.3zM855.4,1396.4h1.3v1.3h-1.3zM873.0,1389.0h1.3v1.3h-1.3zM843.7,1378.3h1.3v1.3h-1.3zM875.5,1394.3h1.3v1.3h-1.3zM867.3,1363.0h1.3v1.3h-1.3zM879.2,1400.3h1.3v1.3h-1.3zM861.0,1379.1h1.3v1.3h-1.3zM832.6,1388.5h1.3v1.3h-1.3zM864.5,1362.8h1.3v1.3h-1.3zM848.9,1418.6h1.3v1.3h-1.3zM854.2,1363.0h1.3v1.3h-1.3zM852.9,1402.7h1.3v1.3h-1.3zM860.7,1394.9h1.3v1.3h-1.3zM847.8,1378.3h1.3v1.3h-1.3zM855.7,1411.2h1.3v1.3h-1.3zM843.3,1377.9h1.3v1.3h-1.3zM859.1,1398.3h1.3v1.3h-1.3zM890.1,1386.7h1.3v1.3h-1.3zM870.9,1423.9h1.3v1.3h-1.3zM833.5,1382.4h1.3v1.3h-1.3zM841.3,1382.3h1.3v1.3h-1.3zM856.2,1413.7h1.3v1.3h-1.3zM861.2,1390.1h1.3v1.3h-1.3zM832.0,1376.6h1.3v1.3h-1.3zM860.2,1409.3h1.3v1.3h-1.3zM825.7,1425.2h1.3v1.3h-1.3zM860.2,1360.8h1.3v1.3h-1.3zM854.1,1414.4h1.3v1.3h-1.3zM843.7,1376.4h1.3v1.3h-1.3zM826.3,1384.1h1.3v1.3h-1.3zM838.0,1430.4h1.3v1.3h-1.3zM871.8,1367.5h1.3v1.3h-1.3zM820.8,1400.8h1.3v1.3h-1.3zM859.2,1357.1h1.3v1.3h-1.3zM823.1,1390.7h1.3v1.3h-1.3zM875.1,1367.4h1.3v1.3h-1.3zM829.3,1392.9h1.3v1.3h-1.3zM848.2,1372.5h1.3v1.3h-1.3zM851.4,1369.0h1.3v1.3h-1.3zM876.5,1371.5h1.3v1.3h-1.3zM888.6,1396.5h1.3v1.3h-1.3zM855.7,1365.9h1.3v1.3h-1.3zM852.7,1379.6h1.3v1.3h-1.3zM857.1,1395.6h1.3v1.3h-1.3zM840.4,1421.3h1.3v1.3h-1.3zM839.8,1379.6h1.3v1.3h-1.3zM830.9,1382.0h1.3v1.3h-1.3zM846.5,1434.6h1.3v1.3h-1.3zM871.9,1373.8h1.3v1.3h-1.3zM859.2,1386.1h1.3v1.3h-1.3zM866.5,1418.0h1.3v1.3h-1.3zM854.8,1404.2h1.3v1.3h-1.3zM860.8,1420.3h1.3v1.3h-1.3zM855.0,1361.2h1.3v1.3h-1.3zM852.1,1368.0h1.3v1.3h-1.3zM842.1,1429.0h1.3v1.3h-1.3zM857.0,1369.9h1.3v1.3h-1.3zM856.1,1403.1h1.3v1.3h-1.3zM860.3,1396.8h1.3v1.3h-1.3zM865.3,1384.4h1.3v1.3h-1.3zM855.5,1361.0h1.3v1.3h-1.3zM860.1,1412.0h1.3v1.3h-1.3zM873.5,1335.3h1.3v1.3h-1.3zM838.7,1374.3h1.3v1.3h-1.3zM840.6,1375.2h1.3v1.3h-1.3zM861.8,1335.9h1.3v1.3h-1.3zM855.0,1373.0h1.3v1.3h-1.3zM839.7,1379.9h1.3v1.3h-1.3zM851.3,1331.6h1.3v1.3h-1.3zM852.5,1390.6h1.3v1.3h-1.3zM851.3,1336.8h1.3v1.3h-1.3zM864.0,1392.1h1.3v1.3h-1.3zM825.6,1389.6h1.3v1.3h-1.3zM850.6,1382.5h1.3v1.3h-1.3zM867.2,1368.2h1.3v1.3h-1.3zM865.8,1356.9h1.3v1.3h-1.3zM853.9,1416.8h1.3v1.3h-1.3zM854.7,1367.9h1.3v1.3h-1.3zM872.1,1367.7h1.3v1.3h-1.3zM852.8,1372.7h1.3v1.3h-1.3zM849.0,1428.6h1.3v1.3h-1.3zM860.6,1343.8h1.3v1.3h-1.3zM863.0,1356.2h1.3v1.3h-1.3zM858.2,1401.2h1.3v1.3h-1.3zM827.4,1390.1h1.3v1.3h-1.3zM840.5,1375.5h1.3v1.3h-1.3zM847.5,1393.2h1.3v1.3h-1.3zM843.1,1382.2h1.3v1.3h-1.3zM832.3,1319.2h1.3v1.3h-1.3zM852.3,1369.0h1.3v1.3h-1.3zM855.0,1383.6h1.3v1.3h-1.3zM862.9,1384.1h1.3v1.3h-1.3zM854.9,1397.4h1.3v1.3h-1.3zM874.3,1385.7h1.3v1.3h-1.3zM838.2,1382.6h1.3v1.3h-1.3zM858.2,1362.0h1.3v1.3h-1.3zM851.5,1374.2h1.3v1.3h-1.3zM858.3,1448.9h1.3v1.3h-1.3zM867.2,1377.2h1.3v1.3h-1.3zM858.5,1364.6h1.3v1.3h-1.3zM848.5,1375.4h1.3v1.3h-1.3zM874.4,1381.0h1.3v1.3h-1.3zM840.9,1374.1h1.3v1.3h-1.3zM859.4,1356.6h1.3v1.3h-1.3zM851.4,1386.7h1.3v1.3h-1.3zM864.1,1368.2h1.3v1.3h-1.3zM832.9,1422.8h1.3v1.3h-1.3zM854.7,1373.5h1.3v1.3h-1.3zM855.8,1396.0h1.3v1.3h-1.3zM850.8,1375.1h1.3v1.3h-1.3zM862.6,1370.2h1.3v1.3h-1.3zM858.4,1373.4h1.3v1.3h-1.3zM848.5,1384.4h1.3v1.3h-1.3zM848.4,1395.0h1.3v1.3h-1.3zM852.6,1389.4h1.3v1.3h-1.3zM855.8,1434.0h1.3v1.3h-1.3zM864.0,1396.8h1.3v1.3h-1.3zM852.7,1375.3h1.3v1.3h-1.3zM847.9,1419.0h1.3v1.3h-1.3zM852.4,1392.5h1.3v1.3h-1.3zM882.3,1384.7h1.3v1.3h-1.3zM873.9,1395.8h1.3v1.3h-1.3zM858.1,1389.8h1.3v1.3h-1.3zM865.5,1366.8h1.3v1.3h-1.3zM850.4,1390.6h1.3v1.3h-1.3zM837.2,1387.2h1.3v1.3h-1.3zM860.8,1370.8h1.3v1.3h-1.3zM866.0,1420.6h1.3v1.3h-1.3zM857.5,1367.8h1.3v1.3h-1.3zM870.3,1407.9h1.3v1.3h-1.3zM826.7,1379.6h1.3v1.3h-1.3zM889.5,1430.9h1.3v1.3h-1.3zM852.1,1388.2h1.3v1.3h-1.3zM840.2,1375.7h1.3v1.3h-1.3zM862.7,1357.5h1.3v1.3h-1.3zM846.6,1417.4h1.3v1.3h-1.3zM871.8,1360.3h1.3v1.3h-1.3zM820.6,1375.3h1.3v1.3h-1.3zM827.2,1324.7h1.3v1.3h-1.3zM854.7,1407.1h1.3v1.3h-1.3zM862.2,1341.7h1.3v1.3h-1.3zM839.5,1379.5h1.3v1.3h-1.3zM874.6,1394.5h1.3v1.3h-1.3zM850.9,1334.7h1.3v1.3h-1.3zM826.2,1389.8h1.3v1.3h-1.3zM846.1,1384.7h1.3v1.3h-1.3zM864.2,1370.8h1.3v1.3h-1.3zM856.8,1401.7h1.3v1.3h-1.3zM849.3,1418.6h1.3v1.3h-1.3zM833.7,1379.3h1.3v1.3h-1.3zM868.7,1346.5h1.3v1.3h-1.3zM848.1,1383.0h1.3v1.3h-1.3zM855.4,1424.6h1.3v1.3h-1.3zM843.6,1386.8h1.3v1.3h-1.3zM877.1,1369.7h1.3v1.3h-1.3zM856.5,1434.7h1.3v1.3h-1.3zM852.3,1431.5h1.3v1.3h-1.3zM843.8,1389.7h1.3v1.3h-1.3zM866.7,1418.1h1.3v1.3h-1.3zM868.1,1364.1h1.3v1.3h-1.3zM858.3,1340.7h1.3v1.3h-1.3zM844.5,1390.8h1.3v1.3h-1.3zM857.3,1359.4h1.3v1.3h-1.3zM854.4,1384.3h1.3v1.3h-1.3zM827.5,1388.2h1.3v1.3h-1.3zM847.2,1439.7h1.3v1.3h-1.3zM857.2,1386.7h1.3v1.3h-1.3zM876.5,1426.8h1.3v1.3h-1.3zM851.4,1426.8h1.3v1.3h-1.3zM841.2,1388.6h1.3v1.3h-1.3zM844.8,1389.1h1.3v1.3h-1.3zM863.0,1378.2h1.3v1.3h-1.3zM869.5,1444.1h1.3v1.3h-1.3zM871.2,1409.0h1.3v1.3h-1.3zM857.8,1384.7h1.3v1.3h-1.3zM861.2,1433.3h1.3v1.3h-1.3zM870.7,1397.1h1.3v1.3h-1.3zM844.6,1388.2h1.3v1.3h-1.3zM852.9,1372.1h1.3v1.3h-1.3zM870.5,1380.3h1.3v1.3h-1.3zM860.6,1405.3h1.3v1.3h-1.3zM856.4,1390.6h1.3v1.3h-1.3zM833.5,1438.3h1.3v1.3h-1.3zM821.7,1377.5h1.3v1.3h-1.3zM854.6,1423.9h1.3v1.3h-1.3zM844.5,1391.0h1.3v1.3h-1.3zM830.6,1392.7h1.3v1.3h-1.3zM843.5,1427.6h1.3v1.3h-1.3zM836.7,1381.1h1.3v1.3h-1.3zM849.6,1380.3h1.3v1.3h-1.3zM854.5,1393.6h1.3v1.3h-1.3zM865.4,1406.3h1.3v1.3h-1.3zM870.8,1368.2h1.3v1.3h-1.3zM860.4,1422.2h1.3v1.3h-1.3zM827.5,1394.8h1.3v1.3h-1.3zM852.2,1425.8h1.3v1.3h-1.3zM863.6,1390.1h1.3v1.3h-1.3zM861.5,1430.8h1.3v1.3h-1.3zM846.8,1374.9h1.3v1.3h-1.3zM858.4,1412.0h1.3v1.3h-1.3zM831.7,1382.8h1.3v1.3h-1.3zM841.6,1385.0h1.3v1.3h-1.3zM823.9,1443.0h1.3v1.3h-1.3zM866.4,1411.2h1.3v1.3h-1.3zM856.1,1385.1h1.3v1.3h-1.3zM864.3,1359.9h1.3v1.3h-1.3zM859.9,1390.0h1.3v1.3h-1.3zM856.4,1389.6h1.3v1.3h-1.3zM852.3,1424.1h1.3v1.3h-1.3zM865.7,1402.4h1.3v1.3h-1.3zM855.3,1433.0h1.3v1.3h-1.3zM841.4,1445.1h1.3v1.3h-1.3zM815.0,1326.7h1.3v1.3h-1.3zM843.5,1376.9h1.3v1.3h-1.3zM856.7,1350.3h1.3v1.3h-1.3zM856.4,1397.3h1.3v1.3h-1.3zM867.6,1378.9h1.3v1.3h-1.3zM856.2,1324.7h1.3v1.3h-1.3zM843.3,1391.7h1.3v1.3h-1.3zM860.5,1367.6h1.3v1.3h-1.3zM829.6,1385.5h1.3v1.3h-1.3zM863.7,1413.7h1.3v1.3h-1.3zM858.2,1396.5h1.3v1.3h-1.3zM853.3,1422.7h1.3v1.3h-1.3zM837.2,1419.0h1.3v1.3h-1.3z" fill="#333" fill-opacity="0.8"/>
<path d="M793.8,1417.5 790.3,1417.2 788.8,1415.6 787.5,1413.0 785.1,1404.0 783.4,1392.0 782.4,1376.0 782.2,1355.0 783.5,1344.0 786.3,1336.1 787.8,1334.0 789.8,1332.5 794.8,1332.2 800.8,1333.4 809.8,1337.7 812.3,1338.1 814.8,1337.1 825.8,1330.2 830.8,1328.2 837.8,1327.6 843.8,1329.5 847.0,1332.0 849.6,1335.5 853.0,1342.5 855.0,1348.5 856.0,1354.0 856.1,1358.5 855.5,1362.5 853.9,1366.5 851.7,1369.5 848.8,1371.9 844.3,1374.1 839.8,1375.5 833.3,1375.8 821.8,1372.8 819.3,1373.4 817.5,1377.0 813.1,1396.0 808.8,1406.0 805.7,1410.5 801.8,1414.3 797.8,1416.6 793.8,1417.5M840.3,1419.0 834.3,1418.9 829.3,1417.4 825.5,1414.5 823.0,1410.5 822.0,1404.5 823.1,1399.5 826.1,1395.5 830.8,1392.8 837.8,1391.8 844.8,1392.8 849.8,1395.8 852.8,1400.5 853.5,1403.5 853.4,1407.0 852.6,1410.5 851.3,1413.0 849.3,1415.3 846.8,1417.1 843.8,1418.4 840.3,1419.0" fill="none" stroke="rgb(140,140,140)" stroke-width="0.95"/>
<path d="M794.3,1413.6 791.8,1413.7 790.3,1413.3 788.0,1410.0 785.6,1401.5 784.0,1390.0 783.0,1373.5 782.9,1354.5 784.1,1345.0 786.8,1337.5 788.3,1335.5 790.3,1334.2 795.3,1334.2 801.3,1335.6 809.8,1340.0 812.3,1340.4 814.8,1339.3 824.3,1332.7 830.3,1330.0 836.8,1329.1 839.8,1329.6 842.8,1330.8 845.6,1333.0 847.9,1336.0 851.1,1342.5 852.9,1348.0 853.9,1353.0 854.0,1357.5 853.3,1361.5 851.8,1365.0 849.8,1367.6 846.8,1369.8 842.3,1371.9 837.8,1373.0 830.3,1372.5 820.3,1368.9 817.9,1369.5 816.2,1373.0 812.2,1392.0 808.1,1402.0 805.2,1406.5 801.8,1410.1 798.3,1412.4 794.3,1413.6M840.8,1417.6 835.3,1417.6 830.8,1416.4 827.1,1414.0 824.7,1410.5 823.6,1405.5 824.4,1400.5 826.8,1396.9 830.8,1394.3 836.8,1393.1 843.3,1393.8 847.8,1396.1 851.0,1400.0 851.7,1402.5 851.9,1406.0 850.4,1411.5 848.5,1414.0 846.3,1415.7 840.8,1417.6" fill="none" stroke="rgb(136,136,136)" stroke-width="0.95"/>
<path d="M794.8,1410.0 790.8,1410.1 788.4,1407.0 786.2,1399.5 784.5,1388.5 783.5,1372.0 783.5,1354.5 784.7,1345.5 787.3,1338.7 788.8,1336.8 790.8,1335.8 796.8,1336.1 801.8,1337.6 809.8,1342.3 812.3,1342.7 814.8,1341.5 823.3,1334.9 830.3,1331.4 836.8,1330.5 842.3,1332.3 844.8,1334.4 846.6,1337.0 849.5,1343.0 851.2,1348.0 852.1,1356.5 851.5,1360.0 849.9,1363.5 847.8,1366.0 844.3,1368.3 840.3,1369.9 836.3,1370.6 829.8,1369.9 819.3,1365.1 816.8,1365.5 814.8,1370.0 811.2,1389.0 807.8,1398.0 805.1,1402.5 801.8,1406.4 798.3,1408.8 794.8,1410.0M841.8,1416.0 836.8,1416.4 832.8,1415.8 829.3,1414.0 826.6,1411.0 825.2,1407.0 825.3,1402.5 826.8,1399.0 829.8,1396.3 834.8,1394.5 841.3,1394.6 845.8,1396.3 849.1,1399.5 850.5,1404.5 849.5,1410.0 846.3,1414.0 841.8,1416.0" fill="none" stroke="rgb(132,132,132)" stroke-width="0.95"/>
<path d="M794.3,1407.0 790.8,1407.0 788.7,1404.5 786.6,1397.5 785.0,1387.0 784.0,1371.5 784.0,1355.0 785.1,1346.5 787.5,1340.0 789.3,1338.0 790.8,1337.2 797.3,1337.7 802.3,1339.4 809.8,1344.5 812.3,1345.3 814.3,1344.4 822.3,1337.1 829.3,1333.1 832.3,1332.1 835.8,1331.8 838.8,1332.3 841.5,1333.5 843.8,1335.5 845.5,1338.0 848.0,1343.0 849.6,1348.0 850.3,1356.0 849.7,1359.0 848.3,1361.9 845.8,1364.6 842.3,1366.6 838.3,1367.9 834.3,1368.3 828.3,1367.1 818.3,1361.2 816.8,1360.9 815.8,1361.3 814.8,1362.7 813.8,1366.0 810.4,1385.5 807.1,1395.0 804.3,1399.9 801.3,1403.4 797.8,1405.9 794.3,1407.0M840.3,1415.1 835.8,1415.1 832.3,1414.2 829.3,1412.3 827.3,1409.5 826.4,1405.5 827.0,1401.5 828.8,1398.7 831.8,1396.6 836.3,1395.5 841.8,1395.9 845.8,1397.8 848.4,1401.0 849.1,1405.5 848.0,1410.0 844.8,1413.4 840.3,1415.1" fill="none" stroke="rgb(128,128,128)" stroke-width="0.95"/>
<path d="M794.8,1404.1 791.3,1404.4 789.0,1402.0 787.1,1396.0 785.5,1386.5 784.5,1372.0 784.4,1355.5 785.6,1347.0 787.9,1341.0 789.3,1339.4 791.3,1338.5 798.3,1339.3 803.3,1341.6 810.8,1347.7 812.8,1348.5 814.3,1347.7 821.2,1339.5 828.3,1334.8 831.3,1333.6 834.8,1333.1 837.8,1333.4 840.8,1334.7 842.8,1336.5 844.5,1339.0 848.1,1348.0 848.6,1355.0 846.8,1360.3 844.3,1362.9 840.8,1364.8 836.8,1365.9 832.8,1366.0 826.8,1364.1 817.3,1356.9 815.8,1356.2 814.8,1356.4 813.1,1360.5 810.1,1380.5 806.8,1391.5 804.3,1396.4 801.6,1400.0 798.3,1402.7 794.8,1404.1M838.3,1414.0 834.3,1413.6 831.3,1412.2 829.1,1410.0 827.9,1407.0 827.9,1403.5 829.0,1400.5 831.3,1398.3 834.8,1396.9 839.3,1396.6 843.3,1397.7 846.2,1400.0 847.6,1403.0 847.5,1407.5 845.8,1410.9 842.8,1413.1 838.3,1414.0" fill="none" stroke="rgb(124,124,124)" stroke-width="0.95"/>
<path d="M835.8,1363.5 830.3,1363.0 825.3,1360.5 819.8,1355.0 817.7,1352.0 817.1,1350.0 817.5,1347.5 818.6,1345.0 822.3,1340.4 828.8,1336.0 834.3,1334.5 838.8,1335.3 842.1,1338.0 845.5,1345.0 846.8,1351.5 846.3,1356.0 844.3,1359.6 840.3,1362.3 835.8,1363.5M794.8,1401.1 790.8,1401.2 788.5,1397.5 786.4,1388.5 785.1,1374.0 784.9,1358.0 785.7,1349.5 788.0,1342.5 789.8,1340.5 791.8,1339.9 798.3,1340.8 803.8,1343.7 809.7,1350.0 810.9,1352.5 811.4,1355.0 809.6,1375.0 806.6,1387.5 804.1,1393.0 801.3,1396.9 798.3,1399.6 794.8,1401.1M839.3,1412.5 835.8,1412.5 833.3,1411.7 831.3,1410.2 829.8,1408.0 829.3,1405.0 829.9,1402.0 831.4,1400.0 833.8,1398.5 837.3,1397.9 841.3,1398.4 844.2,1400.0 845.9,1402.5 846.2,1406.0 845.3,1409.0 842.8,1411.4 839.3,1412.5" fill="none" stroke="rgb(119,119,119)" stroke-width="0.95"/>
<path d="M836.8,1360.6 831.8,1360.6 827.3,1358.8 822.6,1354.5 819.9,1349.5 820.3,1346.0 822.9,1342.0 827.8,1338.2 832.8,1336.2 836.8,1336.3 840.3,1338.5 843.1,1343.5 844.6,1348.5 844.7,1353.0 843.4,1356.5 840.8,1359.0 836.8,1360.6M794.8,1398.1 790.8,1398.2 788.8,1395.1 786.8,1386.5 785.6,1373.5 785.4,1358.0 786.1,1350.0 788.3,1343.8 789.8,1342.0 791.8,1341.4 798.3,1342.4 803.8,1345.6 808.1,1351.0 809.6,1357.0 808.4,1373.5 805.5,1385.5 803.3,1390.4 800.8,1394.1 797.8,1396.8 794.8,1398.1M840.3,1410.6 835.3,1410.6 832.2,1408.5 831.3,1406.5 831.2,1404.0 832.0,1402.0 833.3,1400.7 835.8,1399.6 839.3,1399.5 841.8,1400.4 843.6,1402.0 844.4,1404.5 844.0,1407.5 842.5,1409.5 840.3,1410.6" fill="none" stroke="rgb(115,115,115)" stroke-width="0.95"/>
<path d="M835.8,1357.6 831.8,1357.6 828.2,1356.0 824.8,1352.8 822.5,1348.5 822.9,1345.5 825.3,1342.1 829.7,1339.0 833.3,1337.8 836.3,1338.1 839.0,1340.0 841.3,1344.4 842.4,1348.5 842.2,1352.0 841.2,1354.5 839.3,1356.2 835.8,1357.6M794.8,1395.1 791.3,1395.4 789.3,1393.0 787.4,1385.5 786.2,1373.5 785.9,1358.5 786.5,1351.0 788.8,1344.7 790.3,1343.2 791.8,1342.8 797.8,1343.7 802.8,1346.7 806.5,1351.5 808.0,1357.5 807.2,1372.0 804.7,1383.0 802.7,1387.5 800.3,1391.2 797.8,1393.6 794.8,1395.1M839.3,1408.5 836.3,1408.5 834.2,1407.0 833.8,1404.0 835.3,1402.1 838.8,1401.6 841.3,1403.0 841.9,1404.5 841.7,1406.5 840.8,1407.7 839.3,1408.5" fill="none" stroke="rgb(111,111,111)" stroke-width="0.95"/>
<path d="M835.3,1353.6 832.3,1353.7 829.8,1352.7 827.4,1350.5 825.7,1347.5 825.9,1345.5 827.3,1343.3 829.8,1341.3 832.8,1340.1 834.8,1340.1 836.8,1341.2 839.3,1346.6 839.5,1349.0 838.8,1351.3 837.7,1352.5 835.3,1353.6M794.8,1392.0 791.3,1392.4 789.3,1389.7 787.7,1383.0 786.7,1373.0 786.4,1359.0 786.9,1352.0 788.8,1346.4 790.3,1344.7 791.8,1344.3 797.3,1345.1 802.1,1348.0 805.3,1352.5 806.6,1358.0 805.9,1370.5 803.6,1381.0 799.8,1388.3 797.3,1390.7 794.8,1392.0" fill="none" stroke="rgb(107,107,107)" stroke-width="0.95"/>
<path d="M794.3,1389.1 791.3,1389.3 789.8,1387.5 788.2,1381.5 787.2,1371.5 786.9,1359.0 787.5,1352.5 789.3,1347.3 790.3,1346.2 791.8,1345.8 797.3,1346.7 801.3,1349.4 804.1,1353.5 805.1,1358.5 804.5,1370.0 802.5,1379.0 798.8,1385.9 796.8,1387.8 794.3,1389.1" fill="none" stroke="rgb(102,102,102)" stroke-width="0.95"/>
<path d="M793.8,1386.0 791.3,1386.1 789.8,1384.0 788.4,1378.0 787.6,1369.5 787.4,1359.0 787.9,1353.5 789.4,1349.0 790.3,1347.9 791.8,1347.3 796.3,1348.0 800.3,1350.5 802.6,1354.0 803.7,1358.5 803.2,1368.5 801.3,1377.0 798.1,1383.0 796.3,1384.8 793.8,1386.0" fill="none" stroke="rgb(98,98,98)" stroke-width="0.95"/>
<path d="M793.8,1382.6 791.3,1382.7 790.3,1381.5 789.0,1376.5 788.2,1369.0 788.4,1354.5 789.8,1350.2 791.8,1348.9 795.8,1349.6 798.9,1351.5 801.3,1355.0 802.1,1359.0 801.6,1368.0 800.0,1375.0 797.3,1380.0 793.8,1382.6" fill="none" stroke="rgb(94,94,94)" stroke-width="0.95"/>
<path d="M792.8,1378.6 791.3,1378.5 790.2,1376.5 788.7,1365.0 789.2,1354.5 790.3,1351.8 791.8,1351.0 795.3,1351.6 797.8,1353.2 799.6,1356.0 800.3,1359.5 799.8,1367.0 798.3,1372.8 795.8,1376.9 792.8,1378.6" fill="none" stroke="rgb(90,90,90)" stroke-width="0.95"/>
<path d="M792.3,1373.1 791.3,1372.9 790.5,1371.0 789.6,1363.0 789.9,1356.5 790.8,1354.2 791.8,1353.7 794.0,1354.0 795.8,1355.0 797.2,1357.0 797.7,1359.5 797.4,1365.0 796.3,1369.2 794.5,1372.0 792.3,1373.1" fill="none" stroke="rgb(85,85,85)" stroke-width="0.95"/>
<line x1="814.50" y1="1265.00" x2="814.50" y2="1458.50" stroke="#222" stroke-width="1.4" stroke-linecap="butt"/>
<line x1="746.80" y1="1378.70" x2="940.30" y2="1378.70" stroke="#222" stroke-width="1.4" stroke-linecap="butt"/>
<text x="747.02" y="1289.70" style="font-size:25.5px" fill="#000">62.5</text>
<text x="884.85" y="1289.70" style="font-size:25.5px" fill="#000">16.9</text>
<text x="747.39" y="1452.50" style="font-size:25.5px" fill="#000">10.1</text>
<text x="884.72" y="1452.50" style="font-size:25.5px" fill="#000">10.5</text>
<path d="M740.8,1282.7h6M740.8,1325.0h6M740.8,1370.0h6" stroke="#333" stroke-width="1.3"/>
<path d="M743.8,1268.0h3M743.8,1273.0h3M743.8,1278.0h3M743.8,1283.0h3M743.8,1288.0h3M743.8,1293.0h3M743.8,1298.0h3M743.8,1303.0h3M743.8,1308.0h3M743.8,1313.0h3M743.8,1318.0h3M743.8,1323.0h3M743.8,1328.0h3M743.8,1333.0h3M743.8,1338.0h3M743.8,1343.0h3M743.8,1348.0h3M743.8,1353.0h3M743.8,1358.0h3M743.8,1363.0h3M743.8,1368.0h3M743.8,1373.0h3M743.8,1378.0h3M743.8,1383.0h3M743.8,1388.0h3M743.8,1393.0h3M743.8,1398.0h3M743.8,1403.0h3M743.8,1408.0h3M743.8,1413.0h3M743.8,1418.0h3M743.8,1423.0h3M743.8,1428.0h3M743.8,1433.0h3M743.8,1438.0h3M743.8,1443.0h3M743.8,1448.0h3M743.8,1453.0h3" stroke="#777" stroke-width="0.8"/>
<rect x="740.8" y="1428.0" width="3" height="6" fill="#111"/>
<path d="M788.1,1458.5v6M823.3,1458.5v6M875.3,1458.5v6M920.9,1458.5v6" stroke="#333" stroke-width="1.3"/>
<path d="M751.8,1458.5v3M755.8,1458.5v3M759.8,1458.5v3M763.8,1458.5v3M767.8,1458.5v3M771.8,1458.5v3M775.8,1458.5v3M779.8,1458.5v3M783.8,1458.5v3M787.8,1458.5v3M791.8,1458.5v3M795.8,1458.5v3M799.8,1458.5v3M803.8,1458.5v3M807.8,1458.5v3M811.8,1458.5v3M815.8,1458.5v3M819.8,1458.5v3M823.8,1458.5v3M827.8,1458.5v3M831.8,1458.5v3M835.8,1458.5v3M839.8,1458.5v3M843.8,1458.5v3M847.8,1458.5v3M851.8,1458.5v3M855.8,1458.5v3M859.8,1458.5v3M863.8,1458.5v3M867.8,1458.5v3M871.8,1458.5v3M875.8,1458.5v3M879.8,1458.5v3M883.8,1458.5v3M887.8,1458.5v3M891.8,1458.5v3M895.8,1458.5v3M899.8,1458.5v3M903.8,1458.5v3M907.8,1458.5v3M911.8,1458.5v3M915.8,1458.5v3M919.8,1458.5v3M923.8,1458.5v3M927.8,1458.5v3M931.8,1458.5v3M935.8,1458.5v3" stroke="#777" stroke-width="0.8"/>
<rect x="784.8" y="1458.5" width="8" height="4" fill="#111"/>
<text x="782.61" y="1484.40" style="font-size:24px" fill="#000">0</text>
<text x="811.0" y="1484.4" style="font-size:24px">10<tspan dy="-9.1" style="font-size:14.9px">3</tspan></text>
<text x="865.3" y="1484.4" style="font-size:24px">10<tspan dy="-9.1" style="font-size:14.9px">4</tspan></text>
<text x="908.9" y="1484.4" style="font-size:24px">10<tspan dy="-9.1" style="font-size:14.9px">5</tspan></text>
<text x="94.7" y="1289.3" style="font-size:25px">10<tspan dy="-9.5" style="font-size:15.5px">5</tspan></text>
<text x="94.7" y="1331.0" style="font-size:25px">10<tspan dy="-9.5" style="font-size:15.5px">4</tspan></text>
<text x="94.7" y="1376.6" style="font-size:25px">10<tspan dy="-9.5" style="font-size:15.5px">3</tspan></text>
<text x="109.70" y="1438.40" style="font-size:25px" fill="#000">0</text>
<text transform="translate(86,1430.6) rotate(-90)" x="0" y="0" style="font-size:26.6px">CD62L-PE</text>
<text x="117.67" y="1516.20" style="font-size:26.5px" fill="#000">CD44-APC</text>
<line x1="260.50" y1="1508.00" x2="815.00" y2="1508.00" stroke="#000" stroke-width="2.8" stroke-linecap="butt"/>
<polygon points="811,1499.5 829.5,1508 811,1516.5" fill="#000"/>
<text x="1212.40" y="1137.00" style="font-size:40px;font-weight:bold" fill="#000">i</text>
<line x1="1358.50" y1="1196.70" x2="1358.50" y2="1500.50" stroke="#000" stroke-width="4.3" stroke-linecap="butt"/>
<line x1="1346.30" y1="1498.50" x2="1785.40" y2="1498.50" stroke="#000" stroke-width="4.0" stroke-linecap="butt"/>
<line x1="1346.30" y1="1498.50" x2="1358.50" y2="1498.50" stroke="#000" stroke-width="3.2" stroke-linecap="butt"/>
<text x="1320.55" y="1507.50" style="font-size:26px" fill="#000">0</text>
<line x1="1346.30" y1="1438.44" x2="1358.50" y2="1438.44" stroke="#000" stroke-width="3.2" stroke-linecap="butt"/>
<text x="1306.12" y="1447.44" style="font-size:26px" fill="#000">10</text>
<line x1="1346.30" y1="1378.38" x2="1358.50" y2="1378.38" stroke="#000" stroke-width="3.2" stroke-linecap="butt"/>
<text x="1306.12" y="1387.38" style="font-size:26px" fill="#000">20</text>
<line x1="1346.30" y1="1318.32" x2="1358.50" y2="1318.32" stroke="#000" stroke-width="3.2" stroke-linecap="butt"/>
<text x="1306.12" y="1327.32" style="font-size:26px" fill="#000">30</text>
<line x1="1346.30" y1="1258.26" x2="1358.50" y2="1258.26" stroke="#000" stroke-width="3.2" stroke-linecap="butt"/>
<text x="1306.12" y="1267.26" style="font-size:26px" fill="#000">40</text>
<line x1="1346.30" y1="1198.20" x2="1358.50" y2="1198.20" stroke="#000" stroke-width="3.2" stroke-linecap="butt"/>
<text x="1306.12" y="1207.20" style="font-size:26px" fill="#000">50</text>
<rect x="1400.0" y="1438.4" width="51.1" height="60.1" fill="#fff" stroke="#000" stroke-width="2.5"/>
<rect x="1479.2" y="1335.7" width="51.2" height="162.8" fill="#fff" stroke="#000" stroke-width="2.5"/>
<rect x="1612.2" y="1435.4" width="51.1" height="63.1" fill="#fff" stroke="#000" stroke-width="2.5"/>
<rect x="1692.2" y="1420.4" width="51.1" height="78.1" fill="#fff" stroke="#000" stroke-width="2.5"/>
<line x1="1425.00" y1="1498.50" x2="1425.00" y2="1509.50" stroke="#000" stroke-width="3.2" stroke-linecap="butt"/>
<line x1="1504.30" y1="1498.50" x2="1504.30" y2="1509.50" stroke="#000" stroke-width="3.2" stroke-linecap="butt"/>
<line x1="1637.50" y1="1498.50" x2="1637.50" y2="1509.50" stroke="#000" stroke-width="3.2" stroke-linecap="butt"/>
<line x1="1717.40" y1="1498.50" x2="1717.40" y2="1509.50" stroke="#000" stroke-width="3.2" stroke-linecap="butt"/>
<line x1="1425.60" y1="1432.43" x2="1425.60" y2="1445.65" stroke="#000" stroke-width="2.4" stroke-linecap="butt"/>
<line x1="1412.10" y1="1432.43" x2="1439.10" y2="1432.43" stroke="#000" stroke-width="2.4" stroke-linecap="butt"/>
<line x1="1412.10" y1="1445.65" x2="1439.10" y2="1445.65" stroke="#000" stroke-width="2.4" stroke-linecap="butt"/>
<line x1="1504.90" y1="1317.72" x2="1504.90" y2="1354.36" stroke="#000" stroke-width="2.4" stroke-linecap="butt"/>
<line x1="1491.40" y1="1317.72" x2="1518.40" y2="1317.72" stroke="#000" stroke-width="2.4" stroke-linecap="butt"/>
<line x1="1491.40" y1="1354.36" x2="1518.40" y2="1354.36" stroke="#000" stroke-width="2.4" stroke-linecap="butt"/>
<line x1="1637.80" y1="1430.03" x2="1637.80" y2="1441.44" stroke="#000" stroke-width="2.4" stroke-linecap="butt"/>
<line x1="1624.30" y1="1430.03" x2="1651.30" y2="1430.03" stroke="#000" stroke-width="2.4" stroke-linecap="butt"/>
<line x1="1624.30" y1="1441.44" x2="1651.30" y2="1441.44" stroke="#000" stroke-width="2.4" stroke-linecap="butt"/>
<line x1="1717.60" y1="1410.81" x2="1717.60" y2="1429.43" stroke="#000" stroke-width="2.4" stroke-linecap="butt"/>
<line x1="1704.10" y1="1410.81" x2="1731.10" y2="1410.81" stroke="#000" stroke-width="2.4" stroke-linecap="butt"/>
<line x1="1704.10" y1="1429.43" x2="1731.10" y2="1429.43" stroke="#000" stroke-width="2.4" stroke-linecap="butt"/>
<circle cx="1418.9" cy="1423" r="4.6" fill="#000"/>
<circle cx="1432.3" cy="1431.5" r="4.6" fill="#000"/>
<circle cx="1412.5" cy="1445.2" r="4.6" fill="#000"/>
<circle cx="1425.6" cy="1449.8" r="4.6" fill="#000"/>
<circle cx="1437.8" cy="1446.7" r="4.6" fill="#000"/>
<circle cx="1504.9" cy="1264.4" r="4.6" fill="#000"/>
<circle cx="1492" cy="1347" r="4.6" fill="#000"/>
<circle cx="1517.7" cy="1346" r="4.6" fill="#000"/>
<circle cx="1504.9" cy="1354" r="4.6" fill="#000"/>
<circle cx="1504.9" cy="1372.6" r="4.6" fill="#000"/>
<circle cx="1638.1" cy="1414" r="3.9" fill="#fff" stroke="#000" stroke-width="2.1"/>
<circle cx="1618.3" cy="1440.6" r="3.9" fill="#fff" stroke="#000" stroke-width="2.1"/>
<circle cx="1631.4" cy="1446.1" r="3.9" fill="#fff" stroke="#000" stroke-width="2.1"/>
<circle cx="1644.2" cy="1444.3" r="3.9" fill="#fff" stroke="#000" stroke-width="2.1"/>
<circle cx="1657.3" cy="1436.3" r="3.9" fill="#fff" stroke="#000" stroke-width="2.1"/>
<circle cx="1717.4" cy="1387.3" r="3.9" fill="#fff" stroke="#000" stroke-width="2.1"/>
<circle cx="1712.2" cy="1416.2" r="3.9" fill="#fff" stroke="#000" stroke-width="2.1"/>
<circle cx="1730.5" cy="1423.8" r="3.9" fill="#fff" stroke="#000" stroke-width="2.1"/>
<circle cx="1724.4" cy="1436" r="3.9" fill="#fff" stroke="#000" stroke-width="2.1"/>
<circle cx="1711.6" cy="1441.2" r="3.9" fill="#fff" stroke="#000" stroke-width="2.1"/>
<text x="1413.27" y="1232.70" style="font-size:21px" fill="#000">P=0.0007</text>
<line x1="1402.70" y1="1242.40" x2="1512.50" y2="1242.40" stroke="#000" stroke-width="2.4" stroke-linecap="butt"/>
<text x="1618.97" y="1355.20" style="font-size:21px" fill="#000">P=0.2049</text>
<line x1="1614.60" y1="1368.00" x2="1724.40" y2="1368.00" stroke="#000" stroke-width="2.4" stroke-linecap="butt"/>
<circle cx="1359.1" cy="1142.4" r="4.5" fill="#000"/>
<circle cx="1359.1" cy="1169.9" r="3.8" fill="#fff" stroke="#000" stroke-width="2"/>
<text x="1392.7" y="1152.5" style="font-size:27px;font-style:italic">Pten<tspan dy="-10.0" style="font-size:17.5px">f/f</tspan></text>
<text x="1392.7" y="1180.9" style="font-size:27px;font-style:italic">Pten<tspan dy="-10.0" style="font-size:17.5px">mKO</tspan></text>
<text transform="translate(1442.0,1528.5) rotate(-45)" x="0" y="0" text-anchor="end" style="font-size:26px">PBS</text>
<text transform="translate(1524.0,1528.5) rotate(-45)" x="0" y="0" text-anchor="end" style="font-size:26px">MTX</text>
<text transform="translate(1649.0,1528.5) rotate(-45)" x="0" y="0" text-anchor="end" style="font-size:26px">PBS</text>
<text transform="translate(1736.0,1528.5) rotate(-45)" x="0" y="0" text-anchor="end" style="font-size:26px">MTX</text>
<text transform="translate(1284.5,1517.5) rotate(-90)" x="0" y="0" style="font-size:27.2px">CD62L<tspan dy="-9.5" style="font-size:17px">-</tspan><tspan dy="9.5"> CD44</tspan><tspan dy="-9.5" style="font-size:17px">+</tspan><tspan dy="9.5"> (% of CD8</tspan><tspan dy="-9.5" style="font-size:17px">+</tspan><tspan dy="9.5"> T)</tspan></text>
</svg>
</body></html>
